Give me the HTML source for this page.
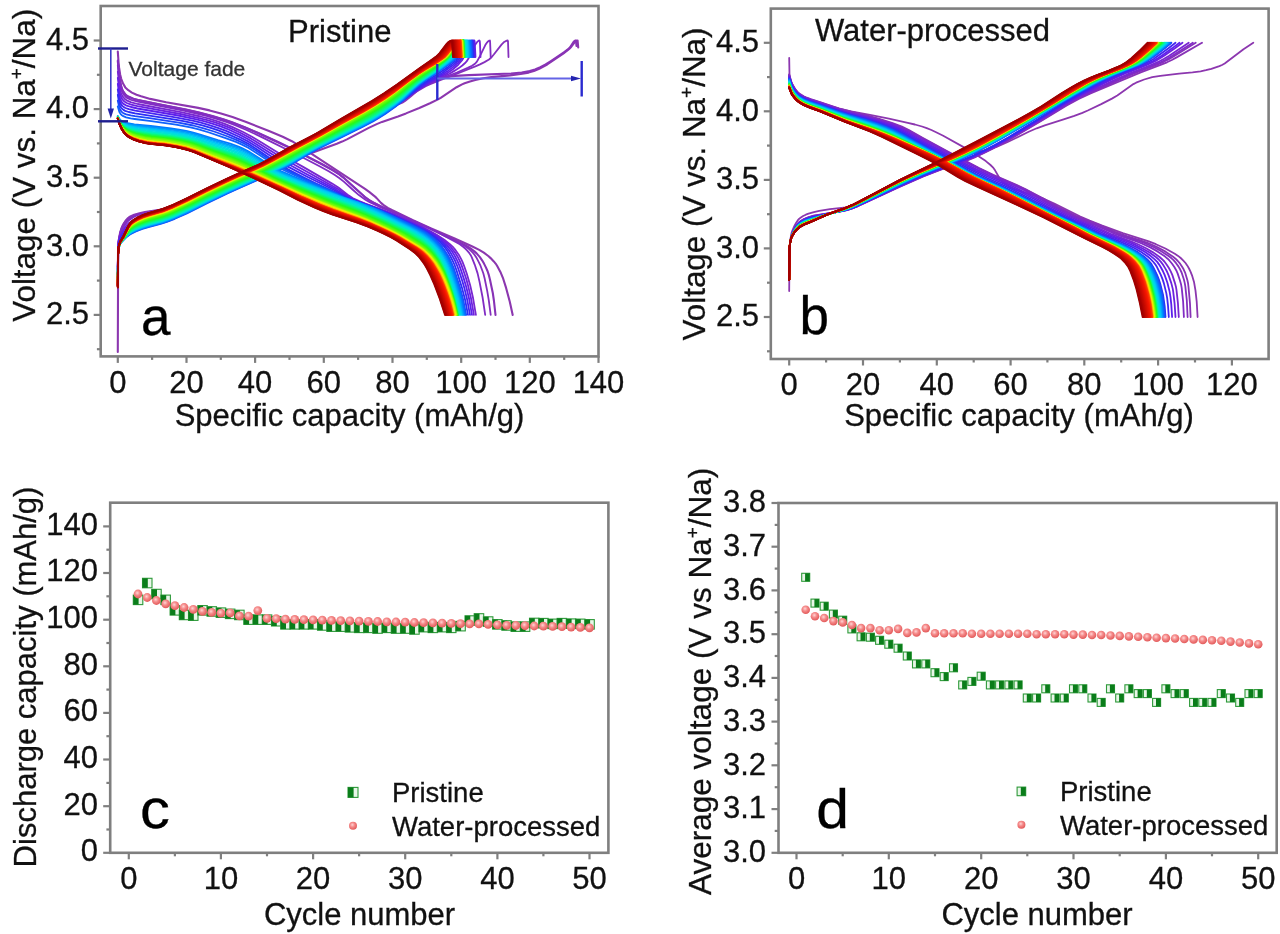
<!DOCTYPE html>
<html><head><meta charset="utf-8"><title>Figure</title><style>html,body{margin:0;padding:0;background:#fff;}svg{display:block;filter:blur(0.6px);}</style></head><body>
<svg width="1280" height="934" viewBox="0 0 1280 934" font-family='"Liberation Sans", sans-serif'>
<rect width="1280" height="934" fill="#ffffff"/>
<g>
<path d="M117.8 51.5L118.6 63.0L119.1 67.7L120.2 74.7L121.3 79.1L123.2 83.8L125.3 87.4L128.3 90.2L131.9 92.6L136.5 94.7L141.1 96.3L150.2 98.9L166.2 102.3L198.2 107.9L209.6 110.4L221.0 113.5L232.5 117.1L246.2 122.1L269.0 131.0L282.7 136.8L291.9 141.2L298.7 145.3L365.0 188.9L369.5 192.2L374.1 195.8L376.4 197.9L381.0 202.9L383.3 204.9L387.8 207.9L392.4 210.3L413.0 220.2L431.2 228.4L454.1 238.3L472.4 246.5L479.2 249.9L483.8 252.7L488.3 256.0L490.6 258.1L493.8 261.4L495.8 263.8L497.2 266.0L500.4 271.9L503.2 278.7L506.1 287.9L509.8 301.8L512.7 314.9" stroke="#8c37af" stroke-width="2.10" fill="none" stroke-linejoin="round" stroke-linecap="round"/>
<path d="M117.8 351.9L118.1 264.9L118.4 252.6L119.1 243.6L120.3 233.4L120.9 230.8L122.2 227.3L123.8 224.0L125.3 221.6L127.2 219.6L129.4 217.9L131.6 216.6L134.3 215.4L136.9 214.6L142.3 213.4L152.9 211.7L158.3 210.4L163.6 208.8L224.9 188.0L238.2 183.1L246.2 179.9L278.1 166.0L291.5 160.5L310.1 153.4L336.8 143.7L342.1 141.6L347.4 139.1L368.7 127.9L376.7 124.1L382.0 121.9L398.0 116.4L406.0 113.4L419.3 108.0L430.0 103.3L438.0 99.4L440.7 97.9L456.6 87.2L462.0 84.4L464.6 83.3L470.0 81.5L475.3 80.0L483.3 78.2L491.3 77.1L509.9 75.4L520.6 74.0L528.6 72.6L533.9 71.1L539.2 68.7L547.2 64.5L563.2 53.6L569.2 48.9L570.6 47.5L574.6 42.3L575.6 41.4L576.6 40.7L577.6 40.5L578.2 47.4" stroke="#8c37af" stroke-width="2.10" fill="none" stroke-linejoin="round" stroke-linecap="round"/>
<path d="M117.8 61.1L119.6 78.7L121.4 87.2L122.4 90.2L124.0 92.9L125.8 95.1L127.8 96.6L133.5 98.9L137.9 100.1L183.8 109.2L199.1 112.8L212.2 116.2L223.1 119.4L231.8 122.4L245.0 127.5L255.9 132.2L275.6 141.2L295.2 150.6L321.4 164.0L332.4 170.0L338.9 174.2L343.3 177.6L354.2 187.6L365.2 197.3L369.5 200.3L373.9 202.8L380.5 206.1L397.9 213.8L430.7 228.9L446.0 236.3L459.1 242.1L465.7 245.4L470.1 248.1L474.4 251.4L476.6 253.4L479.9 257.1L482.1 260.3L484.0 263.6L485.9 267.4L487.6 271.2L488.7 274.6L490.0 279.7L492.8 293.0L493.9 300.5L495.5 314.9" stroke="#8833b6" stroke-width="2.10" fill="none" stroke-linejoin="round" stroke-linecap="round"/>
<path d="M117.8 273.7L118.1 247.1L118.4 242.3L120.0 233.2L121.6 227.9L122.5 225.8L124.1 223.1L125.6 220.8L127.5 218.6L129.1 217.2L130.9 216.1L134.2 214.7L139.5 213.2L144.8 212.1L163.4 209.3L168.7 208.0L174.0 206.4L187.3 201.7L211.2 192.0L237.7 181.9L253.7 176.1L261.6 172.9L269.6 169.0L290.8 157.8L325.3 141.2L338.6 134.5L346.6 130.0L367.8 116.9L375.8 112.6L381.1 110.2L383.7 109.2L397.0 104.9L402.3 102.5L405.0 100.8L410.3 96.7L423.5 85.3L428.8 81.6L431.5 80.2L434.1 79.2L439.5 78.1L447.4 76.8L455.4 75.9L468.7 75.1L511.1 73.5L521.7 72.5L529.7 71.1L535.0 69.5L540.3 67.2L545.6 64.5L550.9 61.1L564.6 51.9L568.2 49.1L569.9 47.5L573.5 42.1L574.5 41.1L575.2 40.6L575.9 40.5L576.5 46.0" stroke="#8833b6" stroke-width="2.10" fill="none" stroke-linejoin="round" stroke-linecap="round"/>
<path d="M117.8 60.4L119.3 76.4L120.1 81.2L121.4 86.7L122.4 89.7L124.0 92.4L125.8 94.6L127.9 96.2L133.5 98.5L137.9 99.8L159.9 104.3L186.2 109.4L199.3 112.5L212.5 115.9L223.4 119.2L232.2 122.2L245.3 127.3L258.5 132.9L278.2 141.9L293.6 149.4L322.1 164.1L333.0 170.3L339.6 174.5L344.0 177.8L365.4 197.3L369.7 200.4L373.9 202.8L382.5 207.1L397.5 213.7L432.0 229.5L457.3 241.7L461.2 243.8L465.2 246.2L469.1 249.1L471.0 250.9L473.0 252.9L474.7 255.0L476.7 258.1L478.4 261.4L480.5 265.7L482.2 270.2L483.3 273.3L484.6 278.3L487.2 290.9L488.8 300.4L490.7 314.9" stroke="#8530bd" stroke-width="1.80" fill="none" stroke-linejoin="round" stroke-linecap="round"/>
<path d="M117.8 266.9L118.1 248.4L118.3 243.5L118.9 239.2L120.2 232.9L121.8 228.4L125.0 223.1L126.6 221.1L128.2 219.5L129.5 218.4L131.8 217.0L136.3 215.0L143.1 213.1L149.9 211.7L161.2 209.8L168.0 208.3L179.3 205.5L188.3 202.9L195.1 200.4L210.9 194.2L238.0 183.2L258.4 175.6L272.0 169.6L324.0 144.6L339.8 136.6L357.9 127.1L369.2 120.8L380.5 114.3L400.8 101.8L416.7 91.5L425.7 86.3L430.2 84.2L437.0 81.3L455.1 74.5L475.4 66.4L480.0 64.4L484.5 62.1L489.0 59.5L491.0 57.8L493.8 54.5L501.5 44.6L503.7 42.3L506.0 40.9L507.7 40.5L508.0 41.4L508.5 57.0" stroke="#8530bd" stroke-width="1.80" fill="none" stroke-linejoin="round" stroke-linecap="round"/>
<path d="M117.8 65.3L119.6 82.1L121.4 89.8L122.4 92.5L123.7 94.6L125.5 96.7L127.5 98.2L131.3 99.8L137.8 101.7L183.5 110.5L196.6 113.5L207.4 116.2L218.3 119.3L227.0 122.2L235.7 125.5L246.5 130.0L261.7 137.1L298.4 155.3L320.0 166.5L328.7 171.3L335.2 175.3L339.5 178.2L343.8 181.6L352.5 189.5L358.9 195.1L365.4 199.8L369.7 202.2L378.3 206.3L397.5 214.1L427.5 227.4L438.3 232.7L454.3 241.2L459.8 244.3L463.4 247.0L465.2 248.5L467.0 250.3L469.2 252.9L470.6 254.9L471.7 257.1L474.8 264.8L477.6 273.4L479.5 281.6L482.6 297.5L485.2 314.9" stroke="#812cc4" stroke-width="1.80" fill="none" stroke-linejoin="round" stroke-linecap="round"/>
<path d="M117.8 266.9L118.1 248.7L118.3 243.8L119.1 238.2L120.6 232.3L121.6 229.9L123.4 226.9L125.2 224.3L127.0 222.2L129.0 220.2L131.1 218.7L135.5 216.1L137.6 215.1L139.8 214.4L141.9 214.1L161.4 213.5L165.7 213.2L170.0 212.3L174.3 211.0L189.4 204.8L204.5 197.0L211.0 193.9L228.2 186.1L256.3 173.9L267.1 168.8L277.9 163.3L293.0 155.2L329.6 134.7L344.7 126.4L372.8 111.8L398.7 98.8L418.1 88.0L426.7 84.2L456.9 72.5L467.7 67.9L472.0 65.7L475.3 63.5L476.9 61.6L479.1 57.8L485.3 45.1L487.2 42.3L488.3 41.2L489.1 40.7L489.9 40.5L490.1 41.8L490.7 57.0" stroke="#812cc4" stroke-width="1.80" fill="none" stroke-linejoin="round" stroke-linecap="round"/>
<path d="M117.8 71.7L119.3 85.5L119.8 88.3L121.1 93.0L122.1 95.5L123.2 97.2L125.2 99.3L127.2 100.7L131.2 102.3L137.7 104.0L180.9 112.1L200.4 116.5L209.0 118.7L217.6 121.3L224.1 123.6L232.6 127.1L243.1 132.0L251.5 136.5L259.9 141.5L280.6 154.3L303.1 166.9L332.1 183.6L338.4 187.5L348.9 195.6L353.0 198.2L359.2 201.1L365.3 203.7L385.6 211.0L393.7 214.1L414.0 222.9L422.2 226.8L430.6 231.2L436.7 234.8L444.3 239.8L449.9 244.1L453.6 247.7L455.4 249.9L459.3 255.6L461.2 259.1L462.6 262.1L464.5 267.0L466.9 274.0L470.1 284.9L473.1 298.3L475.9 314.9" stroke="#7927d1" stroke-width="1.80" fill="none" stroke-linejoin="round" stroke-linecap="round"/>
<path d="M117.8 268.1L118.1 249.8L118.3 245.1L118.8 241.0L120.1 235.8L120.8 233.7L121.8 231.7L125.6 226.3L128.9 223.0L133.1 220.2L137.4 218.0L139.5 217.3L141.7 216.9L145.9 216.4L160.9 215.5L165.1 215.0L169.4 214.1L175.8 211.8L188.6 206.5L205.7 197.8L216.3 192.8L258.9 173.9L271.7 167.8L286.6 160.2L299.3 153.3L322.6 140.1L335.4 133.2L356.6 122.2L390.5 105.1L398.9 100.5L411.7 92.8L418.0 89.3L432.9 81.6L449.5 73.7L455.1 70.4L458.8 68.1L462.3 65.5L464.8 63.3L466.6 61.4L468.9 57.7L473.3 48.2L475.0 45.0L477.0 42.2L478.7 40.7L479.5 40.5L479.8 41.3L480.0 43.9L480.5 57.0" stroke="#7927d1" stroke-width="1.80" fill="none" stroke-linejoin="round" stroke-linecap="round"/>
<path d="M117.8 77.8L119.3 90.4L119.8 93.0L120.6 95.5L121.6 98.0L122.6 99.7L124.4 101.5L126.7 103.0L131.1 104.6L137.5 106.2L180.5 114.0L197.7 117.8L206.3 119.9L214.9 122.4L223.4 125.3L229.8 127.9L240.3 132.8L250.8 138.4L259.1 143.4L275.5 153.8L283.6 158.7L337.1 188.5L347.5 195.8L351.6 198.2L357.7 201.0L363.8 203.4L390.0 213.1L408.0 220.9L418.2 225.5L424.4 228.6L430.6 232.0L438.5 237.0L442.3 239.6L446.1 242.5L449.8 245.9L451.6 248.0L455.3 252.9L457.6 256.7L459.7 260.8L461.6 265.4L463.5 270.7L466.2 278.8L467.9 284.9L471.1 298.8L473.9 314.9" stroke="#6b22df" stroke-width="1.80" fill="none" stroke-linejoin="round" stroke-linecap="round"/>
<path d="M117.8 268.9L118.0 250.4L118.3 245.9L118.8 241.8L120.0 236.9L120.8 234.9L121.8 233.0L125.5 227.9L128.8 224.7L133.0 221.9L137.3 219.8L139.4 219.0L141.5 218.6L147.9 217.8L162.7 216.4L166.9 215.7L171.2 214.4L175.4 212.9L188.1 207.6L205.1 198.9L211.4 195.9L236.8 184.4L257.9 175.2L278.9 165.0L297.8 155.2L320.9 142.1L331.4 136.4L352.3 125.6L387.9 107.8L396.3 103.1L427.7 83.8L434.0 80.2L446.1 73.9L449.7 71.6L453.2 69.0L458.2 64.7L461.9 60.5L463.8 57.2L468.0 48.3L469.8 44.8L471.7 42.2L473.4 40.8L474.4 40.5L474.7 41.7L475.5 57.0" stroke="#6b22df" stroke-width="1.80" fill="none" stroke-linejoin="round" stroke-linecap="round"/>
<path d="M117.8 83.9L119.3 95.3L120.3 99.0L121.3 101.2L122.3 102.7L123.8 104.1L125.9 105.3L131.0 107.0L137.4 108.5L178.0 115.5L195.1 119.1L203.7 121.2L212.2 123.6L220.7 126.3L227.0 128.8L239.5 134.6L247.8 139.0L256.0 143.9L276.4 157.1L284.5 162.0L306.8 174.2L335.7 189.4L348.1 197.2L352.2 199.1L358.2 201.6L386.2 212.0L400.2 218.0L420.4 227.2L428.6 231.6L434.5 235.3L438.4 237.9L442.2 240.8L447.7 246.1L451.5 250.6L453.3 253.4L455.4 257.0L457.5 261.1L459.4 265.6L461.3 271.0L464.2 279.9L466.2 286.7L469.2 299.3L472.0 314.9" stroke="#5c1fec" stroke-width="1.80" fill="none" stroke-linejoin="round" stroke-linecap="round"/>
<path d="M117.8 269.6L118.0 251.0L118.3 246.7L118.8 242.7L120.0 238.1L120.8 236.2L121.8 234.4L125.7 229.2L128.7 226.3L132.9 223.6L137.1 221.5L139.2 220.8L141.3 220.3L147.6 219.3L162.4 217.6L166.6 216.7L170.8 215.5L175.0 213.9L187.6 208.6L210.7 197.0L235.9 185.6L258.9 175.5L281.8 164.5L296.4 157.0L319.2 144.1L329.5 138.5L383.2 111.6L391.5 106.9L397.7 103.1L412.2 93.6L426.8 83.5L430.9 81.0L443.1 74.1L447.0 71.6L452.6 67.4L458.1 62.6L460.6 59.7L462.7 56.4L467.0 48.1L468.9 44.7L470.9 42.1L472.6 40.8L473.6 40.5L473.9 41.8L474.7 57.0" stroke="#5c1fec" stroke-width="1.80" fill="none" stroke-linejoin="round" stroke-linecap="round"/>
<path d="M117.8 89.4L119.0 98.1L120.0 102.0L121.0 104.1L122.3 105.9L123.8 107.1L125.5 108.0L128.8 109.2L135.2 110.7L175.4 117.3L192.4 120.7L200.9 122.7L209.3 125.1L217.8 127.8L226.1 130.9L238.6 136.5L248.9 141.9L257.1 146.9L277.4 160.4L287.4 166.4L307.7 177.0L334.4 190.3L346.7 197.3L352.7 199.8L380.6 210.2L392.4 215.2L416.3 225.9L424.5 230.1L430.5 233.7L434.4 236.3L438.2 239.1L442.0 242.4L445.7 246.2L449.5 251.0L451.3 253.9L455.1 260.8L457.0 265.3L458.9 270.5L462.3 281.0L464.5 288.6L467.2 299.8L470.0 314.9" stroke="#4426f0" stroke-width="1.80" fill="none" stroke-linejoin="round" stroke-linecap="round"/>
<path d="M117.8 270.4L118.0 251.7L118.5 245.1L119.5 240.7L120.3 238.6L121.2 236.5L124.0 232.8L127.2 229.3L130.7 226.6L134.9 224.2L137.0 223.3L141.2 222.0L147.4 220.8L162.1 218.7L168.3 217.2L174.6 214.9L187.1 209.6L203.8 201.2L212.2 197.2L235.1 186.7L259.9 175.9L284.7 164.1L297.0 157.8L317.5 146.0L325.6 141.7L348.1 130.4L370.5 119.6L380.7 114.3L388.9 109.6L399.1 102.9L409.3 95.7L421.6 86.1L425.7 83.1L442.2 73.0L452.3 65.6L457.1 61.5L459.3 59.0L461.6 55.6L468.0 44.6L469.8 42.3L471.6 40.9L472.8 40.5L473.1 41.9L473.9 57.0" stroke="#4426f0" stroke-width="1.80" fill="none" stroke-linejoin="round" stroke-linecap="round"/>
<path d="M117.8 94.9L119.0 102.3L120.0 105.6L121.0 107.5L122.3 109.0L123.5 109.9L125.2 110.9L128.7 112.0L135.0 113.4L175.0 119.6L183.4 121.1L191.8 122.8L202.3 125.4L210.7 127.9L219.0 130.7L227.3 133.9L239.7 139.3L247.9 143.6L256.0 148.7L272.2 159.8L280.3 165.0L290.3 170.6L304.5 177.8L316.6 183.7L333.1 191.3L345.3 197.4L375.0 208.4L384.8 212.4L396.5 217.6L416.4 226.6L422.5 229.7L428.5 233.3L432.4 235.9L436.3 238.9L440.2 242.3L444.0 246.3L447.7 251.5L449.5 254.6L452.5 260.3L454.4 264.5L456.5 270.2L462.2 288.6L465.2 300.3L468.0 314.9" stroke="#2d2df5" stroke-width="1.80" fill="none" stroke-linejoin="round" stroke-linecap="round"/>
<path d="M117.8 271.1L118.0 252.3L118.5 245.9L119.5 241.8L120.2 239.7L121.2 237.8L123.9 234.3L127.1 230.9L130.6 228.3L134.8 226.0L136.9 225.0L141.0 223.7L147.2 222.3L161.7 219.9L168.0 218.3L174.2 216.0L186.6 210.7L205.3 201.3L215.6 196.4L236.3 187.0L260.9 176.2L285.4 164.8L295.5 159.6L313.7 149.1L321.8 144.7L346.0 132.8L366.1 123.2L376.1 118.1L386.2 112.2L398.3 104.0L406.4 97.9L418.6 87.2L422.6 83.9L428.8 79.7L439.3 73.1L448.0 66.9L452.3 63.6L455.9 60.6L458.1 58.2L460.3 55.2L467.1 44.5L468.9 42.3L470.8 40.9L472.1 40.5L472.3 41.9L473.1 57.0" stroke="#2d2df5" stroke-width="1.80" fill="none" stroke-linejoin="round" stroke-linecap="round"/>
<path d="M117.8 100.7L119.3 107.5L119.8 108.9L120.5 110.3L121.5 111.6L122.7 112.7L124.4 113.6L126.2 114.3L130.7 115.4L134.9 116.2L149.5 118.2L178.6 122.6L193.2 125.5L203.7 128.3L214.0 131.5L226.5 136.0L236.8 140.1L242.9 142.9L249.1 146.3L255.2 150.1L271.5 161.1L277.6 165.0L283.7 168.4L293.9 173.6L310.2 181.3L332.8 191.5L344.9 197.4L368.6 206.1L382.2 211.5L411.5 224.6L417.5 227.5L423.6 230.7L427.5 233.2L431.3 236.1L435.1 239.3L438.8 243.0L442.4 247.2L444.2 249.7L447.9 255.5L449.7 259.0L452.0 263.8L453.9 268.5L459.8 286.8L463.2 299.7L466.2 314.9" stroke="#1c4bf9" stroke-width="1.80" fill="none" stroke-linejoin="round" stroke-linecap="round"/>
<path d="M117.8 273.7L118.0 254.6L118.5 248.9L119.0 246.8L120.2 243.9L121.6 241.8L126.1 237.3L130.3 234.3L136.4 231.2L142.4 228.9L148.5 227.1L160.6 224.0L166.7 222.0L174.8 218.8L186.9 213.4L207.2 203.2L227.4 193.5L239.5 188.0L273.9 172.8L286.0 167.1L294.1 162.8L310.3 153.0L318.4 148.6L342.7 136.6L360.9 127.8L373.0 121.4L379.1 117.8L385.1 113.9L395.3 106.7L403.3 100.1L415.5 88.3L421.5 83.2L425.6 80.2L436.4 73.1L443.3 68.3L450.5 63.2L454.3 60.2L456.4 58.2L458.5 55.6L466.5 44.1L468.2 42.2L469.8 41.0L471.4 40.5L471.6 42.0L472.4 57.0" stroke="#1c4bf9" stroke-width="1.80" fill="none" stroke-linejoin="round" stroke-linecap="round"/>
<path d="M117.8 106.4L119.3 111.7L120.5 113.9L121.5 115.0L122.7 115.9L126.1 117.3L130.6 118.4L134.7 119.0L151.2 121.1L176.0 124.6L190.5 127.3L198.8 129.4L209.1 132.5L225.6 138.1L235.9 141.9L242.0 144.6L248.2 147.8L256.4 152.9L274.8 165.1L281.0 168.7L289.2 172.8L305.5 180.2L332.2 191.9L344.3 197.5L368.0 206.0L377.7 209.8L387.4 213.9L397.2 218.3L414.7 227.0L422.7 231.3L426.6 233.8L430.4 236.6L434.2 239.8L437.9 243.5L441.5 247.7L443.3 250.2L445.2 253.0L448.8 259.6L451.1 264.4L452.9 269.1L458.9 287.2L462.3 300.0L465.3 314.9" stroke="#0f63fc" stroke-width="1.80" fill="none" stroke-linejoin="round" stroke-linecap="round"/>
<path d="M117.8 274.2L118.0 254.6L118.5 248.9L119.0 246.8L120.2 243.8L121.6 241.8L126.4 236.9L130.3 233.9L132.3 232.8L136.4 230.8L142.4 228.5L148.5 226.7L162.6 222.9L168.7 220.8L176.7 217.5L188.9 212.0L207.0 202.8L229.3 192.2L277.8 170.6L285.8 166.7L291.9 163.5L310.1 152.7L318.2 148.2L362.6 126.4L372.7 121.0L378.8 117.4L384.8 113.5L394.9 106.3L403.0 99.8L415.1 88.1L421.2 83.0L427.3 78.7L433.6 74.6L438.1 71.6L447.4 64.9L453.3 60.3L455.4 58.3L457.4 55.8L465.7 44.0L467.3 42.2L468.9 41.0L470.5 40.5L470.8 42.1L471.5 57.0" stroke="#0f63fc" stroke-width="1.80" fill="none" stroke-linejoin="round" stroke-linecap="round"/>
<path d="M117.8 116.1L119.5 119.1L120.9 120.5L122.8 121.7L126.2 122.8L134.4 124.3L150.7 126.0L171.0 128.5L179.1 129.7L187.3 131.2L193.3 132.6L199.4 134.3L217.8 140.1L230.2 143.7L238.4 146.6L242.5 148.4L248.7 151.6L255.0 155.4L271.6 166.1L277.8 169.6L282.0 171.7L292.4 176.2L327.6 190.5L343.8 197.5L365.5 205.2L383.0 212.2L411.8 226.5L419.8 230.7L423.8 233.1L427.6 235.7L431.4 238.7L435.1 242.1L440.6 248.3L444.2 253.5L446.1 256.6L448.8 262.0L451.1 267.2L453.4 273.6L457.0 284.5L459.2 291.8L461.1 299.2L464.4 314.9" stroke="#017aff" stroke-width="1.80" fill="none" stroke-linejoin="round" stroke-linecap="round"/>
<path d="M117.8 274.6L118.0 254.7L118.5 248.9L119.0 246.7L120.2 243.8L121.4 242.0L126.4 236.7L130.3 233.6L132.3 232.4L136.3 230.4L142.4 228.1L148.4 226.3L162.6 222.5L168.6 220.4L176.7 217.0L188.8 211.6L206.9 202.4L229.1 191.8L277.6 170.2L291.7 163.1L309.8 152.3L317.9 147.9L362.3 126.0L372.4 120.6L378.5 117.0L384.5 113.1L394.6 105.9L402.7 99.5L414.8 87.9L418.8 84.4L424.9 79.8L435.4 73.0L439.9 69.9L451.4 61.1L453.8 59.0L456.1 56.3L464.8 43.9L466.4 42.1L468.0 41.0L469.6 40.5L470.1 46.0L470.6 57.0" stroke="#017aff" stroke-width="1.80" fill="none" stroke-linejoin="round" stroke-linecap="round"/>
<path d="M117.8 116.2L119.5 119.4L121.1 121.1L123.5 122.6L127.1 123.8L130.3 124.5L136.4 125.5L172.8 129.9L180.9 131.1L189.0 132.7L199.1 135.4L217.4 141.3L233.8 146.3L240.0 148.5L244.2 150.3L250.4 153.6L256.7 157.4L271.2 166.9L277.4 170.4L281.6 172.5L291.9 177.0L341.2 196.8L359.0 202.9L372.7 208.1L410.9 227.0L418.9 231.2L422.9 233.6L426.7 236.3L430.5 239.2L434.2 242.6L439.7 248.8L443.3 254.1L445.2 257.2L447.9 262.5L450.2 267.7L452.5 274.1L456.1 284.9L458.2 292.2L460.2 299.5L463.4 314.9" stroke="#0094fc" stroke-width="1.80" fill="none" stroke-linejoin="round" stroke-linecap="round"/>
<path d="M117.8 275.0L118.0 254.7L118.5 248.9L119.0 246.7L120.2 243.7L121.4 241.9L126.6 236.3L130.3 233.3L132.3 232.0L136.3 230.0L142.3 227.7L148.4 225.8L162.5 222.1L168.5 219.9L176.6 216.6L188.7 211.1L206.8 202.0L229.0 191.4L275.3 170.8L283.4 166.9L291.5 162.7L309.6 152.0L317.7 147.6L362.1 125.6L372.1 120.2L378.2 116.6L384.2 112.7L394.3 105.6L402.4 99.1L414.5 87.7L418.5 84.2L424.6 79.6L439.4 69.8L448.5 62.8L452.2 59.7L453.9 57.9L456.5 54.6L463.4 44.4L465.3 42.3L467.2 40.9L468.7 40.5L469.2 46.2L469.7 57.0" stroke="#0094fc" stroke-width="1.80" fill="none" stroke-linejoin="round" stroke-linecap="round"/>
<path d="M117.8 116.4L119.5 119.7L121.4 121.8L124.0 123.4L127.8 124.8L132.3 125.8L138.3 126.8L174.6 131.3L182.6 132.6L188.7 133.8L198.7 136.5L217.0 142.5L233.3 147.5L239.5 149.7L243.6 151.5L249.9 154.7L256.1 158.4L272.8 168.9L281.1 173.3L295.6 179.4L338.6 196.1L358.5 202.8L368.0 207.0L379.4 212.4L410.1 227.6L418.0 231.8L422.0 234.2L425.8 236.8L429.6 239.8L433.3 243.1L437.0 247.1L438.8 249.3L442.4 254.6L444.2 257.7L447.0 263.1L449.3 268.3L451.6 274.6L454.9 284.6L457.3 292.5L459.3 299.8L462.5 314.9" stroke="#00adf9" stroke-width="1.80" fill="none" stroke-linejoin="round" stroke-linecap="round"/>
<path d="M117.8 275.5L118.0 254.8L118.5 248.8L119.0 246.7L120.2 243.7L121.6 241.5L127.5 235.2L130.2 232.9L132.3 231.7L136.3 229.6L142.3 227.3L148.4 225.4L162.4 221.6L168.5 219.5L174.5 217.0L188.6 210.7L206.7 201.6L228.8 191.0L275.1 170.4L283.2 166.5L291.3 162.3L309.4 151.6L317.4 147.2L361.8 125.2L371.8 119.8L377.9 116.2L383.9 112.3L394.0 105.2L402.1 98.8L414.1 87.5L418.2 84.0L424.2 79.5L439.0 69.5L447.8 62.7L451.5 59.5L453.2 57.7L455.7 54.3L462.3 44.7L464.4 42.3L466.3 40.9L467.8 40.5L468.3 46.4L468.9 57.0" stroke="#00adf9" stroke-width="1.80" fill="none" stroke-linejoin="round" stroke-linecap="round"/>
<path d="M117.8 116.6L119.5 120.0L121.6 122.4L124.4 124.3L128.2 125.8L132.2 126.7L138.2 127.8L172.3 132.0L180.3 133.3L188.4 134.9L198.4 137.6L216.5 143.7L232.8 148.7L239.0 150.9L243.1 152.7L249.3 155.9L255.5 159.5L272.1 169.7L280.5 174.0L288.8 177.7L299.2 181.8L326.0 191.9L351.8 201.3L359.5 204.4L370.9 209.5L382.3 214.9L409.2 228.1L417.1 232.3L421.1 234.7L424.9 237.4L428.7 240.3L432.4 243.6L436.1 247.6L437.9 249.9L441.5 255.1L443.3 258.3L446.1 263.7L448.4 268.8L450.7 275.1L454.0 285.1L456.4 292.9L458.4 300.1L461.6 314.9" stroke="#00c6f6" stroke-width="1.80" fill="none" stroke-linejoin="round" stroke-linecap="round"/>
<path d="M117.8 275.9L118.0 254.8L118.5 248.8L119.0 246.7L120.2 243.6L121.6 241.5L127.7 234.7L130.2 232.6L132.2 231.3L136.3 229.2L142.3 226.9L148.3 225.0L162.4 221.2L168.4 219.1L174.4 216.6L188.5 210.3L206.6 201.1L228.7 190.6L272.9 170.9L283.0 166.1L291.0 161.9L309.2 151.3L317.2 146.9L361.5 124.7L371.6 119.4L377.6 115.8L383.6 111.9L393.7 104.8L401.7 98.5L413.8 87.2L417.8 83.8L423.9 79.3L438.5 69.3L447.3 62.5L450.5 59.6L452.2 57.8L454.4 54.9L461.2 44.9L463.3 42.4L465.1 41.0L466.2 40.6L467.0 40.5L467.2 42.4L468.0 57.0" stroke="#00c6f6" stroke-width="1.80" fill="none" stroke-linejoin="round" stroke-linecap="round"/>
<path d="M117.8 116.7L119.4 120.3L121.6 122.9L122.7 123.9L124.4 124.9L128.2 126.6L132.1 127.7L138.1 128.8L172.1 133.1L180.1 134.4L188.1 136.0L198.0 138.8L216.1 144.9L232.3 150.0L238.5 152.2L242.6 153.9L248.7 157.0L271.5 170.5L279.8 174.7L290.2 179.2L302.6 184.1L339.1 197.9L350.9 202.1L360.5 206.0L371.9 211.0L383.3 216.4L408.3 228.6L416.3 232.9L424.0 237.9L427.8 240.8L431.5 244.2L433.3 246.0L437.0 250.4L440.6 255.7L442.4 258.8L445.2 264.2L447.5 269.4L449.8 275.7L453.1 285.5L455.5 293.3L457.4 300.4L460.6 314.9" stroke="#00d7e9" stroke-width="1.80" fill="none" stroke-linejoin="round" stroke-linecap="round"/>
<path d="M117.8 276.3L118.0 254.8L118.5 248.8L119.0 246.6L120.2 243.5L121.6 241.4L128.0 234.2L130.2 232.3L132.2 230.9L136.2 228.8L142.3 226.4L148.3 224.6L162.3 220.8L168.3 218.6L174.4 216.2L188.4 209.8L206.5 200.7L228.6 190.2L272.7 170.5L282.8 165.7L290.8 161.5L308.9 150.9L315.0 147.6L361.2 124.3L371.3 118.9L383.3 111.5L393.4 104.5L401.4 98.2L413.5 87.0L417.5 83.6L423.5 79.1L436.0 70.7L444.5 64.1L448.9 60.4L451.3 58.0L453.7 54.8L460.4 44.8L462.5 42.4L464.3 41.0L465.3 40.6L466.1 40.5L466.3 42.4L467.1 57.0" stroke="#00d7e9" stroke-width="1.80" fill="none" stroke-linejoin="round" stroke-linecap="round"/>
<path d="M117.8 116.9L119.7 121.0L120.8 122.6L122.3 124.0L125.8 126.4L130.1 128.0L134.1 129.1L140.0 130.2L152.0 131.8L171.8 134.2L179.8 135.5L187.7 137.1L197.7 139.9L215.7 146.1L231.8 151.2L237.9 153.4L242.0 155.1L248.2 158.2L270.8 171.3L275.0 173.5L281.2 176.4L291.5 180.8L308.0 187.3L338.3 198.8L351.9 203.6L363.4 208.3L374.8 213.4L388.2 219.7L407.5 229.2L415.4 233.4L423.1 238.5L426.9 241.4L430.6 244.7L432.4 246.6L436.1 250.9L439.7 256.2L441.5 259.4L444.3 264.8L446.6 269.9L448.9 276.2L452.0 285.2L456.3 299.7L459.7 314.9" stroke="#00e2d3" stroke-width="1.80" fill="none" stroke-linejoin="round" stroke-linecap="round"/>
<path d="M117.8 276.7L118.0 254.9L118.5 248.8L119.0 246.6L120.2 243.5L121.6 241.3L128.0 234.0L130.2 231.9L132.2 230.6L136.2 228.5L142.2 226.0L148.2 224.1L162.3 220.3L168.3 218.2L174.3 215.8L188.3 209.4L206.4 200.3L228.4 189.8L272.6 170.2L288.6 162.2L314.7 147.3L360.9 123.9L371.0 118.5L383.0 111.1L395.1 102.6L401.1 97.8L413.1 86.8L417.2 83.3L423.2 78.9L435.5 70.4L443.9 63.9L448.2 60.2L450.6 57.8L453.0 54.6L459.5 44.7L461.6 42.4L463.4 41.0L464.4 40.6L465.2 40.5L465.4 42.4L466.2 57.0" stroke="#00e2d3" stroke-width="1.80" fill="none" stroke-linejoin="round" stroke-linecap="round"/>
<path d="M117.8 117.1L119.7 121.3L120.8 123.0L122.2 124.6L123.9 125.9L126.0 127.2L130.0 128.9L136.0 130.5L141.9 131.6L151.8 132.9L171.6 135.3L179.5 136.6L187.4 138.2L197.3 141.0L215.2 147.3L229.3 151.8L237.4 154.7L241.5 156.4L247.6 159.3L270.2 172.0L274.3 174.2L280.5 177.1L290.8 181.5L309.3 188.9L337.4 199.6L351.0 204.5L364.4 209.9L375.9 214.9L389.2 221.2L406.6 229.7L414.5 234.0L418.4 236.4L424.1 240.4L429.7 245.2L431.5 247.1L435.2 251.4L438.8 256.8L440.6 259.9L443.4 265.3L445.7 270.5L448.0 276.7L451.0 285.7L455.4 300.0L458.8 314.9" stroke="#00ecbd" stroke-width="1.80" fill="none" stroke-linejoin="round" stroke-linecap="round"/>
<path d="M117.8 277.2L118.0 254.9L118.5 248.7L119.0 246.6L120.2 243.4L121.3 241.5L127.9 233.7L130.2 231.6L132.2 230.2L136.2 228.1L142.2 225.6L148.2 223.7L162.2 219.9L168.2 217.8L174.2 215.3L188.2 209.0L206.2 199.9L228.3 189.4L240.3 183.9L260.3 175.3L272.4 169.8L288.4 161.7L314.5 146.9L360.6 123.5L370.7 118.1L382.7 110.7L394.8 102.3L400.8 97.5L412.8 86.6L416.8 83.1L422.8 78.7L433.0 71.7L443.4 63.7L447.5 60.0L449.9 57.6L452.2 54.4L458.7 44.7L460.7 42.3L462.5 41.0L463.5 40.6L464.3 40.5L464.5 42.5L465.3 57.0" stroke="#00ecbd" stroke-width="1.80" fill="none" stroke-linejoin="round" stroke-linecap="round"/>
<path d="M117.8 117.1L119.7 121.5L120.8 123.2L122.2 124.8L123.8 126.2L125.9 127.6L130.0 129.4L135.9 131.0L141.9 132.1L151.7 133.6L171.5 135.9L181.3 137.6L189.2 139.3L197.1 141.6L215.0 147.9L229.1 152.5L237.1 155.3L241.2 157.0L247.3 160.0L269.8 172.5L273.9 174.6L280.1 177.5L290.4 181.9L308.8 189.3L336.8 200.1L350.4 205.0L365.7 211.2L377.1 216.2L390.5 222.5L405.9 230.1L413.8 234.4L417.7 236.8L423.4 240.8L429.0 245.5L430.9 247.4L434.6 251.8L438.3 257.1L440.1 260.2L442.9 265.6L445.2 270.8L447.6 276.9L450.7 285.9L455.0 300.2L458.4 314.9" stroke="#00f5aa" stroke-width="1.80" fill="none" stroke-linejoin="round" stroke-linecap="round"/>
<path d="M117.8 277.4L118.0 255.0L118.5 248.7L119.0 246.5L120.2 243.4L121.3 241.5L128.2 233.3L130.2 231.4L132.2 230.0L136.2 227.8L142.2 225.4L148.2 223.5L162.2 219.7L168.2 217.5L174.2 215.1L188.2 208.8L206.2 199.7L228.2 189.2L270.3 170.5L280.3 165.7L288.3 161.6L314.4 146.8L360.6 123.4L370.6 118.0L382.6 110.6L394.7 102.2L400.7 97.4L412.7 86.5L416.7 83.1L422.8 78.6L432.9 71.6L443.2 63.6L447.3 59.9L449.6 57.5L451.9 54.4L458.3 44.7L460.4 42.3L462.2 41.0L463.2 40.6L463.9 40.5L464.2 42.5L464.9 57.0" stroke="#00f5aa" stroke-width="1.80" fill="none" stroke-linejoin="round" stroke-linecap="round"/>
<path d="M117.8 117.3L119.7 121.7L121.0 123.8L122.7 125.7L124.8 127.3L126.8 128.6L131.9 130.6L137.8 132.1L143.8 133.2L151.6 134.3L171.3 136.6L181.2 138.3L189.0 140.0L196.9 142.4L214.7 148.7L228.7 153.4L236.8 156.2L240.8 157.9L246.9 160.8L269.3 173.1L279.6 178.1L289.8 182.5L310.2 190.8L336.1 200.8L351.6 206.4L366.8 212.6L378.2 217.7L391.5 224.0L405.0 230.6L412.9 235.0L422.6 241.3L428.3 246.0L430.2 247.8L434.0 252.1L437.8 257.4L439.6 260.5L442.5 265.9L444.9 271.0L447.2 277.1L450.1 285.3L452.5 292.7L454.7 300.2L458.2 314.9" stroke="#09f687" stroke-width="1.80" fill="none" stroke-linejoin="round" stroke-linecap="round"/>
<path d="M117.8 278.1L118.0 255.0L118.5 248.7L119.0 246.5L120.2 243.3L121.3 241.4L128.1 232.8L130.1 230.8L132.1 229.4L136.1 227.2L142.1 224.7L148.1 222.7L162.1 218.9L168.1 216.8L174.0 214.4L188.0 208.0L206.0 199.0L227.9 188.5L269.9 169.9L279.9 165.0L287.9 160.8L313.9 146.2L360.0 122.6L370.0 117.2L382.1 109.9L394.1 101.5L400.1 96.8L416.1 82.7L422.1 78.3L434.3 69.8L442.7 63.4L446.9 59.8L449.2 57.4L451.6 54.3L458.1 44.7L460.1 42.3L461.9 41.0L463.0 40.6L463.7 40.5L464.0 42.5L464.7 57.0" stroke="#09f687" stroke-width="1.80" fill="none" stroke-linejoin="round" stroke-linecap="round"/>
<path d="M117.8 117.4L119.7 121.9L122.2 125.5L123.8 127.1L125.9 128.6L127.7 129.6L129.9 130.6L135.8 132.4L141.7 133.6L151.5 135.1L171.1 137.4L181.0 139.1L188.8 140.8L196.7 143.1L214.4 149.5L234.4 156.4L240.4 158.8L246.5 161.6L268.8 173.7L279.0 178.6L309.5 191.4L335.4 201.5L352.7 207.8L366.0 213.2L375.5 217.4L388.8 223.6L402.2 230.2L410.0 234.4L419.8 240.5L423.7 243.2L427.6 246.4L429.5 248.2L433.4 252.5L437.2 257.7L439.2 260.8L442.1 266.1L444.5 271.2L446.9 277.3L449.8 285.5L452.3 292.8L454.5 300.3L457.9 314.9" stroke="#13f764" stroke-width="1.80" fill="none" stroke-linejoin="round" stroke-linecap="round"/>
<path d="M117.8 278.9L118.0 255.1L118.5 248.7L119.0 246.4L120.1 243.2L121.3 241.3L123.2 239.0L128.1 232.3L130.1 230.3L132.1 228.8L136.1 226.5L142.1 223.9L148.0 222.0L162.0 218.2L167.9 216.1L173.9 213.6L187.9 207.3L207.8 197.3L227.7 187.8L241.7 181.5L259.6 173.7L269.6 169.2L287.5 160.1L311.5 146.6L359.5 121.8L369.5 116.4L381.5 109.1L393.5 100.8L399.4 96.2L415.4 82.3L421.4 77.9L435.8 68.0L444.3 61.5L447.5 58.7L449.1 57.0L451.3 54.2L457.8 44.6L459.9 42.3L461.7 41.0L462.7 40.6L463.5 40.5L463.7 42.5L464.5 57.0" stroke="#13f764" stroke-width="1.80" fill="none" stroke-linejoin="round" stroke-linecap="round"/>
<path d="M117.8 117.5L119.6 122.1L121.0 124.4L122.4 126.2L124.3 127.9L126.1 129.3L129.9 131.2L135.8 133.1L143.6 134.7L151.4 135.8L171.0 138.1L180.8 139.8L188.6 141.5L196.4 143.9L214.1 150.4L234.0 157.3L240.0 159.7L246.1 162.5L268.3 174.3L278.5 179.2L310.9 192.9L334.6 202.2L353.9 209.3L367.1 214.6L378.5 219.7L389.9 225.1L403.3 231.7L409.1 234.9L420.9 242.3L426.9 246.8L428.8 248.6L432.8 252.8L436.7 258.0L438.7 261.1L441.6 266.4L444.1 271.5L446.6 277.5L449.5 285.6L452.0 292.9L454.2 300.4L457.6 314.9" stroke="#1cf941" stroke-width="1.80" fill="none" stroke-linejoin="round" stroke-linecap="round"/>
<path d="M117.8 279.6L118.0 255.2L118.5 248.6L119.0 246.4L119.9 243.6L121.1 241.5L123.2 238.9L128.1 231.9L130.1 229.7L132.1 228.1L136.0 225.8L142.0 223.2L148.0 221.2L161.9 217.4L167.8 215.3L173.8 212.9L187.7 206.5L207.6 196.5L227.5 187.1L239.4 181.7L257.3 174.0L267.2 169.4L283.2 161.4L311.1 145.9L358.9 121.0L368.9 115.6L380.9 108.3L390.8 101.5L398.8 95.5L410.8 85.2L416.7 80.4L422.7 76.1L437.4 66.2L443.9 61.3L447.2 58.6L448.8 56.9L451.2 53.8L457.6 44.6L459.7 42.3L461.5 41.0L462.5 40.6L463.3 40.5L463.5 42.5L464.3 57.0" stroke="#1cf941" stroke-width="1.80" fill="none" stroke-linejoin="round" stroke-linecap="round"/>
<path d="M117.8 117.6L119.6 122.3L121.0 124.7L122.4 126.5L124.2 128.3L126.1 129.8L127.7 130.7L129.9 131.7L135.7 133.7L143.5 135.4L151.3 136.6L170.8 138.9L180.6 140.6L188.4 142.3L192.3 143.4L198.1 145.3L213.8 151.2L233.7 158.1L239.6 160.6L245.7 163.3L269.9 175.9L280.0 180.7L302.2 190.2L314.2 195.1L333.9 202.9L355.0 210.7L368.2 216.0L379.5 221.1L390.9 226.5L402.4 232.2L408.3 235.5L420.1 242.8L426.1 247.2L428.1 249.0L432.1 253.2L436.2 258.3L438.2 261.4L441.2 266.7L443.7 271.7L446.2 277.7L449.2 285.8L451.7 293.1L453.9 300.5L457.4 314.9" stroke="#25fa1d" stroke-width="1.80" fill="none" stroke-linejoin="round" stroke-linecap="round"/>
<path d="M117.8 280.4L118.0 255.2L118.5 248.6L119.2 245.5L119.9 243.5L120.8 241.7L123.2 238.7L128.1 231.4L130.1 229.1L132.0 227.5L134.0 226.2L138.0 224.1L143.9 221.8L147.9 220.5L161.8 216.7L167.7 214.6L173.7 212.1L187.5 205.8L207.4 195.8L227.2 186.4L239.1 181.0L257.0 173.3L266.9 168.8L282.8 160.7L308.7 146.4L358.4 120.2L368.3 114.8L380.3 107.6L390.2 100.8L398.2 94.9L410.1 84.8L416.1 80.0L422.0 75.7L436.9 66.0L443.5 61.2L446.8 58.5L448.4 56.8L450.9 53.7L457.4 44.6L459.5 42.3L461.3 41.0L462.3 40.6L463.1 40.5L463.3 42.5L464.1 57.0" stroke="#25fa1d" stroke-width="1.80" fill="none" stroke-linejoin="round" stroke-linecap="round"/>
<path d="M117.8 117.7L119.6 122.5L121.0 125.0L122.4 126.9L124.2 128.8L126.0 130.3L127.7 131.3L129.8 132.3L135.7 134.4L143.4 136.2L151.2 137.4L170.7 139.6L180.4 141.3L188.2 143.1L192.1 144.1L197.9 146.1L213.5 152.0L231.3 158.3L237.3 160.6L245.2 164.2L273.4 178.5L301.6 190.8L327.3 201.3L356.1 212.1L371.2 218.3L382.5 223.4L393.9 228.9L401.6 232.8L407.4 236.0L419.3 243.3L425.4 247.6L427.4 249.4L431.5 253.5L435.6 258.6L437.7 261.7L440.8 266.9L443.3 271.9L445.9 277.9L448.9 285.9L451.4 293.2L453.7 300.6L457.1 314.9" stroke="#3dfa11" stroke-width="1.80" fill="none" stroke-linejoin="round" stroke-linecap="round"/>
<path d="M117.8 281.1L118.0 255.3L118.5 248.5L119.2 245.5L119.9 243.4L120.8 241.6L123.2 238.5L128.1 230.9L130.0 228.5L132.0 226.9L134.0 225.5L137.9 223.4L143.9 221.0L147.8 219.8L161.7 215.9L167.6 213.8L173.5 211.4L187.4 205.0L207.2 195.1L227.0 185.7L238.8 180.3L256.7 172.6L266.6 168.1L282.4 160.0L308.2 145.7L326.1 136.3L367.8 114.0L379.7 106.8L389.6 100.1L397.6 94.2L411.4 82.7L417.4 78.2L423.4 74.0L436.3 65.7L443.0 61.0L446.7 58.1L448.3 56.4L450.6 53.6L457.1 44.6L459.2 42.3L461.1 41.0L462.1 40.6L462.9 40.5L463.1 42.5L463.9 57.0" stroke="#3dfa11" stroke-width="1.80" fill="none" stroke-linejoin="round" stroke-linecap="round"/>
<path d="M117.8 117.8L119.9 123.2L121.5 126.0L122.8 127.8L124.9 129.8L126.9 131.4L131.7 133.8L137.5 135.6L145.3 137.3L151.1 138.1L164.7 139.5L170.5 140.3L180.2 142.0L187.9 143.8L191.8 144.9L197.6 146.9L213.2 152.8L230.9 159.2L236.9 161.5L242.8 164.1L250.8 167.9L272.9 179.1L300.9 191.5L328.5 202.8L355.3 212.7L366.6 217.2L376.0 221.4L387.3 226.6L398.8 232.3L404.6 235.4L418.5 243.8L424.7 248.1L426.7 249.8L430.9 253.9L435.1 259.0L437.2 262.0L440.3 267.2L442.9 272.2L445.5 278.1L448.6 286.1L451.1 293.3L453.4 300.7L456.9 314.9" stroke="#5bfa0d" stroke-width="1.80" fill="none" stroke-linejoin="round" stroke-linecap="round"/>
<path d="M117.8 281.9L118.0 255.4L118.5 248.5L119.2 245.4L119.9 243.4L120.8 241.5L123.1 238.4L128.0 230.5L130.0 227.9L132.0 226.2L133.9 224.9L137.9 222.7L143.8 220.3L147.8 219.0L161.6 215.2L167.5 213.1L173.4 210.6L187.2 204.3L207.0 194.4L226.7 185.0L240.5 178.7L256.3 172.0L264.3 168.4L280.1 160.3L305.8 146.1L323.6 136.8L365.2 114.3L377.1 107.3L387.0 100.8L396.9 93.6L410.8 82.3L416.7 77.8L422.7 73.6L438.0 64.0L444.9 59.1L447.1 57.2L449.1 55.0L457.4 43.9L459.3 42.1L460.8 41.0L461.9 40.6L462.6 40.5L462.9 42.5L463.6 57.0" stroke="#5bfa0d" stroke-width="1.80" fill="none" stroke-linejoin="round" stroke-linecap="round"/>
<path d="M117.8 117.9L119.8 123.4L121.4 126.3L122.8 128.2L124.9 130.3L126.9 131.9L131.7 134.4L137.5 136.3L145.2 138.0L151.0 138.9L168.4 140.8L180.0 142.8L189.7 145.1L199.3 148.4L212.9 153.7L230.6 160.1L238.5 163.2L248.4 167.7L272.3 179.6L302.3 193.0L329.7 204.2L356.4 214.1L367.7 218.6L386.5 227.2L397.9 232.8L403.7 236.0L419.7 245.6L423.9 248.5L426.0 250.2L430.3 254.2L434.6 259.3L436.7 262.3L439.9 267.5L442.5 272.4L445.2 278.3L448.3 286.2L450.9 293.4L452.9 299.9L454.6 306.4L456.6 314.9" stroke="#78fa09" stroke-width="1.80" fill="none" stroke-linejoin="round" stroke-linecap="round"/>
<path d="M117.8 282.6L118.0 255.5L118.5 248.5L119.0 246.2L119.7 243.9L120.6 241.8L123.1 238.2L128.0 230.0L130.0 227.4L131.9 225.6L133.9 224.2L137.8 222.0L143.8 219.6L149.7 217.7L161.5 214.5L167.4 212.3L173.3 209.9L187.1 203.6L206.8 193.7L226.5 184.3L240.3 178.0L256.0 171.3L263.9 167.7L277.7 160.6L301.4 147.6L323.2 136.1L364.7 113.5L376.5 106.5L386.4 100.1L396.3 93.0L410.1 81.9L418.0 76.0L424.2 71.9L437.5 63.8L444.4 59.0L446.8 57.1L448.8 54.9L457.2 43.9L459.0 42.0L460.6 41.0L461.7 40.6L462.4 40.5L462.7 42.5L463.4 57.0" stroke="#78fa09" stroke-width="1.80" fill="none" stroke-linejoin="round" stroke-linecap="round"/>
<path d="M117.8 118.1L119.8 123.6L121.4 126.6L122.8 128.6L124.8 130.8L126.9 132.5L131.6 135.0L137.4 137.0L145.1 138.8L150.9 139.6L168.3 141.5L179.8 143.5L189.4 145.8L197.2 148.4L212.6 154.5L232.2 161.7L240.1 164.9L250.0 169.5L271.8 180.2L301.6 193.6L311.5 197.8L330.9 205.7L355.6 214.7L366.9 219.2L385.7 227.7L395.1 232.4L402.8 236.5L418.9 246.0L423.2 248.9L425.3 250.6L429.7 254.6L431.9 257.0L436.2 262.6L439.5 267.7L442.2 272.6L444.8 278.5L447.7 285.7L450.3 292.8L452.6 300.0L454.4 306.5L456.3 314.9" stroke="#95fa04" stroke-width="1.80" fill="none" stroke-linejoin="round" stroke-linecap="round"/>
<path d="M117.8 283.3L118.0 255.5L118.5 248.4L119.0 246.1L119.7 243.8L120.6 241.7L123.1 238.1L128.0 229.5L129.9 226.8L131.9 225.0L133.9 223.6L137.8 221.3L143.7 218.8L149.6 217.0L161.4 213.7L167.3 211.6L173.2 209.1L186.9 202.8L206.5 193.0L226.2 183.6L240.0 177.3L255.7 170.6L263.6 167.0L273.4 162.0L301.0 146.9L320.7 136.5L342.4 124.5L364.1 112.7L377.9 104.5L389.8 96.6L397.6 90.8L411.4 79.9L419.3 74.2L425.7 70.2L437.0 63.6L444.0 58.9L446.4 57.0L448.4 54.8L457.2 43.6L458.8 42.0L460.4 41.0L461.4 40.6L462.2 40.5L462.5 42.5L463.2 57.0" stroke="#95fa04" stroke-width="1.80" fill="none" stroke-linejoin="round" stroke-linecap="round"/>
<path d="M117.8 118.2L119.2 122.4L120.3 125.0L121.9 127.9L123.4 130.0L125.5 132.2L127.5 133.8L129.7 135.1L133.5 136.8L139.2 138.7L146.9 140.3L152.7 141.1L166.1 142.4L177.6 144.3L189.1 147.0L196.8 149.6L212.2 155.7L231.7 162.8L241.6 166.8L251.5 171.2L271.5 180.6L303.4 194.7L319.1 201.3L332.6 206.7L355.3 215.0L366.6 219.4L385.3 227.9L394.8 232.6L402.4 236.7L418.6 246.2L422.8 249.1L425.0 250.8L429.3 254.8L431.5 257.2L435.9 262.8L439.1 267.9L441.8 272.8L444.5 278.7L447.4 285.9L450.0 292.9L452.3 300.1L454.0 306.5L456.0 314.9" stroke="#c9f600" stroke-width="1.80" fill="none" stroke-linejoin="round" stroke-linecap="round"/>
<path d="M117.8 283.6L118.0 255.6L118.5 248.4L119.0 246.1L119.7 243.8L120.6 241.6L123.1 238.0L128.0 229.4L129.9 226.6L131.9 224.8L133.9 223.4L137.8 221.1L143.7 218.6L149.6 216.7L161.3 213.5L167.2 211.4L173.1 208.9L186.9 202.6L206.5 192.7L226.1 183.4L239.9 177.1L255.6 170.4L263.5 166.8L273.3 161.8L298.9 147.8L320.6 136.3L342.3 124.3L363.9 112.5L377.7 104.3L389.6 96.4L397.4 90.6L411.2 79.8L419.1 74.1L425.4 70.1L436.8 63.5L443.8 58.8L446.1 56.9L448.1 54.8L456.9 43.6L458.5 42.0L460.1 41.0L461.1 40.6L461.9 40.5L462.1 42.5L462.9 57.0" stroke="#c9f600" stroke-width="1.80" fill="none" stroke-linejoin="round" stroke-linecap="round"/>
<path d="M117.8 118.3L119.2 122.5L120.3 125.1L121.9 128.1L123.4 130.3L125.5 132.5L127.5 134.2L129.6 135.5L133.5 137.3L139.2 139.1L146.9 140.8L152.6 141.6L166.0 142.9L177.5 144.8L188.9 147.5L196.6 150.1L212.0 156.3L231.5 163.5L241.3 167.4L251.2 171.8L271.0 181.1L300.8 194.4L318.4 201.9L331.9 207.3L356.5 216.2L367.8 220.7L377.2 224.8L386.6 229.2L396.1 233.9L401.9 237.1L417.9 246.6L422.2 249.5L424.3 251.2L428.6 255.2L430.8 257.6L435.1 263.3L438.4 268.4L441.0 273.3L443.7 279.1L446.6 286.3L449.2 293.3L451.4 300.4L453.2 306.7L455.1 314.9" stroke="#fbec00" stroke-width="1.80" fill="none" stroke-linejoin="round" stroke-linecap="round"/>
<path d="M117.8 284.0L118.0 255.6L118.5 248.4L119.0 246.1L119.6 243.7L120.6 241.6L123.1 237.9L128.0 229.1L129.9 226.2L131.9 224.4L133.8 222.9L137.8 220.7L143.6 218.2L147.6 216.9L163.2 212.4L173.0 208.5L186.8 202.1L206.4 192.3L226.0 183.0L239.7 176.7L255.4 170.0L263.3 166.5L273.1 161.4L296.8 148.5L320.4 136.1L342.1 124.0L363.8 112.2L375.6 105.3L385.5 98.9L395.3 92.0L411.0 79.7L418.9 74.0L425.2 70.0L436.5 63.4L443.5 58.7L445.8 56.8L447.8 54.7L456.5 43.6L458.1 42.0L459.7 41.0L460.8 40.6L461.5 40.5L461.8 42.6L462.5 57.0" stroke="#fbec00" stroke-width="1.80" fill="none" stroke-linejoin="round" stroke-linecap="round"/>
<path d="M117.8 118.4L119.1 122.7L120.3 125.3L121.8 128.3L123.4 130.5L125.4 132.8L127.5 134.6L129.6 135.9L133.4 137.7L139.2 139.6L146.8 141.3L152.5 142.1L165.9 143.4L177.3 145.3L186.9 147.5L194.5 149.9L211.8 156.9L231.2 164.1L241.0 168.1L250.8 172.4L302.2 195.9L319.7 203.3L333.1 208.7L357.8 217.4L369.1 221.9L386.0 229.5L395.5 234.3L401.3 237.4L417.3 247.0L421.5 249.8L423.6 251.5L427.9 255.6L430.1 258.0L434.4 263.7L437.6 268.9L440.3 273.8L442.9 279.6L445.8 286.7L448.4 293.7L450.6 300.7L452.4 306.9L454.3 314.9" stroke="#ffb800" stroke-width="1.80" fill="none" stroke-linejoin="round" stroke-linecap="round"/>
<path d="M117.8 284.5L118.0 255.7L118.5 248.4L119.0 246.0L119.6 243.7L120.6 241.5L123.1 237.8L127.9 228.8L129.9 225.9L131.9 224.0L133.8 222.5L137.7 220.3L143.6 217.7L147.5 216.4L163.2 211.9L173.0 208.0L186.7 201.7L206.2 191.9L225.8 182.6L239.6 176.3L255.3 169.7L263.1 166.1L271.0 162.1L296.6 148.2L320.2 135.8L341.9 123.7L363.6 112.0L375.4 105.0L385.3 98.7L395.1 91.8L410.9 79.6L418.7 73.9L425.0 69.9L436.3 63.3L443.2 58.6L445.5 56.7L447.5 54.6L455.9 43.9L457.8 42.0L459.4 41.0L460.4 40.6L461.2 40.5L461.4 42.6L462.2 57.0" stroke="#ffb800" stroke-width="1.80" fill="none" stroke-linejoin="round" stroke-linecap="round"/>
<path d="M117.8 118.5L119.1 122.8L120.3 125.5L121.8 128.5L123.4 130.8L125.4 133.1L127.5 134.9L129.6 136.3L133.4 138.1L139.1 140.1L146.7 141.8L152.4 142.6L165.8 143.9L177.2 145.8L186.7 148.0L194.4 150.4L213.5 158.2L232.9 165.5L242.6 169.6L283.9 188.2L301.6 196.5L319.0 204.0L332.4 209.3L359.0 218.6L370.3 223.1L387.3 230.8L395.0 234.6L400.7 237.8L416.6 247.4L420.8 250.2L423.0 251.9L427.2 256.0L431.5 261.1L433.7 264.1L436.6 268.9L439.2 273.7L441.9 279.4L444.7 286.4L447.3 293.3L449.6 300.1L451.3 306.1L453.5 314.9" stroke="#fe7e00" stroke-width="1.80" fill="none" stroke-linejoin="round" stroke-linecap="round"/>
<path d="M117.8 284.9L118.0 255.7L118.5 248.4L119.0 246.0L119.6 243.6L120.6 241.4L123.1 237.7L127.9 228.5L129.9 225.5L131.8 223.6L133.8 222.1L137.7 219.8L143.6 217.3L149.4 215.4L163.1 211.5L172.9 207.5L186.6 201.2L206.1 191.4L225.7 182.1L239.4 175.9L255.1 169.3L263.0 165.8L272.8 160.7L296.4 147.9L320.0 135.6L341.7 123.5L363.4 111.7L375.2 104.8L385.1 98.5L394.9 91.6L410.7 79.5L418.6 73.8L424.8 69.8L436.0 63.2L442.9 58.5L445.2 56.7L447.2 54.5L455.6 43.8L457.5 42.0L459.0 41.0L460.1 40.6L460.8 40.5L461.1 42.6L461.8 57.0" stroke="#fe7e00" stroke-width="1.80" fill="none" stroke-linejoin="round" stroke-linecap="round"/>
<path d="M117.8 118.6L119.1 122.9L120.3 125.7L121.8 128.8L123.6 131.4L125.6 133.8L127.7 135.5L129.6 136.7L133.4 138.7L139.1 140.7L146.7 142.4L152.4 143.2L165.7 144.5L177.1 146.4L186.6 148.6L194.2 151.1L211.4 158.0L232.6 166.1L244.3 170.9L283.7 188.5L301.3 196.7L320.7 205.0L334.1 210.2L358.7 218.8L370.0 223.3L387.0 231.0L394.6 234.8L400.3 238.0L416.3 247.6L420.5 250.4L422.6 252.1L424.7 254.1L429.0 258.6L433.3 264.4L436.2 269.1L438.9 273.9L441.5 279.6L444.4 286.6L446.9 293.4L449.2 300.3L451.2 307.1L453.1 314.9" stroke="#fc4400" stroke-width="1.80" fill="none" stroke-linejoin="round" stroke-linecap="round"/>
<path d="M117.8 285.2L118.0 255.7L118.5 248.3L119.0 246.0L119.6 243.6L120.6 241.4L123.1 237.7L127.9 228.3L129.9 225.3L131.8 223.4L133.8 221.9L137.7 219.6L143.5 217.0L149.4 215.1L163.1 211.2L172.8 207.3L188.5 200.0L206.1 191.2L225.6 181.9L239.3 175.7L255.0 169.1L262.9 165.6L272.7 160.5L296.3 147.7L319.9 135.4L341.6 123.3L363.3 111.5L375.1 104.6L384.9 98.3L394.8 91.4L410.5 79.4L418.4 73.7L424.6 69.7L435.8 63.1L442.6 58.4L444.9 56.6L446.9 54.5L455.3 43.8L457.1 42.0L458.7 41.0L459.7 40.6L460.5 40.5L460.7 42.6L461.5 57.0" stroke="#fc4400" stroke-width="1.80" fill="none" stroke-linejoin="round" stroke-linecap="round"/>
<path d="M117.8 118.6L119.1 122.9L120.3 125.7L121.8 128.8L123.6 131.5L125.6 133.8L127.7 135.6L129.6 136.8L133.4 138.7L139.1 140.7L146.7 142.5L152.4 143.3L165.7 144.6L177.1 146.5L186.6 148.7L194.2 151.1L211.3 158.1L232.6 166.3L244.3 171.0L283.5 188.6L301.2 196.9L320.5 205.2L333.9 210.4L358.5 219.0L369.8 223.5L379.2 227.6L386.8 231.2L394.4 235.0L400.1 238.1L416.0 247.7L420.2 250.6L422.3 252.3L426.6 256.4L430.8 261.5L432.9 264.6L435.9 269.3L438.5 274.2L441.1 279.9L444.0 286.8L446.5 293.6L448.8 300.4L450.7 307.2L452.7 314.9" stroke="#fb3700" stroke-width="1.80" fill="none" stroke-linejoin="round" stroke-linecap="round"/>
<path d="M117.8 285.3L118.0 255.7L118.5 248.3L119.0 246.0L119.6 243.6L120.6 241.4L123.1 237.6L127.9 228.3L129.9 225.2L131.8 223.3L133.8 221.8L137.7 219.5L143.5 216.9L149.4 215.0L163.1 211.1L172.8 207.2L188.4 199.9L206.0 191.1L225.6 181.8L239.3 175.6L254.9 169.0L262.8 165.4L272.6 160.4L294.2 148.6L319.8 135.2L341.5 123.1L363.1 111.3L374.9 104.4L384.8 98.1L394.6 91.3L410.3 79.3L418.2 73.6L424.4 69.5L435.5 63.0L442.3 58.3L444.6 56.5L446.5 54.4L454.8 43.8L456.7 42.0L458.2 40.9L459.3 40.6L460.0 40.5L460.3 42.6L461.0 57.0" stroke="#fb3700" stroke-width="1.80" fill="none" stroke-linejoin="round" stroke-linecap="round"/>
<path d="M117.8 118.6L119.1 123.0L120.3 125.7L121.8 128.8L123.6 131.5L125.6 133.8L127.6 135.6L129.5 136.8L133.3 138.7L139.0 140.8L146.6 142.5L152.3 143.3L165.6 144.6L177.0 146.5L186.5 148.7L194.1 151.2L213.2 158.9L234.5 167.1L246.1 172.0L283.4 188.8L301.0 197.1L320.3 205.4L333.6 210.6L360.2 219.9L371.5 224.4L386.6 231.3L394.2 235.1L399.9 238.3L415.8 247.9L419.9 250.7L422.0 252.5L426.2 256.6L430.5 261.7L432.6 264.8L435.5 269.6L438.1 274.4L440.4 279.5L443.3 286.4L446.1 293.8L448.3 300.6L450.3 307.3L452.2 314.9" stroke="#fb2b00" stroke-width="1.80" fill="none" stroke-linejoin="round" stroke-linecap="round"/>
<path d="M117.8 285.4L118.0 255.7L118.5 248.3L118.9 246.0L119.6 243.5L120.6 241.3L123.1 237.6L127.9 228.2L129.9 225.1L131.8 223.2L133.8 221.7L137.7 219.4L143.5 216.8L149.4 214.9L163.0 211.0L172.8 207.1L188.4 199.8L206.0 191.0L225.5 181.7L239.2 175.5L254.9 168.9L262.7 165.3L272.5 160.2L294.1 148.4L319.7 135.1L341.3 122.9L363.0 111.1L374.8 104.2L384.6 97.9L394.4 91.1L410.1 79.2L418.0 73.4L424.2 69.4L435.2 62.8L441.9 58.2L444.2 56.4L446.1 54.3L454.4 43.8L456.2 42.0L457.8 40.9L458.8 40.6L459.5 40.6L459.8 42.6L460.5 57.0" stroke="#fb2b00" stroke-width="1.80" fill="none" stroke-linejoin="round" stroke-linecap="round"/>
<path d="M117.8 118.6L119.1 123.0L120.3 125.7L121.8 128.9L123.6 131.5L125.6 133.9L127.6 135.6L129.5 136.9L133.3 138.8L139.0 140.8L146.6 142.6L152.3 143.4L165.6 144.7L177.0 146.6L186.5 148.8L194.1 151.2L213.2 159.0L234.4 167.3L246.1 172.1L283.2 188.9L300.8 197.3L320.1 205.6L335.3 211.5L359.9 220.0L371.3 224.6L386.4 231.4L394.0 235.2L399.7 238.4L415.5 248.0L419.6 250.9L421.7 252.6L425.9 256.8L430.1 261.9L434.3 268.4L436.7 272.6L439.0 277.4L441.6 283.4L444.9 291.9L447.4 299.2L449.6 306.5L451.8 314.9" stroke="#fa1e00" stroke-width="1.80" fill="none" stroke-linejoin="round" stroke-linecap="round"/>
<path d="M117.8 285.6L118.0 255.8L118.5 248.3L118.9 245.9L119.6 243.5L120.6 241.3L123.1 237.6L127.9 228.1L129.9 225.0L131.8 223.1L133.8 221.6L137.7 219.2L143.5 216.7L149.4 214.7L163.0 210.9L172.8 206.9L188.4 199.7L205.9 190.8L225.5 181.6L239.2 175.3L254.8 168.7L262.7 165.2L272.5 160.1L294.0 148.2L319.6 134.9L341.2 122.7L362.8 110.9L374.6 104.0L384.4 97.7L394.3 90.9L417.8 73.3L424.0 69.3L434.9 62.7L441.6 58.1L443.8 56.3L445.7 54.2L453.9 43.7L455.7 42.0L457.3 40.9L458.3 40.6L459.1 40.6L459.3 42.6L460.1 57.0" stroke="#fa1e00" stroke-width="1.80" fill="none" stroke-linejoin="round" stroke-linecap="round"/>
<path d="M117.8 118.6L119.1 123.0L120.3 125.7L121.8 128.9L123.6 131.6L125.6 133.9L127.6 135.7L129.5 136.9L133.3 138.8L139.0 140.8L146.6 142.6L152.3 143.4L165.6 144.7L177.0 146.6L186.5 148.8L194.1 151.3L213.2 159.1L234.4 167.4L246.0 172.3L283.1 189.1L300.6 197.5L319.9 205.8L335.1 211.7L359.7 220.2L371.0 224.7L386.2 231.6L393.8 235.4L399.5 238.5L415.2 248.2L419.4 251.1L421.4 252.8L425.6 257.0L429.8 262.1L431.9 265.2L436.0 272.4L438.3 277.1L440.9 283.0L444.2 291.4L446.7 298.6L448.9 305.8L451.3 314.9" stroke="#f61800" stroke-width="1.80" fill="none" stroke-linejoin="round" stroke-linecap="round"/>
<path d="M117.8 285.7L118.0 255.8L118.5 248.3L118.9 245.9L119.6 243.5L120.6 241.3L123.1 237.5L127.9 228.0L129.9 224.9L131.8 223.0L133.8 221.5L137.7 219.1L143.5 216.5L149.4 214.6L163.0 210.7L172.8 206.8L188.4 199.5L205.9 190.7L225.4 181.4L239.1 175.2L254.8 168.6L262.6 165.0L272.4 159.9L293.9 148.1L317.5 135.8L341.1 122.5L362.7 110.6L374.4 103.8L386.2 96.2L394.1 90.7L417.6 73.2L423.8 69.2L434.6 62.6L441.2 58.0L443.4 56.2L445.3 54.1L453.4 43.7L455.3 42.0L456.8 40.9L457.8 40.6L458.6 40.6L458.8 42.6L459.6 57.0" stroke="#f61800" stroke-width="1.80" fill="none" stroke-linejoin="round" stroke-linecap="round"/>
<path d="M117.8 118.6L119.1 123.0L120.3 125.8L121.8 128.9L123.6 131.6L125.6 133.9L127.6 135.7L129.5 136.9L133.3 138.9L139.0 140.9L146.6 142.7L152.3 143.5L165.6 144.8L177.0 146.7L186.5 148.9L194.1 151.3L213.2 159.2L234.3 167.5L245.9 172.4L282.9 189.2L300.4 197.6L319.7 206.0L334.9 211.9L359.5 220.3L372.7 225.7L387.9 232.6L395.5 236.5L399.3 238.7L415.0 248.3L419.1 251.2L421.1 253.0L425.3 257.2L429.4 262.3L431.5 265.5L435.6 272.6L437.9 277.3L440.5 283.2L443.8 291.7L446.3 298.8L448.5 305.9L450.9 314.9" stroke="#f01600" stroke-width="1.80" fill="none" stroke-linejoin="round" stroke-linecap="round"/>
<path d="M117.8 285.8L118.0 255.8L118.5 248.3L118.9 245.9L119.6 243.5L120.6 241.3L123.1 237.5L127.9 227.9L129.9 224.8L131.8 222.9L133.8 221.4L137.7 219.0L143.5 216.4L149.3 214.5L163.0 210.6L172.7 206.7L188.3 199.4L205.9 190.6L225.4 181.3L239.1 175.1L260.6 165.8L268.4 161.9L291.9 149.0L321.3 133.5L340.9 122.3L368.4 107.1L378.2 101.1L388.0 94.6L395.9 89.1L417.4 73.1L423.5 69.0L436.5 61.0L441.7 57.2L443.3 55.8L445.2 53.7L452.7 44.0L454.6 42.2L456.4 40.9L457.4 40.6L458.1 40.6L458.4 42.7L459.1 57.0" stroke="#f01600" stroke-width="1.80" fill="none" stroke-linejoin="round" stroke-linecap="round"/>
<path d="M117.8 118.6L119.1 123.0L120.3 125.8L121.8 128.9L123.6 131.6L125.6 134.0L127.6 135.7L129.5 137.0L133.3 138.9L139.0 140.9L146.6 142.7L152.3 143.5L165.6 144.8L177.0 146.7L186.5 148.9L194.1 151.4L213.1 159.2L234.3 167.6L245.9 172.5L282.8 189.4L300.2 197.8L319.4 206.2L334.7 212.1L359.3 220.5L372.5 225.8L387.6 232.7L395.2 236.6L399.0 238.8L414.7 248.5L418.8 251.4L420.8 253.1L425.0 257.4L429.1 262.5L431.1 265.7L435.2 272.9L437.5 277.6L440.1 283.5L443.3 291.9L445.8 298.9L448.0 306.0L450.4 314.9" stroke="#ea1500" stroke-width="1.80" fill="none" stroke-linejoin="round" stroke-linecap="round"/>
<path d="M117.8 285.9L118.0 255.8L118.5 248.3L118.9 245.9L119.6 243.5L120.6 241.3L123.3 237.1L127.9 227.9L129.8 224.7L131.8 222.8L133.7 221.2L137.6 218.9L143.5 216.3L149.3 214.4L163.0 210.5L172.7 206.6L188.3 199.3L205.8 190.5L225.3 181.2L239.0 174.9L260.5 165.7L268.3 161.8L291.8 148.8L321.2 133.4L340.8 122.1L368.2 106.8L378.0 100.9L389.8 93.1L417.2 73.0L423.3 68.9L436.1 60.9L441.3 57.1L442.9 55.7L444.8 53.6L452.3 44.0L454.1 42.1L455.9 40.9L456.9 40.6L457.6 40.6L457.9 42.7L458.6 57.0" stroke="#ea1500" stroke-width="1.80" fill="none" stroke-linejoin="round" stroke-linecap="round"/>
<path d="M117.8 118.6L119.1 123.0L120.3 125.8L121.8 129.0L123.6 131.6L125.6 134.0L127.6 135.8L129.5 137.0L133.3 139.0L139.0 141.0L146.6 142.8L152.3 143.6L165.6 144.9L177.0 146.8L186.5 149.0L194.1 151.4L213.1 159.3L232.3 166.9L245.8 172.7L282.6 189.5L300.0 198.0L319.2 206.4L334.5 212.3L359.1 220.7L372.3 226.0L387.4 232.9L395.0 236.7L398.8 238.9L414.5 248.6L418.5 251.6L420.5 253.3L424.6 257.5L428.7 262.8L430.8 265.9L434.8 273.1L437.1 277.8L439.7 283.7L442.9 292.1L445.4 299.1L447.6 306.1L450.0 314.9" stroke="#e41300" stroke-width="1.80" fill="none" stroke-linejoin="round" stroke-linecap="round"/>
<path d="M117.8 286.1L118.0 255.8L118.5 248.3L118.9 245.9L119.6 243.5L120.6 241.3L123.3 237.0L127.9 227.8L129.8 224.6L131.8 222.7L133.7 221.1L137.6 218.8L143.5 216.2L149.3 214.2L163.0 210.3L172.7 206.4L188.3 199.2L205.8 190.3L225.3 181.1L239.0 174.8L260.4 165.6L270.2 160.6L291.7 148.6L313.2 137.5L321.1 133.2L340.7 121.9L368.1 106.6L377.9 100.7L389.6 92.9L417.0 72.9L423.1 68.8L433.7 62.2L440.7 57.2L442.3 55.8L444.2 53.8L451.8 43.9L453.6 42.1L455.4 40.9L456.4 40.6L457.2 40.6L457.4 42.7L458.2 57.0" stroke="#e41300" stroke-width="1.80" fill="none" stroke-linejoin="round" stroke-linecap="round"/>
<path d="M117.8 118.6L119.1 123.0L120.3 125.8L121.8 129.0L123.6 131.7L125.6 134.0L127.6 135.8L129.5 137.1L133.3 139.0L139.0 141.0L146.6 142.8L152.3 143.6L165.6 144.9L177.0 146.8L186.5 149.0L194.0 151.5L213.1 159.4L232.2 167.1L245.7 172.8L282.5 189.6L299.9 198.2L315.2 205.0L332.4 211.9L357.0 220.2L368.3 224.5L377.8 228.6L385.3 232.1L392.9 235.9L398.6 239.1L414.2 248.8L418.2 251.7L422.3 255.5L426.3 260.2L428.4 263.0L430.4 266.1L434.5 273.3L436.7 278.0L439.2 283.9L442.2 291.6L444.9 299.3L447.1 306.2L449.5 314.9" stroke="#de1100" stroke-width="1.80" fill="none" stroke-linejoin="round" stroke-linecap="round"/>
<path d="M117.8 286.2L118.0 255.8L118.5 248.3L118.9 245.9L119.6 243.5L120.6 241.2L123.3 237.0L127.9 227.7L129.8 224.5L131.8 222.5L133.7 221.0L137.6 218.6L143.5 216.0L149.3 214.1L162.9 210.2L172.7 206.3L188.2 199.0L205.8 190.2L225.3 180.9L238.9 174.7L260.4 165.4L270.1 160.4L291.6 148.5L313.1 137.3L321.0 133.0L340.5 121.7L369.9 105.2L379.7 99.2L389.4 92.7L416.8 72.8L422.9 68.7L433.4 62.1L440.3 57.1L441.9 55.7L443.8 53.7L451.4 43.9L453.2 42.1L454.7 41.0L455.9 40.6L456.7 40.6L457.7 57.0" stroke="#de1100" stroke-width="1.80" fill="none" stroke-linejoin="round" stroke-linecap="round"/>
<path d="M117.8 118.6L119.1 123.1L120.3 125.8L121.8 129.0L123.6 131.7L125.6 134.1L127.6 135.9L129.5 137.1L133.3 139.0L139.0 141.1L146.6 142.9L152.3 143.7L165.6 145.0L177.0 146.9L186.4 149.1L194.0 151.5L232.2 167.2L247.6 173.8L282.3 189.8L299.7 198.4L315.0 205.2L332.1 212.1L356.8 220.3L368.1 224.7L377.5 228.7L385.1 232.2L392.7 236.0L398.4 239.2L414.0 249.0L417.9 251.9L422.0 255.6L426.0 260.4L428.0 263.2L430.0 266.3L434.1 273.6L438.6 283.6L441.8 291.8L444.5 299.4L446.7 306.4L449.1 314.9" stroke="#d70f00" stroke-width="1.80" fill="none" stroke-linejoin="round" stroke-linecap="round"/>
<path d="M117.8 286.3L118.0 255.8L118.5 248.3L118.9 245.9L119.6 243.4L120.6 241.2L123.3 237.0L127.9 227.6L129.8 224.4L131.8 222.4L133.7 220.9L137.6 218.5L143.5 215.9L149.3 214.0L162.9 210.1L172.6 206.2L188.2 198.9L205.7 190.1L225.2 180.8L238.8 174.6L260.3 165.3L270.1 160.3L291.5 148.3L313.0 137.2L320.8 132.9L340.4 121.5L369.7 105.0L379.5 99.0L389.3 92.5L416.6 72.7L422.6 68.6L433.1 61.9L439.9 57.0L441.5 55.6L443.4 53.6L450.9 43.9L452.7 42.1L454.2 41.0L455.5 40.6L456.2 40.6L457.2 57.0" stroke="#d70f00" stroke-width="1.80" fill="none" stroke-linejoin="round" stroke-linecap="round"/>
<path d="M117.8 118.6L119.1 123.1L120.3 125.8L121.8 129.0L123.6 131.7L125.6 134.1L127.6 135.9L129.5 137.1L133.3 139.1L139.0 141.1L146.6 142.9L152.3 143.7L165.6 145.0L176.9 146.9L186.4 149.1L194.0 151.6L232.1 167.3L247.5 173.9L280.2 189.0L299.5 198.5L314.8 205.4L331.9 212.3L356.5 220.5L367.9 224.8L377.3 228.8L384.9 232.3L392.5 236.1L398.2 239.3L413.7 249.1L417.7 252.0L421.7 255.8L425.7 260.6L427.7 263.4L429.7 266.6L433.7 273.8L438.2 283.8L441.4 292.0L443.8 298.9L446.2 306.5L448.6 314.9" stroke="#d10e00" stroke-width="1.80" fill="none" stroke-linejoin="round" stroke-linecap="round"/>
<path d="M117.8 286.4L118.0 255.8L118.5 248.3L118.9 245.9L120.3 241.7L123.3 237.0L127.9 227.5L129.8 224.3L131.8 222.3L133.7 220.8L137.6 218.4L143.4 215.8L149.3 213.9L162.9 210.0L172.6 206.0L188.2 198.8L205.7 190.0L225.2 180.7L238.8 174.4L260.2 165.2L270.0 160.1L291.4 148.1L318.8 133.8L340.3 121.4L369.6 104.8L379.3 98.8L391.0 91.0L416.4 72.6L422.4 68.4L432.8 61.8L439.6 56.9L441.1 55.5L443.0 53.5L450.5 43.8L452.2 42.1L453.8 41.0L455.0 40.6L455.7 40.6L456.7 57.0" stroke="#d10e00" stroke-width="1.80" fill="none" stroke-linejoin="round" stroke-linecap="round"/>
<path d="M117.8 118.7L119.1 123.1L120.3 125.9L121.8 129.1L123.6 131.8L125.6 134.1L127.6 135.9L129.5 137.2L133.3 139.1L139.0 141.2L144.7 142.6L150.4 143.5L165.6 145.1L173.1 146.2L178.8 147.4L186.4 149.2L194.0 151.6L232.1 167.4L247.4 174.1L280.1 189.2L299.3 198.7L314.6 205.6L331.7 212.5L356.3 220.6L367.7 225.0L377.1 229.0L384.7 232.5L392.3 236.3L398.0 239.4L413.4 249.3L417.4 252.2L421.4 256.0L425.3 260.8L427.3 263.6L429.3 266.8L433.3 274.1L437.7 284.0L443.4 299.1L445.8 306.6L448.2 314.9" stroke="#cb0c00" stroke-width="1.80" fill="none" stroke-linejoin="round" stroke-linecap="round"/>
<path d="M117.8 286.6L118.0 255.9L118.5 248.3L118.9 245.9L120.3 241.6L123.3 236.9L127.9 227.5L129.8 224.2L131.8 222.2L133.7 220.7L137.6 218.3L143.4 215.7L149.3 213.7L162.9 209.8L172.6 205.9L188.2 198.6L205.7 189.8L225.1 180.5L238.7 174.3L260.2 165.0L269.9 160.0L291.4 148.0L318.7 133.7L340.1 121.2L369.4 104.6L379.2 98.6L390.9 90.8L418.2 71.0L432.5 61.7L438.9 57.0L440.8 55.4L442.6 53.4L450.0 43.8L451.8 42.1L453.3 41.0L454.5 40.6L455.3 40.6L456.3 57.0" stroke="#cb0c00" stroke-width="1.80" fill="none" stroke-linejoin="round" stroke-linecap="round"/>
<path d="M117.8 118.7L119.1 123.1L120.3 125.9L121.8 129.1L123.6 131.8L125.6 134.2L127.6 136.0L129.5 137.2L133.3 139.2L139.0 141.2L144.7 142.7L150.4 143.6L165.5 145.1L173.1 146.3L178.8 147.4L186.4 149.2L194.0 151.7L232.0 167.5L249.3 175.1L280.0 189.3L299.1 198.9L314.4 205.8L331.5 212.7L356.1 220.8L367.5 225.1L376.9 229.1L384.5 232.6L392.1 236.4L397.8 239.6L413.2 249.4L417.1 252.4L421.0 256.2L425.0 261.0L427.0 263.8L428.9 267.0L432.9 274.3L437.3 284.2L442.9 299.3L447.7 314.9" stroke="#c50a00" stroke-width="1.80" fill="none" stroke-linejoin="round" stroke-linecap="round"/>
<path d="M117.8 286.7L118.0 255.9L118.5 248.3L118.9 245.9L120.3 241.6L123.3 236.9L127.9 227.4L129.8 224.2L131.8 222.1L133.7 220.6L137.6 218.2L143.4 215.5L149.3 213.6L162.9 209.7L172.6 205.8L188.1 198.5L205.6 189.7L225.1 180.4L238.7 174.2L260.1 164.9L269.8 159.8L291.3 147.8L318.6 133.5L340.0 121.0L369.2 104.4L379.0 98.4L390.7 90.6L418.0 70.9L432.2 61.5L438.6 56.9L440.4 55.3L441.9 53.6L449.6 43.8L451.3 42.1L452.8 41.0L454.1 40.6L454.8 40.6L455.8 57.0" stroke="#c50a00" stroke-width="1.80" fill="none" stroke-linejoin="round" stroke-linecap="round"/>
<path d="M117.8 118.7L119.1 123.1L120.3 125.9L121.8 129.1L123.6 131.8L125.6 134.2L127.6 136.0L129.5 137.2L133.3 139.2L139.0 141.3L144.7 142.7L150.4 143.6L165.5 145.2L173.1 146.3L178.8 147.5L186.4 149.3L194.0 151.7L230.1 166.8L249.2 175.2L279.8 189.5L298.9 199.1L314.2 206.0L323.7 209.9L331.3 212.9L355.9 221.0L367.2 225.3L376.7 229.2L384.3 232.7L391.9 236.5L397.5 239.7L412.9 249.6L416.8 252.5L420.7 256.4L424.7 261.2L426.6 264.0L428.6 267.2L432.3 274.0L436.7 283.9L442.5 299.4L447.3 314.9" stroke="#bf0900" stroke-width="1.80" fill="none" stroke-linejoin="round" stroke-linecap="round"/>
<path d="M117.8 286.8L118.0 255.9L118.5 248.3L118.9 245.9L120.3 241.6L123.3 236.9L127.9 227.3L129.8 224.1L131.8 222.0L133.7 220.4L137.6 218.0L143.4 215.4L149.2 213.5L162.8 209.6L172.6 205.7L188.1 198.4L205.6 189.6L225.0 180.3L238.6 174.0L260.0 164.8L269.8 159.7L291.2 147.7L310.7 137.6L318.4 133.4L339.9 120.8L369.1 104.2L378.8 98.2L390.5 90.4L417.8 70.8L431.9 61.4L438.0 57.0L439.7 55.5L441.5 53.5L449.1 43.8L450.9 42.0L452.3 41.0L453.6 40.6L454.3 40.6L455.3 57.0" stroke="#bf0900" stroke-width="1.80" fill="none" stroke-linejoin="round" stroke-linecap="round"/>
<path d="M117.8 118.7L119.1 123.1L120.3 125.9L121.8 129.1L123.6 131.8L125.6 134.2L127.6 136.0L129.5 137.3L133.3 139.3L139.0 141.3L144.7 142.8L150.4 143.7L165.5 145.2L173.1 146.4L178.8 147.5L186.4 149.3L193.9 151.8L230.0 166.9L249.1 175.3L279.7 189.6L298.8 199.3L314.0 206.2L323.5 210.1L331.1 213.1L338.6 215.7L355.7 221.1L367.0 225.4L376.5 229.4L384.1 232.9L391.6 236.7L397.3 239.8L412.7 249.7L416.5 252.7L420.4 256.5L424.3 261.4L426.3 264.2L428.2 267.4L431.9 274.3L436.2 284.1L441.8 298.9L446.8 314.9" stroke="#b90700" stroke-width="1.80" fill="none" stroke-linejoin="round" stroke-linecap="round"/>
<path d="M117.8 287.0L118.0 255.9L118.5 248.3L118.9 245.8L120.3 241.6L123.3 236.8L127.9 227.2L129.8 224.0L131.8 221.9L133.7 220.3L137.6 217.9L143.4 215.3L149.2 213.3L162.8 209.5L172.5 205.5L188.1 198.3L205.6 189.5L225.0 180.2L238.6 173.9L260.0 164.6L269.7 159.6L289.1 148.5L310.5 137.4L318.3 133.2L339.7 120.6L370.9 102.8L380.6 96.7L392.3 88.9L417.6 70.7L431.6 61.3L437.6 56.9L439.4 55.3L441.1 53.4L448.7 43.7L450.4 42.0L451.9 41.0L453.1 40.6L453.8 40.6L454.8 57.0" stroke="#b90700" stroke-width="1.80" fill="none" stroke-linejoin="round" stroke-linecap="round"/>
<path d="M117.8 118.7L119.1 123.1L120.3 125.9L121.8 129.1L123.6 131.9L125.6 134.3L127.6 136.1L129.5 137.3L133.3 139.3L139.0 141.4L144.7 142.8L150.4 143.7L165.5 145.3L173.1 146.4L178.8 147.6L186.4 149.4L193.9 151.8L230.0 167.0L250.9 176.3L279.5 189.7L298.6 199.5L313.8 206.4L323.3 210.3L332.7 213.9L355.5 221.3L366.8 225.5L376.3 229.5L383.9 233.0L391.4 236.8L397.1 240.0L410.5 248.6L416.3 252.8L420.1 256.7L424.0 261.6L425.9 264.4L427.9 267.7L431.5 274.5L435.8 284.3L441.4 299.1L446.4 314.9" stroke="#b20500" stroke-width="1.80" fill="none" stroke-linejoin="round" stroke-linecap="round"/>
<path d="M117.8 287.1L118.0 255.9L118.5 248.2L118.9 245.8L120.3 241.6L123.3 236.8L127.9 227.1L129.8 223.9L131.7 221.8L133.7 220.2L137.6 217.8L143.4 215.2L149.2 213.2L162.8 209.3L172.5 205.4L188.0 198.1L205.5 189.3L224.9 180.0L238.5 173.8L258.0 165.4L267.7 160.5L291.0 147.3L310.4 137.3L318.2 133.0L341.5 119.3L370.7 102.6L380.4 96.5L392.1 88.7L419.3 69.2L431.2 61.2L437.2 56.7L439.0 55.2L440.7 53.3L448.2 43.7L449.9 42.0L451.4 41.0L452.6 40.6L453.4 40.6L454.3 57.0" stroke="#b20500" stroke-width="1.80" fill="none" stroke-linejoin="round" stroke-linecap="round"/>
<path d="M117.8 118.7L119.1 123.1L120.3 125.9L121.8 129.2L123.6 131.9L125.6 134.3L127.6 136.1L129.5 137.4L133.3 139.4L139.0 141.4L144.7 142.9L150.4 143.8L165.5 145.3L173.1 146.5L178.8 147.6L186.3 149.4L193.9 151.9L229.9 167.2L250.8 176.5L279.4 189.9L298.4 199.6L313.6 206.6L323.1 210.5L332.5 214.1L355.2 221.5L366.6 225.7L376.1 229.7L383.6 233.1L391.2 236.9L396.9 240.1L410.2 248.7L416.0 253.0L419.8 256.9L423.7 261.8L425.6 264.6L427.5 267.9L431.1 274.8L435.4 284.6L440.9 299.3L445.9 314.9" stroke="#ac0300" stroke-width="1.80" fill="none" stroke-linejoin="round" stroke-linecap="round"/>
<path d="M117.8 287.2L118.0 255.9L118.5 248.2L118.9 245.8L120.3 241.6L123.3 236.8L127.9 227.1L129.8 223.8L131.7 221.7L133.7 220.1L137.6 217.7L143.4 215.0L149.2 213.1L162.8 209.2L172.5 205.3L188.0 198.0L205.5 189.2L224.9 179.9L238.5 173.7L257.9 165.3L267.6 160.3L289.0 148.2L310.3 137.1L318.1 132.9L341.4 119.1L370.6 102.4L382.2 95.0L393.9 87.2L421.1 67.7L432.9 59.6L436.9 56.6L438.6 55.1L440.3 53.2L447.8 43.7L449.5 42.0L450.9 41.0L452.2 40.6L452.9 40.6L453.9 57.0" stroke="#ac0300" stroke-width="1.80" fill="none" stroke-linejoin="round" stroke-linecap="round"/>
<path d="M117.8 118.7L119.1 123.2L120.3 126.0L121.8 129.2L123.6 131.9L125.6 134.3L127.6 136.2L129.5 137.4L133.3 139.4L139.0 141.5L144.7 142.9L150.3 143.8L165.5 145.4L173.1 146.5L178.7 147.7L186.3 149.5L193.9 151.9L199.6 154.2L228.0 166.4L252.7 177.5L279.2 190.0L298.2 199.8L313.4 206.8L322.8 210.7L332.3 214.3L356.9 222.3L368.3 226.6L375.9 229.8L383.4 233.3L391.0 237.0L396.7 240.2L410.0 248.9L415.7 253.2L419.5 257.1L423.3 262.0L425.2 264.8L427.1 268.1L430.5 274.5L434.8 284.2L440.2 298.8L445.5 314.9" stroke="#a60200" stroke-width="1.80" fill="none" stroke-linejoin="round" stroke-linecap="round"/>
<path d="M117.8 287.3L118.0 255.9L118.5 248.2L118.9 245.8L120.3 241.5L123.3 236.7L127.9 227.0L129.8 223.7L131.7 221.6L133.7 220.0L137.6 217.6L143.4 214.9L149.2 213.0L162.8 209.1L172.5 205.2L188.0 197.9L205.5 189.1L224.9 179.8L238.4 173.5L257.8 165.2L267.5 160.2L288.9 148.0L310.2 137.0L318.0 132.7L341.3 118.9L372.3 101.0L384.0 93.6L395.6 85.7L420.9 67.6L432.6 59.5L436.5 56.5L438.2 55.0L440.0 53.1L447.3 43.6L449.0 42.0L450.5 41.0L451.7 40.6L452.4 40.6L453.4 57.0" stroke="#a60200" stroke-width="1.80" fill="none" stroke-linejoin="round" stroke-linecap="round"/>
<path d="M117.8 118.7L119.1 123.2L120.3 126.0L121.8 129.2L123.6 131.9L125.6 134.4L127.6 136.2L129.5 137.4L133.3 139.4L139.0 141.5L144.7 143.0L150.3 143.9L165.5 145.4L173.1 146.6L178.7 147.7L186.3 149.5L193.9 152.0L199.6 154.3L228.0 166.5L254.5 178.5L279.1 190.2L298.0 200.0L313.2 207.0L322.6 210.9L332.1 214.5L356.7 222.4L368.1 226.7L375.6 229.9L383.2 233.4L390.8 237.2L396.5 240.4L409.7 249.0L415.4 253.3L419.2 257.2L423.0 262.2L424.9 265.0L426.8 268.3L430.1 274.8L434.3 284.5L439.8 298.9L445.0 314.9" stroke="#a00000" stroke-width="1.80" fill="none" stroke-linejoin="round" stroke-linecap="round"/>
<path d="M117.8 287.5L118.0 255.9L118.5 248.2L118.9 245.8L120.3 241.5L123.3 236.7L127.9 226.9L129.8 223.6L131.7 221.5L133.7 219.9L137.5 217.4L143.4 214.8L149.2 212.8L162.8 208.9L172.5 205.0L188.0 197.8L207.4 188.0L226.7 178.8L240.3 172.5L257.8 165.0L267.5 160.1L288.8 147.9L315.9 133.7L341.1 118.7L372.2 100.7L383.8 93.4L397.4 84.2L420.6 67.4L430.3 60.8L436.2 56.4L437.9 54.9L439.6 53.1L446.8 43.6L448.5 42.0L450.0 41.0L451.2 40.6L451.9 40.6L452.9 57.0" stroke="#a00000" stroke-width="1.80" fill="none" stroke-linejoin="round" stroke-linecap="round"/>
</g>
<g>
<path d="M789.2 57.9L789.5 75.8L790.0 79.4L790.6 81.4L794.5 88.3L797.0 91.8L799.8 94.6L803.8 97.0L808.5 99.2L813.3 100.9L829.8 106.1L839.3 108.7L851.1 111.4L870.0 114.8L888.9 118.6L907.8 122.8L914.9 124.5L922.0 126.5L926.7 128.1L931.4 130.0L936.1 132.2L943.2 135.8L964.5 147.6L974.0 153.3L985.8 161.1L990.5 165.0L992.9 167.3L995.2 170.6L999.9 178.7L1002.3 181.8L1004.7 183.7L1009.4 186.6L1014.1 188.8L1018.8 190.6L1037.8 196.5L1044.8 199.2L1054.3 203.5L1080.3 216.5L1089.7 220.6L1101.6 225.4L1122.8 233.2L1144.1 239.8L1148.8 241.4L1155.9 244.2L1165.4 248.5L1174.8 253.7L1178.1 255.9L1180.7 258.0L1183.1 260.3L1185.5 263.0L1187.2 265.4L1189.0 268.5L1190.5 271.6L1192.0 275.3L1194.0 281.9L1195.5 290.7L1196.7 301.7L1197.6 317.0" stroke="#8c37af" stroke-width="1.80" fill="none" stroke-linejoin="round" stroke-linecap="round"/>
<path d="M789.2 291.0L789.5 253.2L790.1 241.5L791.1 235.2L791.7 232.5L792.7 229.8L794.3 226.2L796.2 222.7L797.7 220.4L799.3 218.7L800.9 217.4L803.1 216.0L805.8 214.7L808.5 213.7L813.9 212.1L819.2 210.9L830.0 209.1L846.1 207.5L848.8 207.0L854.1 205.3L859.5 202.9L867.6 199.0L899.8 184.0L937.4 168.0L961.6 157.4L969.6 154.3L975.0 152.6L988.4 149.3L996.5 146.8L1007.2 142.2L1028.7 131.8L1036.7 128.3L1044.8 125.3L1063.6 119.4L1074.3 115.8L1082.4 112.8L1087.8 110.5L1101.2 104.1L1111.9 98.6L1117.3 95.5L1133.4 84.1L1136.1 82.7L1144.2 79.5L1152.2 77.2L1160.3 75.8L1179.1 73.6L1192.5 72.4L1200.6 71.3L1205.9 70.2L1211.3 68.8L1219.4 66.1L1222.0 65.0L1224.7 63.5L1243.5 49.2L1253.3 42.8" stroke="#8c37af" stroke-width="1.80" fill="none" stroke-linejoin="round" stroke-linecap="round"/>
<path d="M789.2 74.3L791.7 82.9L793.3 86.1L795.5 89.5L797.5 91.8L799.7 93.8L803.7 96.2L806.0 97.3L810.7 99.1L820.0 102.0L838.8 108.3L848.1 110.9L866.8 115.3L878.5 118.5L892.6 123.0L901.9 126.6L908.9 130.1L923.0 138.1L951.1 153.3L979.1 168.1L993.2 174.9L1016.4 184.9L1025.7 189.3L1041.9 197.7L1058.0 206.7L1076.4 216.0L1085.5 219.9L1099.3 224.9L1115.3 231.9L1119.9 233.7L1126.8 236.1L1140.5 240.3L1147.4 242.8L1156.6 246.9L1161.3 249.2L1165.9 251.9L1173.1 256.8L1175.5 258.7L1177.8 261.0L1180.1 263.7L1182.1 266.7L1183.6 269.3L1185.1 272.6L1187.4 280.3L1188.0 282.9L1188.5 287.0L1190.0 303.7L1190.6 317.0" stroke="#8833b6" stroke-width="1.80" fill="none" stroke-linejoin="round" stroke-linecap="round"/>
<path d="M789.2 280.0L789.5 250.4L790.0 243.1L791.2 237.1L792.0 234.1L793.1 231.4L794.8 228.1L796.8 225.0L798.2 223.2L799.9 221.6L804.0 219.0L808.8 217.0L813.5 215.7L842.2 211.1L847.0 210.1L851.7 208.7L858.9 205.7L899.5 186.9L923.4 176.5L940.1 169.9L964.0 161.6L976.0 156.8L983.1 153.5L992.7 148.8L1007.0 141.0L1042.8 120.0L1066.7 105.5L1078.7 98.9L1090.6 93.4L1128.8 77.3L1140.8 72.4L1159.9 65.2L1167.0 62.3L1171.8 60.0L1176.6 57.4L1202.0 42.8" stroke="#8833b6" stroke-width="1.80" fill="none" stroke-linejoin="round" stroke-linecap="round"/>
<path d="M789.2 74.9L790.8 80.9L791.9 84.0L793.6 87.0L795.5 89.9L797.4 92.2L799.6 94.2L803.6 96.5L805.9 97.6L810.6 99.4L819.9 102.4L838.5 108.7L847.8 111.3L866.4 115.8L878.1 119.0L892.1 123.5L901.4 127.1L908.5 130.5L922.5 138.4L946.0 151.0L978.7 168.2L992.7 175.0L1015.8 185.0L1025.0 189.4L1041.0 197.8L1056.9 206.7L1075.0 216.0L1084.0 219.9L1097.5 225.0L1113.3 232.0L1117.8 233.8L1124.5 236.2L1138.1 240.6L1144.9 243.1L1154.0 247.2L1160.8 250.9L1168.9 256.2L1171.5 258.3L1173.5 260.2L1176.1 263.2L1178.4 266.4L1180.1 269.3L1181.6 272.5L1183.9 279.5L1184.7 282.9L1185.3 286.1L1186.8 300.3L1187.6 317.0" stroke="#8530bd" stroke-width="1.80" fill="none" stroke-linejoin="round" stroke-linecap="round"/>
<path d="M789.2 280.0L789.5 250.5L790.0 243.2L791.2 237.2L792.0 234.3L793.1 231.6L794.8 228.3L796.8 225.2L798.2 223.5L799.8 221.9L803.9 219.3L808.6 217.3L813.4 216.0L841.9 211.2L846.6 210.1L851.4 208.7L858.5 205.8L896.5 188.0L922.7 176.5L939.5 169.9L965.8 160.7L977.7 155.7L992.0 148.7L1006.3 141.0L1041.5 120.2L1064.7 106.0L1076.1 99.5L1089.9 92.9L1124.1 77.6L1138.0 71.9L1156.6 64.8L1163.7 61.8L1168.4 59.4L1173.1 56.7L1195.7 42.8" stroke="#8530bd" stroke-width="1.80" fill="none" stroke-linejoin="round" stroke-linecap="round"/>
<path d="M789.2 75.6L791.7 83.8L793.0 86.5L794.7 89.2L796.6 91.7L798.5 93.6L800.4 95.1L803.5 96.9L805.8 98.0L810.4 99.8L819.7 102.7L838.2 109.0L847.5 111.7L868.3 116.9L879.9 120.2L891.6 123.9L900.9 127.5L908.0 131.0L922.0 138.7L947.9 152.4L983.0 170.7L994.6 176.2L1015.2 185.2L1026.5 190.7L1040.1 197.9L1055.7 206.8L1073.4 216.0L1082.2 219.9L1095.4 225.1L1115.2 234.0L1121.8 236.4L1135.1 240.9L1141.7 243.5L1150.7 247.6L1157.4 251.4L1165.1 256.6L1167.6 258.7L1169.6 260.7L1171.9 263.5L1174.5 267.2L1176.2 270.2L1177.6 273.4L1179.9 280.2L1181.1 284.6L1181.7 287.8L1183.1 301.3L1183.9 317.0" stroke="#812cc4" stroke-width="1.80" fill="none" stroke-linejoin="round" stroke-linecap="round"/>
<path d="M789.2 280.0L789.5 250.5L790.0 243.2L791.1 237.3L792.0 234.4L792.8 232.4L794.5 229.0L796.4 225.9L797.8 224.1L799.5 222.4L801.4 221.0L803.8 219.6L808.5 217.6L813.2 216.3L841.6 211.2L846.3 210.1L851.0 208.7L858.1 205.8L895.9 188.1L922.1 176.5L938.8 169.9L965.1 160.6L977.1 155.6L993.8 147.5L1008.0 139.7L1040.6 120.3L1063.4 106.2L1074.7 99.8L1088.2 93.1L1119.6 78.8L1133.2 73.0L1151.6 66.0L1160.9 62.0L1165.6 59.7L1170.3 57.0L1192.8 42.8" stroke="#812cc4" stroke-width="1.80" fill="none" stroke-linejoin="round" stroke-linecap="round"/>
<path d="M789.2 75.9L791.6 84.0L793.0 86.7L794.6 89.4L796.5 91.9L798.4 93.8L800.3 95.2L803.5 97.1L805.8 98.2L810.4 99.9L819.6 102.9L838.1 109.2L847.3 112.0L868.1 117.1L879.7 120.5L891.3 124.2L900.6 127.8L907.6 131.2L921.7 138.9L982.4 170.8L994.0 176.4L1014.4 185.4L1023.3 189.8L1038.7 198.1L1054.0 206.9L1071.2 216.0L1079.7 220.0L1092.5 225.2L1111.6 234.2L1118.0 236.7L1130.8 241.4L1137.3 244.0L1146.0 248.3L1152.6 252.1L1159.6 257.0L1162.1 259.2L1164.4 261.5L1166.6 264.5L1168.9 268.0L1170.6 271.1L1172.3 274.9L1174.8 282.6L1176.0 287.1L1176.5 290.1L1177.9 302.8L1178.8 317.0" stroke="#7927d1" stroke-width="1.80" fill="none" stroke-linejoin="round" stroke-linecap="round"/>
<path d="M789.2 280.0L789.5 250.5L790.0 243.2L790.9 238.5L792.3 233.7L793.6 230.7L795.3 227.7L796.7 225.6L798.4 223.6L799.7 222.3L801.4 221.1L806.1 218.6L810.8 217.0L815.5 215.9L843.8 210.7L848.5 209.5L853.2 207.8L857.9 205.8L874.4 198.2L898.0 187.0L921.7 176.5L935.9 170.8L964.6 160.6L976.5 155.6L993.1 147.4L1007.3 139.6L1039.5 120.4L1064.1 105.2L1075.1 99.0L1088.2 92.4L1116.6 79.0L1129.9 73.3L1150.3 65.4L1159.5 61.3L1164.1 58.8L1168.8 55.9L1188.7 42.8" stroke="#7927d1" stroke-width="1.80" fill="none" stroke-linejoin="round" stroke-linecap="round"/>
<path d="M789.2 76.5L791.6 84.6L792.7 86.7L794.6 89.8L796.5 92.3L798.4 94.2L800.3 95.6L803.4 97.4L805.7 98.6L810.3 100.3L819.4 103.3L837.8 109.6L846.9 112.4L867.6 117.7L879.0 121.1L890.5 124.9L899.7 128.6L906.7 132.0L920.5 139.7L975.8 169.1L989.5 175.9L1009.8 184.9L1018.7 189.2L1036.2 198.5L1051.4 207.0L1068.5 216.0L1077.0 220.0L1089.7 225.3L1108.7 234.3L1115.1 236.9L1127.9 241.7L1134.3 244.4L1143.0 248.7L1149.5 252.5L1156.2 257.3L1158.7 259.5L1160.9 261.9L1162.9 264.5L1165.1 268.1L1167.1 271.8L1168.7 275.6L1171.3 283.1L1172.7 288.6L1173.2 291.6L1174.6 303.7L1175.5 317.0" stroke="#6b22df" stroke-width="1.80" fill="none" stroke-linejoin="round" stroke-linecap="round"/>
<path d="M789.2 280.0L789.5 250.6L790.0 243.2L790.9 238.6L792.2 233.9L793.6 230.9L795.3 228.0L796.6 225.9L798.3 223.9L799.7 222.6L801.3 221.5L806.0 219.0L810.7 217.4L817.7 215.8L843.4 210.7L848.1 209.5L852.8 207.8L857.4 205.8L873.8 198.2L897.3 187.1L920.9 176.6L935.2 170.8L963.9 160.5L971.0 157.6L978.2 154.4L992.5 147.4L1006.6 139.6L1038.2 120.6L1064.0 104.4L1070.4 100.7L1078.7 96.2L1103.6 83.4L1114.1 78.4L1126.9 72.8L1146.9 65.0L1151.4 63.0L1156.0 60.7L1164.5 55.4L1175.3 48.0L1182.5 42.8" stroke="#6b22df" stroke-width="1.80" fill="none" stroke-linejoin="round" stroke-linecap="round"/>
<path d="M789.2 77.2L791.6 85.1L792.7 87.2L794.6 90.3L796.4 92.7L798.3 94.6L800.2 96.0L803.3 97.8L805.6 98.9L810.1 100.7L819.2 103.7L837.4 110.0L846.6 112.9L867.0 118.3L876.1 121.0L887.5 124.8L898.9 129.4L905.7 132.8L919.3 140.4L976.1 170.9L987.4 176.5L1007.5 185.5L1016.3 189.7L1033.7 198.8L1048.8 207.2L1065.8 216.0L1074.2 220.0L1086.9 225.4L1105.8 234.5L1124.9 242.0L1131.3 244.8L1137.8 247.9L1144.3 251.5L1150.8 256.1L1154.4 259.1L1157.2 261.9L1158.8 264.1L1160.8 267.2L1163.0 271.3L1164.6 274.9L1167.4 282.8L1169.6 291.6L1170.5 297.1L1171.3 304.6L1172.1 317.0" stroke="#5c1fec" stroke-width="1.80" fill="none" stroke-linejoin="round" stroke-linecap="round"/>
<path d="M789.2 280.0L789.5 250.6L790.0 243.2L790.8 238.7L792.2 234.0L795.2 228.2L796.6 226.2L798.2 224.2L799.6 223.0L801.2 221.8L805.9 219.3L810.5 217.7L817.5 216.0L843.0 210.7L847.7 209.5L852.3 207.8L857.0 205.8L870.9 199.4L896.6 187.1L917.8 177.6L934.5 170.8L963.2 160.5L970.4 157.6L979.9 153.2L994.2 146.1L1008.2 138.3L1037.3 120.7L1062.7 104.7L1071.0 99.9L1081.2 94.3L1101.6 83.6L1111.9 78.5L1124.5 73.0L1144.2 65.3L1148.7 63.3L1153.2 61.0L1157.7 58.3L1162.0 55.4L1172.4 48.1L1179.5 42.8" stroke="#5c1fec" stroke-width="1.80" fill="none" stroke-linejoin="round" stroke-linecap="round"/>
<path d="M789.2 77.9L791.6 85.6L792.7 87.8L794.5 90.7L796.4 93.1L798.3 95.0L800.1 96.4L803.2 98.2L805.5 99.3L810.0 101.1L819.0 104.1L839.4 111.2L848.4 114.0L866.5 118.9L880.0 123.1L889.0 126.4L898.0 130.2L904.7 133.6L918.1 141.1L951.7 159.2L969.6 169.1L978.6 173.8L987.5 178.2L1005.1 186.0L1013.9 190.2L1031.2 199.2L1046.2 207.3L1065.2 217.1L1084.1 225.5L1103.0 234.7L1121.9 242.4L1128.3 245.1L1134.7 248.3L1141.2 252.0L1147.7 256.5L1150.7 259.1L1153.4 262.0L1155.1 264.1L1157.0 267.1L1160.8 274.9L1162.5 279.1L1163.9 283.4L1166.3 293.1L1167.2 298.4L1168.0 305.6L1168.8 317.0" stroke="#4426f0" stroke-width="1.80" fill="none" stroke-linejoin="round" stroke-linecap="round"/>
<path d="M789.2 280.0L789.5 250.6L790.0 243.3L790.8 238.8L792.2 234.2L795.2 228.5L796.5 226.5L798.2 224.6L799.5 223.3L801.2 222.1L805.8 219.6L810.4 218.0L817.3 216.3L842.7 210.7L847.3 209.5L851.9 207.8L856.5 205.9L870.3 199.4L895.9 187.1L917.1 177.6L933.8 170.8L957.7 162.2L964.9 159.5L972.1 156.5L981.7 152.0L993.5 146.1L1007.5 138.3L1036.2 120.8L1063.1 103.8L1077.0 95.7L1096.8 84.9L1104.8 80.7L1114.9 76.0L1121.1 73.3L1140.5 65.6L1145.0 63.6L1149.4 61.4L1153.9 58.7L1158.4 55.6L1168.5 48.3L1175.5 42.8" stroke="#4426f0" stroke-width="1.80" fill="none" stroke-linejoin="round" stroke-linecap="round"/>
<path d="M789.2 78.6L791.6 86.2L792.6 88.3L794.5 91.2L796.4 93.6L798.2 95.4L800.1 96.8L803.1 98.6L805.4 99.7L809.8 101.5L818.8 104.5L839.1 111.6L848.1 114.4L866.0 119.5L877.2 123.0L886.1 126.3L894.9 130.0L903.8 134.4L917.0 141.9L949.9 159.8L967.6 169.8L976.5 174.5L985.3 178.8L1002.8 186.6L1011.5 190.7L1028.7 199.5L1043.5 207.5L1062.5 217.1L1081.3 225.6L1100.1 234.8L1125.3 245.5L1131.7 248.7L1138.1 252.4L1144.5 257.0L1147.5 259.7L1150.0 262.3L1151.6 264.4L1153.2 267.1L1157.0 274.8L1158.7 279.0L1160.3 284.0L1163.0 294.7L1164.7 306.5L1165.5 317.0" stroke="#2d2df5" stroke-width="1.80" fill="none" stroke-linejoin="round" stroke-linecap="round"/>
<path d="M789.2 280.0L789.5 250.7L790.0 243.3L790.8 238.9L792.2 234.4L795.1 228.7L796.5 226.8L798.1 224.9L801.1 222.4L805.7 220.0L810.2 218.4L817.1 216.6L842.3 210.7L846.9 209.5L851.5 207.8L856.0 205.9L869.8 199.4L895.2 187.2L916.4 177.6L933.0 170.8L957.0 162.2L964.3 159.4L973.9 155.3L983.4 150.8L995.2 144.8L1009.0 137.0L1035.1 121.0L1063.3 102.9L1080.7 92.8L1097.9 83.0L1105.7 79.0L1113.6 75.3L1136.8 66.0L1141.2 64.0L1145.7 61.7L1150.1 59.1L1154.8 55.8L1164.5 48.4L1171.4 42.8" stroke="#2d2df5" stroke-width="1.80" fill="none" stroke-linejoin="round" stroke-linecap="round"/>
<path d="M789.2 78.9L791.6 86.4L792.6 88.5L794.5 91.4L796.3 93.7L798.2 95.6L800.0 97.0L803.1 98.8L805.3 99.9L809.8 101.7L818.8 104.7L838.9 111.8L847.9 114.7L865.8 119.7L876.9 123.3L885.7 126.6L894.5 130.4L903.2 134.9L916.3 142.3L948.8 160.2L966.3 170.2L977.3 176.0L983.9 179.1L1001.4 187.0L1010.0 191.1L1027.2 199.7L1042.1 207.6L1061.2 217.1L1080.2 225.7L1099.1 234.9L1124.5 245.6L1130.9 248.8L1137.4 252.5L1143.8 257.1L1146.8 259.8L1149.2 262.4L1150.9 264.6L1152.5 267.2L1156.3 275.1L1158.0 279.3L1159.6 284.3L1162.3 295.0L1163.9 306.7L1164.8 317.0" stroke="#1c4bf9" stroke-width="1.80" fill="none" stroke-linejoin="round" stroke-linecap="round"/>
<path d="M789.2 280.0L789.5 250.7L790.0 243.3L790.8 238.9L792.2 234.4L795.1 228.8L798.1 225.0L801.0 222.6L805.6 220.1L810.2 218.5L828.4 213.9L842.1 210.7L846.7 209.5L851.3 207.8L860.4 203.8L894.7 187.2L915.2 177.7L931.2 170.8L958.6 160.1L972.3 153.9L988.3 145.8L1001.9 138.3L1030.4 121.6L1059.7 103.7L1078.1 93.2L1094.3 84.2L1102.5 80.1L1110.8 76.3L1117.1 73.6L1136.5 66.0L1140.9 64.0L1145.3 61.8L1149.7 59.1L1154.4 55.8L1164.1 48.5L1171.0 42.8" stroke="#1c4bf9" stroke-width="1.80" fill="none" stroke-linejoin="round" stroke-linecap="round"/>
<path d="M789.2 79.4L791.6 86.8L792.6 88.9L794.5 91.7L796.3 94.1L798.1 95.9L800.2 97.5L803.0 99.1L805.2 100.2L809.7 102.0L818.6 105.0L838.7 112.2L847.6 115.0L865.4 120.2L876.4 123.8L885.3 127.1L894.0 130.8L902.8 135.3L915.8 142.6L948.4 160.3L965.9 170.3L976.9 176.1L983.5 179.3L1000.9 187.1L1009.5 191.2L1026.7 199.8L1041.6 207.6L1060.6 217.1L1079.5 225.7L1098.5 234.9L1123.8 245.7L1130.2 248.9L1136.6 252.6L1140.9 255.5L1143.0 257.2L1146.0 259.9L1148.4 262.6L1150.1 264.8L1151.7 267.5L1155.5 275.4L1157.1 279.6L1158.8 284.7L1161.5 295.4L1163.1 307.0L1163.9 317.0" stroke="#0f63fc" stroke-width="1.80" fill="none" stroke-linejoin="round" stroke-linecap="round"/>
<path d="M789.2 280.0L789.5 250.7L790.0 243.3L790.8 239.0L792.1 234.5L794.8 229.5L797.8 225.5L799.4 224.0L801.0 222.8L805.5 220.4L810.1 218.8L828.2 214.0L844.1 210.1L850.9 207.8L860.0 203.8L894.1 187.3L914.6 177.7L930.6 170.9L958.0 160.1L964.8 157.1L974.0 152.8L987.7 145.8L1001.2 138.3L1029.7 121.7L1059.0 103.9L1077.3 93.3L1093.6 84.3L1101.8 80.1L1110.1 76.3L1116.3 73.7L1135.7 66.1L1140.1 64.1L1144.5 61.9L1148.9 59.2L1153.6 55.9L1163.3 48.5L1170.2 42.8" stroke="#0f63fc" stroke-width="1.80" fill="none" stroke-linejoin="round" stroke-linecap="round"/>
<path d="M789.2 80.0L791.6 87.2L792.6 89.3L794.4 92.1L796.3 94.4L798.1 96.2L800.2 97.8L802.9 99.4L805.1 100.5L809.6 102.3L818.4 105.3L840.6 113.2L849.5 116.1L865.0 120.6L876.0 124.2L884.8 127.5L893.6 131.2L902.3 135.6L948.0 160.5L967.7 171.6L976.5 176.2L985.2 180.4L1000.4 187.2L1009.0 191.3L1060.0 217.1L1078.9 225.7L1097.8 234.9L1123.1 245.8L1129.4 249.0L1135.8 252.7L1140.1 255.6L1142.3 257.4L1144.9 259.8L1147.4 262.4L1149.0 264.5L1150.6 267.2L1154.4 275.0L1156.1 279.2L1157.7 284.1L1159.3 290.0L1160.7 295.8L1162.3 307.2L1163.1 317.0" stroke="#017aff" stroke-width="1.80" fill="none" stroke-linejoin="round" stroke-linecap="round"/>
<path d="M789.2 280.0L789.5 250.8L790.0 243.4L790.8 239.0L792.1 234.7L794.8 229.7L797.7 225.8L799.3 224.3L800.9 223.1L805.4 220.7L809.9 219.0L828.0 214.1L843.8 210.1L850.6 207.8L859.6 203.8L895.8 186.2L914.0 177.7L930.0 170.9L957.4 160.0L964.3 157.0L973.4 152.7L989.3 144.6L1002.8 137.1L1031.1 120.5L1058.2 104.0L1076.6 93.4L1092.9 84.3L1101.1 80.2L1109.3 76.4L1115.6 73.7L1135.0 66.2L1139.4 64.2L1143.8 61.9L1148.2 59.3L1152.8 55.9L1162.5 48.5L1169.4 42.8" stroke="#017aff" stroke-width="1.80" fill="none" stroke-linejoin="round" stroke-linecap="round"/>
<path d="M789.2 80.5L790.8 85.5L791.8 88.2L793.4 90.9L795.2 93.5L797.0 95.6L799.1 97.4L802.8 99.7L805.1 100.8L809.5 102.6L820.5 106.4L840.4 113.6L849.2 116.4L864.6 121.0L875.6 124.6L884.4 127.9L893.1 131.6L901.9 136.0L938.9 155.9L949.8 161.8L967.3 171.8L976.1 176.3L984.8 180.5L999.9 187.3L1008.5 191.4L1025.6 199.9L1040.5 207.7L1061.5 218.1L1078.3 225.8L1097.1 235.0L1122.3 245.9L1128.7 249.1L1135.1 252.8L1139.3 255.8L1141.5 257.5L1144.2 259.9L1146.6 262.6L1148.2 264.7L1149.8 267.4L1153.6 275.3L1155.2 279.5L1156.9 284.5L1158.5 290.4L1159.8 296.2L1161.5 307.4L1162.3 317.0" stroke="#0094fc" stroke-width="1.80" fill="none" stroke-linejoin="round" stroke-linecap="round"/>
<path d="M789.2 280.0L789.5 250.8L789.7 245.9L790.5 240.4L791.8 235.4L794.5 230.3L797.4 226.3L799.0 224.7L800.8 223.4L805.3 220.9L809.8 219.3L827.8 214.2L843.5 210.1L848.0 208.7L852.5 206.9L868.2 199.6L899.8 184.1L913.4 177.7L929.4 170.9L956.8 160.0L972.8 152.7L988.7 144.6L1002.2 137.1L1028.3 121.8L1053.4 106.6L1071.8 95.8L1094.2 83.3L1100.3 80.2L1108.6 76.4L1114.9 73.8L1134.2 66.2L1138.6 64.3L1143.0 62.0L1147.4 59.4L1152.0 56.0L1161.7 48.6L1168.5 42.8" stroke="#0094fc" stroke-width="1.80" fill="none" stroke-linejoin="round" stroke-linecap="round"/>
<path d="M789.2 81.0L790.8 86.0L791.8 88.6L793.3 91.3L795.2 93.8L797.0 95.9L799.0 97.7L802.8 100.0L805.0 101.1L809.4 102.9L820.3 106.7L842.3 114.7L864.2 121.4L875.2 125.1L884.0 128.3L892.7 132.0L901.4 136.4L938.5 156.0L949.4 161.9L966.9 171.9L975.6 176.5L984.3 180.6L1008.1 191.5L1025.1 200.0L1039.9 207.7L1060.9 218.1L1077.6 225.8L1096.4 235.0L1121.6 246.0L1127.9 249.2L1134.3 252.9L1138.6 255.9L1140.7 257.6L1143.4 260.1L1145.8 262.7L1147.4 264.9L1149.0 267.6L1152.8 275.6L1155.8 284.0L1158.7 295.3L1160.4 305.4L1161.4 317.0" stroke="#00adf9" stroke-width="1.80" fill="none" stroke-linejoin="round" stroke-linecap="round"/>
<path d="M789.2 280.0L789.5 250.9L789.7 246.0L790.5 240.4L791.8 235.5L794.5 230.5L797.4 226.5L798.9 225.0L800.8 223.6L805.3 221.2L809.7 219.6L827.6 214.3L843.2 210.1L847.7 208.7L852.2 206.9L867.8 199.6L892.5 187.4L910.6 178.8L928.8 170.9L956.2 159.9L965.4 155.9L974.5 151.5L988.1 144.5L1001.5 137.1L1029.7 120.7L1052.7 106.8L1073.1 94.7L1093.5 83.4L1099.6 80.3L1107.9 76.5L1114.2 73.9L1133.5 66.3L1137.8 64.4L1142.2 62.1L1146.6 59.4L1151.5 55.9L1160.9 48.6L1167.7 42.8" stroke="#00adf9" stroke-width="1.80" fill="none" stroke-linejoin="round" stroke-linecap="round"/>
<path d="M789.2 81.6L790.7 86.4L791.8 89.0L793.3 91.7L795.1 94.2L796.9 96.2L799.0 98.0L802.7 100.3L804.9 101.4L809.3 103.3L820.2 107.0L842.0 115.0L866.0 122.5L877.0 126.3L885.7 129.6L894.4 133.5L901.0 136.7L940.3 157.3L949.0 162.1L966.5 172.0L975.2 176.6L983.9 180.7L1005.4 190.6L1022.5 199.0L1054.0 215.1L1062.4 219.1L1077.0 225.8L1093.6 234.1L1102.0 237.9L1114.5 243.2L1120.8 246.1L1127.2 249.3L1133.5 253.0L1137.8 256.0L1139.9 257.7L1142.6 260.2L1145.0 262.9L1146.6 265.1L1148.2 267.8L1151.7 275.3L1153.3 279.4L1155.0 284.4L1157.9 295.7L1159.5 305.7L1160.6 317.0" stroke="#00c6f6" stroke-width="1.80" fill="none" stroke-linejoin="round" stroke-linecap="round"/>
<path d="M789.2 280.0L789.5 250.9L789.7 246.0L790.5 240.5L791.8 235.7L794.4 230.7L797.3 226.8L798.9 225.2L800.7 223.9L805.2 221.4L809.6 219.8L827.4 214.4L842.9 210.1L847.4 208.7L851.8 207.0L865.2 200.7L894.2 186.3L910.0 178.8L928.2 170.9L955.6 159.9L964.8 155.8L973.9 151.4L987.5 144.5L1003.1 135.8L1029.0 120.8L1072.4 94.9L1092.8 83.4L1098.9 80.3L1107.2 76.6L1113.4 73.9L1132.7 66.4L1137.1 64.4L1141.4 62.2L1145.8 59.5L1150.7 56.0L1160.0 48.6L1166.9 42.8" stroke="#00c6f6" stroke-width="1.80" fill="none" stroke-linejoin="round" stroke-linecap="round"/>
<path d="M789.2 82.1L790.7 86.9L791.8 89.4L793.3 92.0L795.1 94.5L796.9 96.5L798.9 98.3L802.6 100.6L804.8 101.7L809.2 103.6L820.0 107.3L841.7 115.4L865.7 123.0L876.5 126.7L885.3 130.1L894.0 133.9L939.9 157.5L948.7 162.2L966.1 172.1L974.8 176.7L983.5 180.9L1007.1 191.7L1053.4 215.1L1076.3 225.8L1092.9 234.1L1101.3 237.9L1113.8 243.3L1120.1 246.1L1126.4 249.4L1132.7 253.1L1137.0 256.1L1139.1 257.8L1141.8 260.3L1144.2 263.1L1145.8 265.2L1147.4 268.0L1150.9 275.5L1152.5 279.7L1154.1 284.7L1157.1 296.1L1158.7 306.0L1159.8 317.0" stroke="#00d7e9" stroke-width="1.80" fill="none" stroke-linejoin="round" stroke-linecap="round"/>
<path d="M789.2 280.0L789.5 250.9L789.7 246.0L790.5 240.5L791.8 235.8L794.4 230.8L797.3 227.0L798.8 225.5L800.7 224.1L805.1 221.7L809.5 220.1L829.4 213.8L844.8 209.5L851.5 207.0L864.7 200.7L893.6 186.3L909.4 178.8L925.3 171.8L955.0 159.8L964.2 155.8L975.5 150.3L989.1 143.3L1002.4 135.9L1028.3 120.9L1073.7 93.8L1092.0 83.5L1098.2 80.4L1106.4 76.6L1112.7 74.0L1131.9 66.4L1136.3 64.5L1140.7 62.3L1145.0 59.6L1149.9 56.0L1159.2 48.7L1166.0 42.8" stroke="#00d7e9" stroke-width="1.80" fill="none" stroke-linejoin="round" stroke-linecap="round"/>
<path d="M789.2 82.6L790.7 87.3L791.7 89.8L793.3 92.4L795.1 94.9L796.8 96.9L798.9 98.6L802.6 101.0L804.7 102.1L809.0 103.9L819.9 107.6L841.5 115.7L850.1 118.6L865.3 123.4L876.1 127.1L884.8 130.5L893.5 134.3L939.5 157.6L948.3 162.3L965.7 172.3L974.4 176.8L983.0 181.0L1006.6 191.8L1052.8 215.1L1075.7 225.9L1092.3 234.1L1119.3 246.2L1125.6 249.5L1132.0 253.2L1136.2 256.2L1138.3 258.0L1141.0 260.5L1143.1 262.9L1144.7 265.0L1146.4 267.7L1149.8 275.2L1151.4 279.3L1153.1 284.2L1156.3 296.5L1157.9 306.3L1158.9 317.0" stroke="#00e2d3" stroke-width="1.80" fill="none" stroke-linejoin="round" stroke-linecap="round"/>
<path d="M789.2 280.0L789.5 251.0L789.7 246.1L790.5 240.6L791.8 235.9L794.4 231.0L797.2 227.3L798.8 225.7L800.6 224.4L805.0 222.0L809.4 220.3L829.2 213.9L844.5 209.5L851.1 207.0L864.3 200.8L893.1 186.4L908.8 178.8L924.7 171.9L956.7 158.8L965.9 154.7L974.9 150.2L988.5 143.3L1003.9 134.6L1029.7 119.7L1073.0 93.9L1091.3 83.5L1097.5 80.4L1105.7 76.7L1112.0 74.0L1131.2 66.5L1135.5 64.6L1139.9 62.4L1144.2 59.7L1149.1 56.1L1158.4 48.7L1165.2 42.8" stroke="#00e2d3" stroke-width="1.80" fill="none" stroke-linejoin="round" stroke-linecap="round"/>
<path d="M789.2 83.2L791.7 90.3L793.3 92.8L795.0 95.2L797.1 97.4L799.1 99.1L802.5 101.3L804.6 102.4L808.9 104.2L819.7 107.9L843.3 116.8L864.9 123.8L875.7 127.6L884.4 130.9L893.1 134.7L939.1 157.8L947.9 162.5L965.3 172.4L974.0 176.9L982.6 181.1L1006.1 191.9L1052.2 215.1L1075.0 225.9L1091.6 234.2L1118.6 246.3L1124.9 249.6L1131.2 253.3L1135.4 256.3L1137.6 258.1L1139.9 260.3L1142.1 262.7L1143.9 265.2L1145.3 267.4L1148.8 274.8L1150.6 279.6L1152.2 284.6L1155.4 296.8L1157.0 306.5L1158.1 317.0" stroke="#00ecbd" stroke-width="1.80" fill="none" stroke-linejoin="round" stroke-linecap="round"/>
<path d="M789.2 280.0L789.5 251.0L789.7 246.1L790.5 240.6L791.8 236.0L794.1 231.6L795.6 229.3L797.2 227.5L798.7 226.0L800.5 224.6L802.7 223.3L807.1 221.4L828.9 213.9L844.2 209.5L850.8 207.0L859.5 202.9L894.8 185.3L908.2 178.9L924.1 171.9L956.1 158.8L965.3 154.6L974.4 150.2L987.8 143.2L1003.2 134.6L1029.0 119.8L1074.3 92.8L1090.6 83.6L1096.8 80.5L1105.0 76.7L1111.3 74.1L1130.4 66.6L1134.8 64.7L1139.1 62.4L1143.5 59.8L1148.3 56.2L1157.6 48.7L1164.4 42.8" stroke="#00ecbd" stroke-width="1.80" fill="none" stroke-linejoin="round" stroke-linecap="round"/>
<path d="M789.2 83.5L791.7 90.5L793.2 93.0L795.0 95.4L797.0 97.6L799.0 99.3L802.5 101.4L804.6 102.5L808.9 104.4L819.6 108.1L843.2 117.0L875.5 127.8L884.2 131.2L892.9 134.9L925.8 151.1L939.0 157.9L947.7 162.5L967.4 173.6L976.0 178.1L1005.9 192.0L1052.1 215.1L1074.9 225.9L1093.5 235.2L1118.4 246.3L1124.7 249.6L1131.0 253.3L1135.3 256.3L1137.4 258.1L1139.8 260.4L1141.9 262.7L1143.5 264.8L1144.8 267.0L1148.3 274.3L1150.2 279.0L1151.8 283.8L1153.7 290.3L1155.3 296.9L1156.9 306.6L1157.9 317.0" stroke="#00f5aa" stroke-width="1.80" fill="none" stroke-linejoin="round" stroke-linecap="round"/>
<path d="M789.2 280.0L789.5 251.0L790.0 243.5L790.5 240.6L791.8 236.0L794.1 231.7L795.6 229.5L797.2 227.6L798.7 226.1L800.5 224.8L802.7 223.5L807.0 221.5L826.6 214.7L844.1 209.5L850.6 207.0L859.3 203.0L894.5 185.3L907.9 178.9L923.8 171.9L955.8 158.7L965.0 154.6L976.3 149.0L989.7 142.0L1005.1 133.4L1028.6 119.9L1074.0 92.8L1090.3 83.6L1096.4 80.5L1104.7 76.8L1110.9 74.1L1130.1 66.6L1134.4 64.7L1138.8 62.5L1143.1 59.8L1148.0 56.2L1157.2 48.8L1164.0 42.8" stroke="#00f5aa" stroke-width="1.80" fill="none" stroke-linejoin="round" stroke-linecap="round"/>
<path d="M789.2 83.7L791.7 90.7L793.2 93.2L795.0 95.6L797.0 97.8L799.0 99.5L802.4 101.6L804.6 102.7L808.8 104.5L819.5 108.2L843.0 117.2L868.8 125.7L877.4 128.8L886.1 132.2L894.9 136.1L938.9 157.9L947.7 162.5L967.3 173.6L976.0 178.1L1005.9 192.0L1051.9 215.1L1074.7 225.9L1093.2 235.2L1118.1 246.4L1124.4 249.7L1130.7 253.4L1134.9 256.4L1137.0 258.2L1139.4 260.4L1141.5 262.8L1143.1 264.9L1144.5 267.1L1147.9 274.4L1149.8 279.1L1151.4 283.9L1153.3 290.5L1154.9 297.1L1156.5 306.7L1157.5 317.0" stroke="#09f687" stroke-width="1.80" fill="none" stroke-linejoin="round" stroke-linecap="round"/>
<path d="M789.2 280.0L789.5 251.0L790.0 243.5L790.5 240.7L791.8 236.1L794.1 231.8L795.6 229.6L797.1 227.7L798.7 226.3L800.5 224.9L802.6 223.6L807.0 221.6L826.5 214.7L843.9 209.5L850.4 207.0L859.1 203.0L894.2 185.3L907.6 178.9L923.5 171.9L955.5 158.7L964.7 154.6L976.0 149.0L993.8 139.6L1024.0 122.4L1073.4 92.9L1089.7 83.7L1095.8 80.6L1104.1 76.8L1110.3 74.2L1129.4 66.7L1133.8 64.8L1138.1 62.5L1142.4 59.9L1147.3 56.3L1156.5 48.8L1163.3 42.8" stroke="#09f687" stroke-width="1.80" fill="none" stroke-linejoin="round" stroke-linecap="round"/>
<path d="M789.2 84.0L791.7 90.9L793.2 93.4L795.0 95.7L797.0 97.9L799.0 99.6L802.4 101.7L804.5 102.8L808.8 104.7L821.6 109.2L842.9 117.4L868.6 125.9L877.2 129.0L885.9 132.4L894.7 136.2L925.6 151.2L938.8 157.9L947.7 162.5L967.3 173.6L976.0 178.1L1005.8 192.0L1051.8 215.1L1074.4 225.9L1093.0 235.2L1117.8 246.4L1124.0 249.7L1130.3 253.4L1134.5 256.4L1136.6 258.2L1140.9 262.6L1142.8 265.0L1144.1 267.2L1147.3 273.9L1149.1 278.5L1150.7 283.2L1152.6 289.7L1154.2 296.1L1155.8 305.0L1157.1 317.0" stroke="#13f764" stroke-width="1.80" fill="none" stroke-linejoin="round" stroke-linecap="round"/>
<path d="M789.2 280.0L789.5 251.0L790.0 243.5L790.5 240.7L791.8 236.2L794.0 231.9L797.1 227.9L798.6 226.4L800.4 225.0L802.6 223.7L806.9 221.8L826.4 214.8L843.7 209.5L850.2 207.0L858.9 203.0L893.9 185.3L907.3 178.9L923.2 171.9L955.2 158.7L964.4 154.5L975.7 149.0L993.5 139.6L1023.6 122.4L1056.7 102.8L1072.9 93.0L1089.1 83.7L1095.2 80.6L1103.5 76.8L1109.7 74.2L1128.8 66.7L1133.1 64.8L1137.4 62.6L1141.7 59.9L1146.6 56.3L1155.8 48.8L1162.5 42.8" stroke="#13f764" stroke-width="1.80" fill="none" stroke-linejoin="round" stroke-linecap="round"/>
<path d="M789.2 84.3L791.7 91.1L793.2 93.6L795.0 95.9L797.0 98.1L799.0 99.8L802.3 101.9L804.5 103.0L808.7 104.8L821.5 109.3L844.9 118.3L868.4 126.1L877.0 129.2L885.7 132.6L894.5 136.4L925.5 151.3L938.8 157.9L949.8 163.8L967.3 173.6L975.9 178.1L1005.8 192.0L1051.6 215.1L1074.2 225.9L1092.7 235.2L1117.4 246.5L1123.7 249.8L1130.0 253.5L1134.2 256.5L1136.3 258.3L1140.5 262.6L1142.4 265.1L1143.7 267.2L1146.9 274.0L1148.8 278.7L1150.4 283.4L1152.2 289.9L1153.8 296.3L1155.4 305.1L1156.8 317.0" stroke="#1cf941" stroke-width="1.80" fill="none" stroke-linejoin="round" stroke-linecap="round"/>
<path d="M789.2 280.0L789.5 251.1L790.0 243.5L790.5 240.7L791.7 236.2L794.0 232.0L797.1 228.0L798.6 226.5L800.4 225.2L802.6 223.8L806.9 221.9L828.5 214.1L845.7 208.7L852.2 206.1L863.0 200.9L895.8 184.3L907.0 178.9L922.9 171.9L954.9 158.7L966.3 153.4L977.7 147.9L995.4 138.4L1023.2 122.5L1056.2 102.9L1072.4 93.0L1088.6 83.8L1094.7 80.6L1102.8 76.9L1109.0 74.3L1128.1 66.8L1132.4 64.9L1136.7 62.7L1141.0 60.0L1145.9 56.4L1155.1 48.9L1161.8 42.8" stroke="#1cf941" stroke-width="1.80" fill="none" stroke-linejoin="round" stroke-linecap="round"/>
<path d="M789.2 84.5L791.7 91.3L793.2 93.7L794.9 96.1L796.9 98.2L798.9 99.9L802.3 102.1L804.4 103.1L808.7 105.0L821.4 109.5L844.7 118.5L876.8 129.4L887.7 133.7L896.5 137.6L925.4 151.3L940.9 159.1L949.8 163.8L967.3 173.6L975.9 178.1L1005.7 192.0L1051.5 215.1L1074.0 225.9L1092.4 235.2L1117.1 246.5L1123.3 249.8L1129.6 253.5L1133.8 256.6L1135.9 258.3L1140.1 262.7L1142.0 265.2L1143.3 267.3L1146.5 274.1L1148.4 278.8L1150.0 283.6L1151.8 290.1L1153.4 296.5L1155.0 305.3L1156.4 317.0" stroke="#25fa1d" stroke-width="1.80" fill="none" stroke-linejoin="round" stroke-linecap="round"/>
<path d="M789.2 280.0L789.5 251.1L790.0 243.5L790.5 240.7L791.7 236.3L794.0 232.1L797.1 228.1L798.6 226.6L800.4 225.3L802.5 224.0L806.8 222.0L828.4 214.1L845.6 208.7L852.0 206.1L862.8 200.9L895.6 184.3L906.7 178.9L922.6 171.9L954.6 158.6L966.0 153.4L977.4 147.8L995.0 138.4L1024.9 121.3L1055.7 103.0L1071.9 93.1L1088.0 83.8L1094.1 80.7L1102.2 76.9L1108.4 74.3L1127.4 66.9L1131.7 65.0L1136.0 62.8L1140.3 60.1L1145.2 56.5L1154.3 48.9L1161.1 42.8" stroke="#25fa1d" stroke-width="1.80" fill="none" stroke-linejoin="round" stroke-linecap="round"/>
<path d="M789.2 84.8L791.7 91.5L793.2 93.9L794.9 96.2L796.9 98.4L798.9 100.1L802.3 102.2L804.4 103.3L808.6 105.1L821.3 109.6L844.6 118.7L876.6 129.6L887.5 133.9L896.3 137.7L925.2 151.4L940.9 159.1L949.8 163.8L967.3 173.6L975.9 178.1L1005.7 192.0L1051.4 215.1L1073.8 226.0L1092.2 235.3L1116.8 246.5L1123.0 249.9L1129.2 253.6L1133.4 256.6L1135.5 258.4L1139.5 262.5L1141.4 264.9L1142.7 266.9L1145.9 273.6L1147.7 278.2L1149.3 282.9L1152.8 295.5L1153.8 300.5L1154.6 305.4L1156.0 317.0" stroke="#3dfa11" stroke-width="1.80" fill="none" stroke-linejoin="round" stroke-linecap="round"/>
<path d="M789.2 280.0L789.5 251.1L790.0 243.6L790.5 240.8L791.7 236.3L794.0 232.2L797.0 228.2L798.6 226.8L800.3 225.4L804.6 223.1L824.0 215.7L830.4 213.4L843.3 209.5L851.9 206.1L862.6 200.9L895.3 184.3L906.4 178.9L922.3 171.9L954.3 158.6L965.8 153.4L977.1 147.8L994.7 138.4L1024.5 121.4L1055.3 103.1L1073.4 92.0L1087.4 83.9L1093.5 80.7L1101.6 77.0L1107.8 74.4L1126.7 66.9L1131.0 65.0L1135.3 62.8L1139.6 60.2L1144.5 56.5L1153.6 48.9L1160.3 42.8" stroke="#3dfa11" stroke-width="1.80" fill="none" stroke-linejoin="round" stroke-linecap="round"/>
<path d="M789.2 85.1L791.7 91.7L793.2 94.1L794.9 96.4L796.9 98.6L798.9 100.2L802.2 102.4L804.4 103.5L808.6 105.3L821.2 109.8L844.4 118.9L870.0 127.5L878.6 130.6L889.6 135.0L898.4 138.9L922.9 150.4L936.3 156.9L947.5 162.6L965.1 172.5L973.7 177.0L1005.6 192.0L1051.2 215.1L1073.6 226.0L1091.9 235.3L1116.4 246.6L1122.6 249.9L1128.9 253.6L1133.1 256.7L1135.2 258.4L1139.1 262.5L1141.0 264.9L1142.3 267.0L1145.5 273.7L1147.4 278.4L1148.9 283.0L1152.4 295.7L1154.3 305.5L1155.6 317.0" stroke="#5bfa0d" stroke-width="1.80" fill="none" stroke-linejoin="round" stroke-linecap="round"/>
<path d="M789.2 280.0L789.5 251.1L790.0 243.6L790.5 240.8L791.7 236.4L794.0 232.3L797.0 228.3L798.5 226.9L800.3 225.5L804.6 223.2L823.9 215.8L830.3 213.5L843.1 209.5L851.7 206.1L862.4 200.9L895.0 184.3L906.1 178.9L922.0 171.9L954.0 158.6L965.5 153.3L976.8 147.8L994.4 138.4L1024.1 121.4L1054.8 103.2L1072.8 92.1L1088.9 82.8L1094.9 79.8L1101.0 77.0L1107.2 74.4L1126.1 67.0L1130.4 65.1L1134.6 62.9L1138.9 60.2L1143.8 56.6L1152.9 49.0L1159.6 42.8" stroke="#5bfa0d" stroke-width="1.80" fill="none" stroke-linejoin="round" stroke-linecap="round"/>
<path d="M789.2 85.3L791.7 91.9L793.2 94.3L794.9 96.6L796.9 98.7L798.9 100.4L802.2 102.5L804.3 103.6L808.5 105.4L821.1 109.9L846.4 119.8L871.9 128.4L882.8 132.5L893.8 137.0L920.5 149.4L934.0 155.8L945.2 161.4L967.2 173.7L973.7 177.0L1005.6 192.0L1051.1 215.1L1073.4 226.0L1091.6 235.3L1116.1 246.6L1122.3 250.0L1128.5 253.7L1132.7 256.7L1134.8 258.5L1138.7 262.6L1140.6 265.0L1141.9 267.1L1145.1 273.9L1147.0 278.5L1148.6 283.2L1152.0 295.9L1153.9 305.7L1155.2 317.0" stroke="#78fa09" stroke-width="1.80" fill="none" stroke-linejoin="round" stroke-linecap="round"/>
<path d="M789.2 280.0L789.5 251.1L790.0 243.6L790.5 240.8L791.7 236.4L794.0 232.4L797.0 228.5L800.3 225.7L804.5 223.3L825.9 215.0L832.3 212.8L843.0 209.5L851.5 206.1L862.2 200.9L894.7 184.3L905.9 178.9L921.7 171.9L953.7 158.6L965.2 153.3L978.7 146.6L996.2 137.2L1025.8 120.3L1054.3 103.3L1072.3 92.1L1088.3 82.9L1094.3 79.9L1100.4 77.1L1106.5 74.5L1125.4 67.1L1129.7 65.2L1134.0 63.0L1138.2 60.3L1143.1 56.7L1152.2 49.0L1158.9 42.8" stroke="#78fa09" stroke-width="1.80" fill="none" stroke-linejoin="round" stroke-linecap="round"/>
<path d="M789.2 85.6L791.7 92.1L793.2 94.5L794.9 96.8L796.9 98.9L798.8 100.6L802.2 102.7L804.3 103.8L808.5 105.6L821.0 110.1L846.2 120.0L871.7 128.6L882.6 132.7L895.8 138.2L922.7 150.5L934.0 155.8L945.2 161.4L967.2 173.7L973.7 177.0L1005.6 192.0L1050.9 215.1L1073.2 226.0L1091.4 235.3L1115.8 246.7L1126.1 252.4L1132.3 256.8L1137.1 261.2L1140.8 265.9L1143.7 271.5L1146.1 277.3L1147.6 281.7L1151.1 293.9L1152.4 299.7L1153.2 304.1L1154.3 311.6L1154.8 317.0" stroke="#95fa04" stroke-width="1.80" fill="none" stroke-linejoin="round" stroke-linecap="round"/>
<path d="M789.2 280.0L789.5 251.2L790.0 243.6L790.5 240.8L791.7 236.5L794.0 232.4L797.0 228.6L800.2 225.8L804.5 223.4L825.8 215.1L832.2 212.8L842.8 209.5L851.3 206.1L862.0 201.0L894.4 184.3L905.6 178.9L921.4 171.9L953.4 158.5L964.9 153.3L978.4 146.6L995.9 137.2L1025.4 120.3L1053.8 103.4L1071.8 92.2L1087.7 82.9L1093.7 79.9L1099.8 77.1L1105.9 74.5L1124.7 67.1L1129.0 65.2L1133.3 63.0L1137.5 60.4L1142.3 56.7L1151.4 49.0L1158.1 42.8" stroke="#95fa04" stroke-width="1.80" fill="none" stroke-linejoin="round" stroke-linecap="round"/>
<path d="M789.2 85.8L791.7 92.2L793.1 94.6L794.9 96.9L796.8 99.0L798.8 100.6L802.2 102.8L804.2 103.9L808.4 105.7L821.0 110.2L846.1 120.1L871.6 128.8L882.5 132.8L895.7 138.3L922.6 150.5L933.9 155.9L945.1 161.5L967.2 173.7L973.6 177.0L1007.6 193.1L1050.8 215.1L1073.0 226.0L1091.1 235.3L1115.5 246.7L1125.8 252.5L1132.0 256.8L1136.7 261.2L1140.4 266.0L1143.3 271.6L1145.7 277.4L1147.3 281.9L1150.7 294.1L1152.0 299.9L1152.8 304.3L1153.9 311.7L1154.4 317.0" stroke="#c9f600" stroke-width="1.80" fill="none" stroke-linejoin="round" stroke-linecap="round"/>
<path d="M789.2 280.0L789.5 251.2L790.0 243.6L790.5 240.8L791.7 236.5L794.0 232.5L797.0 228.6L800.2 225.9L804.5 223.5L825.7 215.1L832.1 212.8L844.9 208.7L851.2 206.1L861.9 201.0L894.3 184.3L905.4 178.9L921.2 171.9L953.2 158.5L964.6 153.3L978.1 146.6L995.6 137.2L1025.1 120.4L1053.5 103.5L1071.4 92.2L1087.4 82.9L1093.4 79.9L1099.5 77.2L1105.6 74.6L1124.4 67.2L1128.7 65.3L1132.9 63.1L1137.2 60.4L1142.0 56.7L1151.1 49.0L1157.7 42.8" stroke="#c9f600" stroke-width="1.80" fill="none" stroke-linejoin="round" stroke-linecap="round"/>
<path d="M789.2 86.0L791.7 92.4L793.1 94.8L794.9 97.0L796.8 99.1L798.8 100.8L802.1 102.9L804.2 104.0L808.4 105.8L820.9 110.3L846.0 120.3L871.4 129.0L884.5 133.8L895.5 138.4L924.7 151.6L945.1 161.5L967.1 173.7L973.6 177.1L1007.5 193.1L1052.5 216.1L1072.6 226.0L1090.7 235.3L1114.9 246.8L1125.2 252.5L1131.4 256.9L1136.1 261.3L1139.8 266.1L1142.7 271.8L1145.1 277.6L1146.7 282.1L1150.1 294.3L1152.2 304.5L1153.3 311.8L1153.8 317.0" stroke="#fbec00" stroke-width="1.80" fill="none" stroke-linejoin="round" stroke-linecap="round"/>
<path d="M789.2 280.0L789.4 251.2L789.9 243.6L790.4 240.9L791.7 236.6L793.9 232.6L796.9 228.8L800.2 226.0L804.4 223.6L825.6 215.1L832.0 212.8L844.7 208.7L851.1 206.1L861.7 201.0L894.0 184.3L905.1 179.0L920.9 171.9L952.9 158.5L964.3 153.3L977.8 146.6L995.2 137.2L1026.8 119.2L1053.2 103.5L1071.2 92.3L1087.1 83.0L1093.2 79.9L1099.2 77.2L1105.4 74.6L1124.2 67.2L1128.4 65.3L1132.7 63.1L1137.0 60.4L1141.8 56.8L1150.8 49.0L1157.5 42.8" stroke="#fbec00" stroke-width="1.80" fill="none" stroke-linejoin="round" stroke-linecap="round"/>
<path d="M789.2 86.3L791.7 92.6L793.1 95.0L794.8 97.2L796.8 99.3L798.8 100.9L802.1 103.0L804.2 104.1L808.3 106.0L820.8 110.5L845.8 120.5L873.4 129.9L884.3 134.0L895.3 138.6L926.9 152.7L945.0 161.5L967.1 173.7L973.5 177.1L1007.3 193.1L1052.3 216.1L1072.3 226.0L1090.2 235.4L1114.4 246.8L1124.6 252.6L1130.8 257.0L1135.3 261.1L1139.0 265.8L1140.3 268.1L1141.9 271.3L1145.8 281.5L1147.7 287.6L1149.5 294.6L1151.6 304.8L1152.7 312.0L1153.2 317.0" stroke="#ffb800" stroke-width="1.80" fill="none" stroke-linejoin="round" stroke-linecap="round"/>
<path d="M789.2 280.0L789.4 251.2L789.9 243.6L790.4 240.9L791.7 236.6L793.9 232.7L796.9 228.9L800.2 226.1L804.4 223.8L810.7 221.3L825.5 215.2L831.9 212.9L844.5 208.7L850.9 206.1L859.3 202.1L893.7 184.4L904.8 179.0L920.6 171.9L952.6 158.5L964.0 153.2L977.5 146.6L994.9 137.2L1026.5 119.3L1052.9 103.6L1070.9 92.3L1086.9 83.0L1092.9 80.0L1099.0 77.2L1105.1 74.6L1123.9 67.2L1128.2 65.3L1132.5 63.1L1136.7 60.5L1141.5 56.8L1150.6 49.1L1157.3 42.8" stroke="#ffb800" stroke-width="1.80" fill="none" stroke-linejoin="round" stroke-linecap="round"/>
<path d="M789.2 86.5L791.6 92.8L793.1 95.1L794.8 97.3L796.8 99.4L798.7 101.1L802.1 103.2L804.1 104.3L808.3 106.1L820.7 110.6L845.7 120.7L873.2 130.1L884.1 134.2L897.4 139.7L929.0 153.8L947.2 162.7L967.0 173.7L973.5 177.1L1007.2 193.2L1052.0 216.1L1071.9 226.0L1089.8 235.4L1113.9 246.9L1124.1 252.7L1128.2 255.4L1130.3 257.1L1134.7 261.2L1138.4 265.9L1139.7 268.2L1141.3 271.5L1145.2 281.8L1148.6 293.9L1149.9 299.5L1151.0 305.0L1152.6 317.0" stroke="#fe7e00" stroke-width="1.80" fill="none" stroke-linejoin="round" stroke-linecap="round"/>
<path d="M789.2 280.0L789.4 251.2L789.9 243.6L790.4 240.9L791.7 236.7L793.9 232.8L796.9 229.0L800.1 226.2L804.3 223.9L810.7 221.4L825.4 215.2L831.7 212.9L844.4 208.7L850.7 206.2L859.1 202.1L891.3 185.5L902.3 180.0L918.0 172.9L954.6 157.4L966.0 152.1L977.2 146.6L994.6 137.2L1026.1 119.3L1052.6 103.7L1070.6 92.3L1086.6 83.0L1092.7 80.0L1098.8 77.2L1104.9 74.6L1123.7 67.2L1128.0 65.3L1132.2 63.2L1136.5 60.5L1141.3 56.8L1150.3 49.1L1157.0 42.8" stroke="#fe7e00" stroke-width="1.80" fill="none" stroke-linejoin="round" stroke-linecap="round"/>
<path d="M789.2 86.7L791.6 92.9L793.1 95.2L794.8 97.4L796.8 99.5L798.7 101.2L802.0 103.3L804.1 104.4L808.3 106.2L820.7 110.7L845.6 120.8L873.1 130.2L886.2 135.2L897.3 139.8L929.0 153.9L947.1 162.7L966.9 173.7L973.4 177.1L981.9 181.3L998.8 189.1L1009.2 194.2L1051.8 216.1L1071.7 226.0L1089.6 235.4L1113.6 246.9L1123.7 252.7L1127.9 255.5L1129.9 257.1L1134.3 261.3L1138.0 266.0L1139.3 268.3L1140.9 271.6L1144.8 281.9L1148.3 294.0L1149.6 299.6L1150.6 305.2L1152.2 317.0" stroke="#fc4400" stroke-width="1.80" fill="none" stroke-linejoin="round" stroke-linecap="round"/>
<path d="M789.2 280.0L789.4 251.2L789.9 243.6L790.4 240.9L791.7 236.7L793.9 232.8L796.9 229.0L800.1 226.3L804.3 224.0L810.6 221.5L825.4 215.2L831.7 212.9L844.3 208.7L850.6 206.2L859.0 202.1L891.1 185.5L902.1 180.0L917.8 172.9L952.0 158.4L963.4 153.2L976.9 146.5L994.3 137.2L1027.9 118.2L1052.2 103.7L1070.3 92.4L1086.3 83.0L1092.4 80.0L1098.4 77.2L1104.6 74.6L1114.9 70.7L1123.4 67.3L1127.6 65.4L1131.9 63.2L1136.1 60.5L1140.9 56.8L1150.0 49.1L1156.6 42.8" stroke="#fc4400" stroke-width="1.80" fill="none" stroke-linejoin="round" stroke-linecap="round"/>
<path d="M789.2 86.7L791.6 93.0L793.1 95.3L794.8 97.5L796.8 99.6L798.7 101.2L802.0 103.3L804.1 104.4L808.2 106.3L820.7 110.7L847.6 121.6L873.0 130.3L883.8 134.4L897.1 140.0L928.6 154.0L946.6 162.9L966.4 173.9L972.8 177.3L981.4 181.4L998.2 189.2L1008.6 194.3L1051.2 216.1L1071.1 226.1L1089.0 235.4L1111.0 246.0L1117.1 249.2L1123.2 252.8L1127.4 255.6L1129.4 257.2L1133.6 261.1L1135.7 263.6L1137.5 266.1L1140.1 271.2L1144.1 281.3L1147.5 293.2L1149.8 303.9L1150.9 310.4L1151.7 317.0" stroke="#fb3700" stroke-width="1.80" fill="none" stroke-linejoin="round" stroke-linecap="round"/>
<path d="M789.2 280.0L789.4 251.2L789.9 243.6L790.4 240.9L791.7 236.7L793.9 232.8L796.9 229.1L800.1 226.4L804.3 224.0L810.6 221.6L825.3 215.3L831.6 212.9L844.3 208.7L850.6 206.2L859.0 202.1L891.0 185.5L902.0 180.0L917.6 172.9L942.5 162.4L953.9 157.4L965.2 152.1L978.6 145.4L995.8 136.0L1029.3 117.1L1051.7 103.9L1069.8 92.4L1085.8 83.1L1091.9 80.0L1098.0 77.3L1104.1 74.7L1114.5 70.7L1122.9 67.3L1127.2 65.4L1131.4 63.2L1135.7 60.6L1140.4 56.9L1149.5 49.1L1156.1 42.8" stroke="#fb3700" stroke-width="1.80" fill="none" stroke-linejoin="round" stroke-linecap="round"/>
<path d="M789.2 86.8L791.6 93.0L793.1 95.3L794.8 97.5L796.8 99.6L798.7 101.3L802.0 103.4L804.1 104.5L808.2 106.3L820.6 110.8L845.5 120.9L872.9 130.4L883.7 134.6L894.7 139.2L928.2 154.2L946.2 163.0L965.9 174.1L972.3 177.4L980.8 181.6L997.6 189.4L1010.1 195.5L1052.6 217.2L1068.6 225.1L1090.5 236.5L1110.5 246.0L1116.6 249.3L1122.7 252.9L1126.9 255.6L1128.9 257.3L1133.1 261.2L1135.2 263.6L1137.0 266.2L1139.6 271.3L1143.5 281.5L1147.0 293.5L1149.3 304.1L1150.4 310.6L1151.1 317.0" stroke="#fb2b00" stroke-width="1.80" fill="none" stroke-linejoin="round" stroke-linecap="round"/>
<path d="M789.2 280.0L789.4 251.2L789.7 246.3L790.2 242.2L791.4 237.4L793.4 233.6L794.9 231.5L796.6 229.4L798.4 227.7L800.1 226.4L804.3 224.1L810.6 221.6L825.3 215.3L831.6 212.9L844.2 208.7L850.5 206.2L858.9 202.1L890.9 185.5L901.8 180.0L917.4 172.9L942.2 162.4L953.5 157.3L964.8 152.0L978.1 145.4L995.3 136.0L1030.8 116.0L1051.1 104.0L1069.3 92.5L1085.4 83.1L1091.4 80.1L1097.5 77.3L1103.7 74.7L1114.0 70.8L1122.5 67.3L1126.7 65.5L1130.9 63.3L1135.2 60.6L1140.2 56.7L1149.2 48.9L1155.6 42.8" stroke="#fb2b00" stroke-width="1.80" fill="none" stroke-linejoin="round" stroke-linecap="round"/>
<path d="M789.2 86.9L791.6 93.1L793.1 95.4L794.8 97.6L796.8 99.7L798.7 101.3L802.0 103.4L804.1 104.5L808.2 106.3L820.6 110.8L845.5 120.9L870.7 129.7L881.4 133.8L894.5 139.3L925.7 153.3L943.5 162.0L965.3 174.2L971.7 177.6L980.2 181.7L999.1 190.5L1013.6 197.7L1068.0 225.1L1090.0 236.5L1110.0 246.1L1116.1 249.3L1122.2 252.9L1126.3 255.7L1128.4 257.3L1132.6 261.3L1134.6 263.7L1136.5 266.3L1139.1 271.4L1143.0 281.7L1146.4 293.7L1148.8 304.4L1149.8 310.7L1150.6 317.0" stroke="#fa1e00" stroke-width="1.80" fill="none" stroke-linejoin="round" stroke-linecap="round"/>
<path d="M789.2 280.0L789.4 251.2L789.7 246.3L790.2 242.2L791.4 237.4L793.4 233.6L794.9 231.5L796.6 229.4L798.4 227.8L800.1 226.4L804.3 224.1L810.6 221.6L825.3 215.3L831.6 212.9L844.2 208.7L850.5 206.2L858.9 202.1L890.8 185.5L901.7 180.0L917.2 172.9L950.9 158.3L964.3 152.0L977.5 145.3L994.7 136.1L1030.3 116.1L1050.6 104.1L1068.7 92.6L1078.8 86.5L1084.9 83.1L1091.0 80.1L1097.1 77.3L1103.2 74.8L1113.6 70.8L1122.0 67.4L1126.2 65.5L1130.5 63.3L1134.7 60.7L1139.7 56.8L1148.7 48.9L1155.1 42.8" stroke="#fa1e00" stroke-width="1.80" fill="none" stroke-linejoin="round" stroke-linecap="round"/>
<path d="M789.2 87.0L791.6 93.2L793.1 95.5L794.8 97.6L796.8 99.7L798.7 101.3L802.0 103.5L804.1 104.6L808.2 106.4L820.6 110.9L845.4 121.0L870.6 129.8L881.3 133.9L894.3 139.5L925.3 153.5L943.1 162.2L964.8 174.4L971.2 177.8L979.6 181.9L998.5 190.6L1019.1 200.8L1067.5 225.1L1089.4 236.5L1109.5 246.1L1115.6 249.4L1121.7 253.0L1125.8 255.8L1127.9 257.4L1132.0 261.3L1134.1 263.8L1136.0 266.4L1138.3 271.0L1142.2 281.1L1145.6 293.0L1148.3 304.6L1150.1 317.0" stroke="#f61800" stroke-width="1.80" fill="none" stroke-linejoin="round" stroke-linecap="round"/>
<path d="M789.2 280.0L789.4 251.2L789.7 246.3L790.2 242.2L791.4 237.4L793.4 233.7L794.9 231.5L796.6 229.4L798.3 227.8L800.1 226.5L804.3 224.1L810.6 221.7L825.2 215.3L831.5 212.9L844.1 208.7L852.5 205.2L901.5 180.1L916.9 172.9L950.5 158.3L963.9 151.9L977.0 145.3L994.2 136.1L1031.7 115.0L1050.1 104.2L1068.2 92.6L1078.3 86.6L1084.4 83.2L1090.5 80.1L1096.6 77.4L1102.8 74.8L1113.1 70.9L1121.5 67.4L1125.8 65.6L1130.0 63.4L1134.2 60.7L1139.2 56.8L1148.2 48.9L1154.6 42.8" stroke="#f61800" stroke-width="1.80" fill="none" stroke-linejoin="round" stroke-linecap="round"/>
<path d="M789.2 87.1L791.6 93.2L793.1 95.5L794.8 97.7L796.7 99.7L798.7 101.4L802.0 103.5L804.0 104.6L808.2 106.4L820.6 110.9L845.4 121.0L870.5 129.9L881.2 134.0L894.1 139.6L925.0 153.6L942.6 162.3L964.3 174.6L970.6 177.9L979.1 182.1L997.9 190.8L1018.5 200.9L1066.9 225.1L1088.9 236.6L1109.0 246.2L1115.1 249.4L1121.2 253.1L1125.3 255.8L1127.4 257.5L1131.5 261.4L1133.6 263.9L1135.4 266.5L1137.8 271.1L1141.7 281.3L1144.8 292.2L1147.5 303.4L1148.8 311.0L1149.5 317.0" stroke="#f01600" stroke-width="1.80" fill="none" stroke-linejoin="round" stroke-linecap="round"/>
<path d="M789.2 280.0L789.4 251.2L789.7 246.3L790.2 242.2L791.4 237.4L793.4 233.7L794.9 231.5L796.6 229.5L798.3 227.8L800.1 226.5L804.3 224.2L810.5 221.7L825.2 215.3L831.5 212.9L844.1 208.7L852.5 205.2L860.8 201.0L890.5 185.5L901.4 180.1L914.5 173.9L950.1 158.3L963.4 151.9L976.5 145.3L995.8 134.9L1033.2 113.9L1049.5 104.3L1067.7 92.7L1077.8 86.6L1083.9 83.2L1090.0 80.2L1096.1 77.4L1102.3 74.8L1112.7 70.9L1121.1 67.5L1125.3 65.6L1129.5 63.4L1133.7 60.8L1138.7 56.8L1147.5 49.2L1154.1 42.8" stroke="#f01600" stroke-width="1.80" fill="none" stroke-linejoin="round" stroke-linecap="round"/>
<path d="M789.2 87.1L791.6 93.3L793.1 95.6L794.8 97.7L796.7 99.8L798.7 101.4L802.0 103.5L804.0 104.6L808.2 106.5L820.6 111.0L845.3 121.1L870.4 130.0L878.9 133.3L891.8 138.8L924.6 153.8L942.2 162.5L963.7 174.7L970.1 178.1L978.5 182.2L999.3 191.9L1040.2 212.1L1066.3 225.2L1088.4 236.6L1108.5 246.3L1114.6 249.5L1120.7 253.1L1124.8 255.9L1126.9 257.5L1131.0 261.5L1133.1 264.0L1134.9 266.7L1137.3 271.3L1141.2 281.5L1144.3 292.4L1146.9 303.7L1148.2 311.2L1149.0 317.0" stroke="#ea1500" stroke-width="1.80" fill="none" stroke-linejoin="round" stroke-linecap="round"/>
<path d="M789.2 280.0L789.4 251.3L789.7 246.3L790.2 242.2L791.4 237.4L793.4 233.7L794.9 231.6L796.6 229.5L798.3 227.9L800.1 226.5L804.2 224.2L810.5 221.7L825.2 215.3L831.5 212.9L844.0 208.7L852.4 205.2L860.8 201.0L901.2 180.1L914.3 173.9L949.7 158.2L962.9 151.9L976.0 145.3L995.2 134.9L1032.7 114.1L1049.0 104.4L1067.2 92.8L1077.3 86.7L1083.4 83.3L1089.5 80.2L1095.7 77.5L1101.8 74.9L1112.2 71.0L1120.6 67.5L1124.8 65.7L1129.0 63.5L1133.2 60.8L1138.3 56.9L1147.0 49.2L1153.6 42.8" stroke="#ea1500" stroke-width="1.80" fill="none" stroke-linejoin="round" stroke-linecap="round"/>
<path d="M789.2 87.2L791.6 93.3L793.1 95.6L794.8 97.8L796.7 99.8L798.7 101.5L802.0 103.6L804.0 104.7L810.2 107.3L820.5 111.0L845.3 121.1L870.3 130.1L878.8 133.4L891.6 138.9L922.1 152.9L933.0 158.2L941.7 162.6L961.1 173.7L969.5 178.2L977.9 182.4L998.7 192.1L1043.6 214.1L1065.8 225.2L1089.8 237.6L1108.0 246.3L1114.1 249.6L1120.2 253.2L1124.3 256.0L1126.4 257.6L1130.5 261.6L1134.2 266.4L1136.5 270.8L1140.4 280.9L1143.5 291.7L1146.4 303.9L1147.7 311.3L1148.5 317.0" stroke="#e41300" stroke-width="1.80" fill="none" stroke-linejoin="round" stroke-linecap="round"/>
<path d="M789.2 280.0L789.4 251.3L789.7 246.3L790.2 242.2L791.4 237.4L793.4 233.7L794.9 231.6L796.6 229.5L798.3 227.9L800.0 226.6L804.2 224.2L810.5 221.8L825.2 215.3L831.4 212.9L844.0 208.7L852.3 205.2L860.7 201.1L901.1 180.1L914.1 173.9L949.3 158.2L962.5 151.8L975.5 145.2L988.3 138.4L1015.6 123.4L1034.1 113.0L1048.4 104.5L1066.7 92.8L1076.9 86.7L1083.0 83.3L1089.1 80.2L1095.2 77.5L1101.4 74.9L1111.7 71.0L1120.1 67.6L1124.3 65.7L1128.5 63.5L1132.8 60.9L1137.8 56.9L1146.5 49.2L1153.1 42.8" stroke="#e41300" stroke-width="1.80" fill="none" stroke-linejoin="round" stroke-linecap="round"/>
<path d="M789.2 87.3L791.6 93.4L793.1 95.7L794.8 97.8L796.7 99.9L798.7 101.5L801.9 103.6L804.0 104.7L810.2 107.3L820.5 111.0L845.2 121.2L868.1 129.4L878.7 133.5L891.5 139.1L921.7 153.1L932.6 158.3L941.3 162.8L960.5 173.9L969.0 178.4L977.3 182.5L998.1 192.2L1045.0 215.2L1065.2 225.2L1089.3 237.7L1107.5 246.4L1113.6 249.6L1119.7 253.3L1123.8 256.1L1125.9 257.7L1130.0 261.7L1133.7 266.5L1136.0 270.9L1139.9 281.1L1143.0 291.9L1145.9 304.2L1148.0 317.0" stroke="#de1100" stroke-width="1.80" fill="none" stroke-linejoin="round" stroke-linecap="round"/>
<path d="M789.2 280.0L789.4 251.3L789.7 246.3L790.2 242.2L791.4 237.4L793.4 233.8L794.9 231.6L796.6 229.6L798.3 227.9L800.0 226.6L804.2 224.3L810.5 221.8L825.1 215.4L831.4 212.9L843.9 208.7L852.3 205.2L860.7 201.1L900.9 180.1L913.9 174.0L948.9 158.2L962.0 151.8L975.0 145.2L987.8 138.4L1015.0 123.5L1033.6 113.1L1047.9 104.6L1066.2 92.9L1076.4 86.8L1082.5 83.3L1088.6 80.3L1094.7 77.5L1119.7 67.6L1123.9 65.7L1128.1 63.6L1132.3 60.9L1137.3 57.0L1146.0 49.3L1152.5 42.8" stroke="#de1100" stroke-width="1.80" fill="none" stroke-linejoin="round" stroke-linecap="round"/>
<path d="M789.2 87.4L791.6 93.4L793.1 95.7L794.8 97.9L796.7 99.9L798.7 101.6L801.9 103.7L804.0 104.8L810.2 107.4L820.5 111.1L845.2 121.3L868.0 129.5L876.4 132.8L889.2 138.3L921.4 153.2L932.2 158.5L940.8 162.9L960.0 174.1L968.4 178.6L976.8 182.7L997.5 192.3L1046.5 216.2L1064.6 225.2L1088.8 237.7L1107.0 246.4L1113.1 249.7L1119.2 253.3L1123.3 256.1L1125.4 257.8L1129.5 261.8L1133.1 266.6L1135.5 271.1L1139.4 281.3L1142.2 291.1L1145.3 304.4L1147.4 317.0" stroke="#d70f00" stroke-width="1.80" fill="none" stroke-linejoin="round" stroke-linecap="round"/>
<path d="M789.2 280.0L789.4 251.3L789.7 246.3L790.2 242.2L791.4 237.5L793.4 233.8L794.9 231.7L796.6 229.6L798.3 228.0L800.0 226.6L804.2 224.3L810.5 221.8L827.2 214.5L843.9 208.7L852.2 205.2L860.6 201.1L900.8 180.1L913.7 174.0L948.5 158.1L961.6 151.8L976.6 144.1L1016.5 122.5L1035.1 112.0L1047.3 104.8L1065.7 92.9L1075.9 86.8L1082.0 83.4L1088.1 80.3L1094.3 77.6L1119.2 67.7L1123.4 65.8L1127.6 63.6L1131.8 61.0L1136.8 57.0L1145.5 49.3L1152.0 42.8" stroke="#d70f00" stroke-width="1.80" fill="none" stroke-linejoin="round" stroke-linecap="round"/>
<path d="M789.2 87.4L791.6 93.5L793.1 95.8L794.8 97.9L796.7 100.0L798.7 101.6L801.9 103.7L804.0 104.8L810.2 107.4L820.5 111.1L845.1 121.3L868.0 129.6L876.3 132.9L889.0 138.4L918.9 152.4L929.7 157.6L940.4 163.1L959.5 174.2L967.8 178.7L976.2 182.8L996.9 192.5L1045.9 216.2L1064.1 225.2L1088.3 237.7L1106.5 246.5L1112.6 249.8L1118.7 253.4L1122.8 256.2L1124.9 257.8L1129.0 261.8L1132.6 266.7L1135.0 271.2L1138.9 281.5L1141.7 291.4L1144.8 304.7L1146.9 317.0" stroke="#d10e00" stroke-width="1.80" fill="none" stroke-linejoin="round" stroke-linecap="round"/>
<path d="M789.2 280.0L789.4 251.3L789.7 246.3L790.2 242.2L791.4 237.5L793.4 233.8L794.9 231.7L796.6 229.6L798.3 228.0L800.0 226.7L804.2 224.4L810.5 221.9L827.1 214.5L843.8 208.7L852.2 205.2L860.5 201.1L900.6 180.1L911.4 175.0L935.1 164.2L948.1 158.1L961.1 151.7L976.1 144.1L1015.9 122.5L1034.5 112.1L1046.8 104.9L1065.2 93.0L1075.4 86.8L1081.5 83.4L1087.7 80.4L1093.8 77.6L1118.7 67.7L1122.9 65.8L1127.1 63.7L1131.3 61.0L1136.3 57.1L1145.0 49.3L1151.5 42.8" stroke="#d10e00" stroke-width="1.80" fill="none" stroke-linejoin="round" stroke-linecap="round"/>
<path d="M789.2 87.5L791.6 93.6L792.8 95.5L794.8 98.0L796.7 100.0L798.7 101.7L801.9 103.8L804.0 104.9L810.1 107.5L820.4 111.2L845.1 121.4L867.9 129.7L876.2 133.0L888.8 138.6L918.6 152.5L929.3 157.7L939.9 163.2L961.0 175.6L969.4 180.0L996.3 192.6L1045.3 216.2L1063.5 225.3L1087.7 237.8L1106.0 246.6L1112.1 249.8L1118.2 253.5L1122.3 256.3L1124.4 257.9L1128.5 261.9L1131.9 266.4L1134.2 270.7L1138.1 280.9L1140.9 290.6L1144.0 303.6L1146.4 317.0" stroke="#cb0c00" stroke-width="1.80" fill="none" stroke-linejoin="round" stroke-linecap="round"/>
<path d="M789.2 280.0L789.4 251.3L789.7 246.4L790.2 242.2L791.4 237.5L793.4 233.8L794.9 231.7L796.6 229.7L798.3 228.0L800.0 226.7L804.2 224.4L810.4 221.9L827.1 214.5L843.8 208.7L852.1 205.2L860.5 201.1L900.5 180.1L911.2 175.0L945.6 159.1L960.7 151.7L975.6 144.0L1015.4 122.6L1033.9 112.3L1046.3 105.0L1064.7 93.1L1074.9 86.9L1081.0 83.4L1087.2 80.4L1093.4 77.6L1118.3 67.7L1122.4 65.9L1126.6 63.7L1130.8 61.1L1135.8 57.1L1144.5 49.3L1151.0 42.8" stroke="#cb0c00" stroke-width="1.80" fill="none" stroke-linejoin="round" stroke-linecap="round"/>
<path d="M789.2 87.6L791.6 93.6L792.8 95.5L794.8 98.0L796.7 100.1L798.6 101.7L801.9 103.8L804.0 104.9L810.1 107.5L820.4 111.2L845.1 121.4L867.8 129.8L876.1 133.1L888.7 138.7L916.2 151.7L928.9 157.9L939.5 163.4L958.4 174.6L968.8 180.1L1016.2 202.5L1044.7 216.2L1062.9 225.3L1087.2 237.8L1105.5 246.6L1111.6 249.9L1117.7 253.5L1121.8 256.3L1123.9 258.0L1128.0 262.0L1131.3 266.5L1133.7 270.9L1137.6 281.1L1140.4 290.9L1143.5 303.9L1145.8 317.0" stroke="#c50a00" stroke-width="1.80" fill="none" stroke-linejoin="round" stroke-linecap="round"/>
<path d="M789.2 280.0L789.4 251.3L789.7 246.4L790.2 242.2L791.4 237.5L793.4 233.9L794.8 231.7L796.6 229.7L798.3 228.1L800.0 226.8L804.2 224.4L810.4 221.9L827.1 214.5L843.7 208.7L852.1 205.2L860.4 201.1L900.3 180.1L911.0 175.0L945.2 159.1L960.2 151.7L977.2 142.9L1016.9 121.6L1035.4 111.2L1045.7 105.1L1064.2 93.1L1074.4 86.9L1080.6 83.5L1086.7 80.4L1092.9 77.7L1117.8 67.8L1122.0 65.9L1126.2 63.8L1130.3 61.1L1135.3 57.2L1143.9 49.4L1150.5 42.8" stroke="#c50a00" stroke-width="1.80" fill="none" stroke-linejoin="round" stroke-linecap="round"/>
<path d="M789.2 87.7L791.6 93.7L792.8 95.6L794.8 98.1L796.7 100.1L798.6 101.7L801.9 103.9L804.0 104.9L810.1 107.6L820.4 111.3L845.0 121.5L871.9 131.5L880.2 135.0L890.6 139.8L920.1 153.9L932.7 160.2L941.1 164.7L960.0 175.9L968.3 180.3L1029.9 209.3L1046.1 217.2L1062.4 225.3L1086.7 237.8L1105.0 246.7L1111.1 250.0L1117.2 253.6L1121.3 256.4L1123.4 258.1L1127.5 262.1L1130.8 266.6L1133.2 271.0L1137.0 281.3L1139.6 290.1L1143.0 304.1L1145.3 317.0" stroke="#bf0900" stroke-width="1.80" fill="none" stroke-linejoin="round" stroke-linecap="round"/>
<path d="M789.2 280.0L789.4 251.3L789.7 246.4L790.2 242.2L791.4 237.5L793.4 233.9L794.8 231.8L796.6 229.7L800.0 226.8L804.2 224.5L810.4 222.0L827.1 214.5L831.2 213.0L843.7 208.7L852.0 205.2L860.4 201.1L900.2 180.1L910.8 175.0L944.8 159.0L959.8 151.6L976.7 142.9L1016.3 121.6L1034.9 111.3L1045.2 105.2L1063.7 93.2L1073.9 87.0L1080.1 83.5L1086.3 80.5L1092.4 77.7L1117.3 67.8L1121.5 66.0L1125.7 63.8L1129.9 61.2L1134.8 57.2L1143.4 49.4L1150.0 42.8" stroke="#bf0900" stroke-width="1.80" fill="none" stroke-linejoin="round" stroke-linecap="round"/>
<path d="M789.2 87.7L791.6 93.7L792.8 95.6L794.8 98.1L796.7 100.2L798.6 101.8L801.9 103.9L803.9 105.0L810.1 107.6L820.4 111.3L845.0 121.5L871.8 131.6L880.1 135.1L888.4 139.0L919.7 154.0L932.3 160.3L940.7 164.9L959.4 176.1L967.7 180.4L1029.2 209.3L1045.5 217.2L1059.8 224.3L1086.2 237.9L1104.5 246.7L1110.6 250.0L1116.7 253.7L1120.8 256.5L1122.9 258.1L1127.0 262.2L1130.3 266.7L1132.6 271.1L1136.5 281.5L1139.1 290.3L1142.4 304.4L1144.8 317.0" stroke="#b90700" stroke-width="1.80" fill="none" stroke-linejoin="round" stroke-linecap="round"/>
<path d="M789.2 280.0L789.4 251.3L789.7 246.4L790.2 242.2L791.4 237.5L793.4 233.9L794.8 231.8L796.6 229.8L800.0 226.8L804.1 224.5L810.4 222.0L827.0 214.6L831.2 213.0L843.7 208.7L852.0 205.2L860.3 201.1L900.0 180.1L944.5 159.0L959.3 151.6L978.2 141.8L1017.8 120.6L1034.3 111.4L1044.6 105.3L1063.1 93.3L1073.4 87.0L1079.6 83.6L1085.8 80.5L1092.0 77.7L1116.9 67.9L1121.0 66.0L1125.2 63.9L1129.4 61.2L1134.3 57.2L1142.9 49.4L1149.5 42.8" stroke="#b90700" stroke-width="1.80" fill="none" stroke-linejoin="round" stroke-linecap="round"/>
<path d="M789.2 87.8L791.6 93.8L792.8 95.7L794.8 98.2L796.7 100.2L798.6 101.8L801.9 103.9L803.9 105.0L810.1 107.7L820.3 111.3L844.9 121.6L869.6 130.8L877.9 134.3L886.1 138.1L919.4 154.2L931.9 160.5L940.2 165.0L958.9 176.2L967.1 180.6L977.4 185.5L1030.7 210.3L1044.9 217.2L1085.6 237.9L1104.0 246.8L1110.1 250.1L1116.2 253.7L1120.3 256.5L1122.4 258.2L1126.5 262.3L1129.8 266.8L1131.9 270.7L1133.7 275.1L1135.7 280.9L1138.3 289.6L1141.6 303.4L1144.2 317.0" stroke="#b20500" stroke-width="1.80" fill="none" stroke-linejoin="round" stroke-linecap="round"/>
<path d="M789.2 280.0L789.4 251.3L789.7 246.4L790.2 242.2L791.4 237.5L793.4 233.9L794.8 231.8L796.5 229.8L800.0 226.9L804.1 224.5L810.4 222.1L827.0 214.6L845.7 208.0L854.0 204.3L899.9 180.1L942.0 160.0L958.8 151.5L979.8 140.7L1017.2 120.7L1033.8 111.5L1044.1 105.4L1062.6 93.3L1072.9 87.1L1079.1 83.6L1089.4 78.7L1097.7 75.2L1108.1 71.3L1116.4 67.9L1120.6 66.1L1124.7 63.9L1128.9 61.3L1133.8 57.3L1142.4 49.4L1149.0 42.8" stroke="#b20500" stroke-width="1.80" fill="none" stroke-linejoin="round" stroke-linecap="round"/>
<path d="M789.2 87.9L791.6 93.8L792.8 95.8L794.8 98.2L796.7 100.2L798.6 101.9L801.9 104.0L803.9 105.1L810.1 107.7L820.3 111.4L844.9 121.6L869.5 130.9L875.7 133.5L883.9 137.3L919.1 154.4L931.5 160.7L939.8 165.2L958.3 176.4L966.6 180.8L976.8 185.7L1028.0 209.4L1044.3 217.2L1085.1 238.0L1103.5 246.9L1109.6 250.2L1115.7 253.8L1119.8 256.6L1121.9 258.3L1126.0 262.4L1129.3 266.9L1131.4 270.8L1133.2 275.3L1135.2 281.1L1137.8 289.8L1141.1 303.7L1143.7 317.0" stroke="#ac0300" stroke-width="1.80" fill="none" stroke-linejoin="round" stroke-linecap="round"/>
<path d="M789.2 280.0L789.4 251.3L789.7 246.4L790.2 242.2L791.4 237.6L793.4 234.0L794.8 231.9L796.5 229.8L800.0 226.9L804.1 224.6L810.3 222.1L827.0 214.6L845.6 208.0L853.9 204.3L874.7 193.5L899.7 180.1L941.6 160.0L958.4 151.5L981.3 139.6L1018.7 119.7L1035.3 110.5L1045.6 104.2L1062.1 93.4L1072.5 87.1L1078.6 83.6L1089.0 78.7L1097.3 75.2L1107.6 71.4L1115.9 68.0L1120.1 66.1L1124.2 64.0L1128.4 61.3L1133.3 57.3L1141.9 49.4L1148.4 42.8" stroke="#ac0300" stroke-width="1.80" fill="none" stroke-linejoin="round" stroke-linecap="round"/>
<path d="M789.2 88.0L791.6 93.9L792.8 95.8L794.7 98.3L796.7 100.3L798.6 101.9L801.9 104.0L803.9 105.1L810.0 107.7L820.3 111.4L844.8 121.7L869.4 131.0L875.6 133.6L883.8 137.4L918.7 154.5L931.1 160.8L939.3 165.3L957.8 176.6L966.0 180.9L976.3 185.9L1029.4 210.4L1043.7 217.2L1084.6 238.0L1103.0 246.9L1109.1 250.2L1115.2 253.9L1119.3 256.7L1121.4 258.3L1125.5 262.4L1128.8 267.0L1130.8 270.9L1134.4 280.5L1137.0 289.1L1140.3 302.8L1143.2 317.0" stroke="#a60200" stroke-width="1.80" fill="none" stroke-linejoin="round" stroke-linecap="round"/>
<path d="M789.2 280.0L789.4 251.3L789.7 246.4L790.2 242.2L791.4 237.6L793.4 234.0L794.8 231.9L796.5 229.9L800.0 226.9L804.1 224.6L810.3 222.1L826.9 214.6L845.6 208.0L849.7 206.2L856.0 203.2L899.6 180.1L935.0 163.1L955.8 152.6L980.8 139.6L1020.2 118.6L1030.6 112.9L1040.9 106.9L1061.6 93.5L1072.0 87.2L1078.2 83.7L1084.4 80.6L1090.6 77.9L1096.8 75.3L1109.2 70.6L1117.5 67.1L1121.7 65.2L1125.8 62.8L1131.6 58.5L1141.2 49.7L1147.9 42.8" stroke="#a60200" stroke-width="1.80" fill="none" stroke-linejoin="round" stroke-linecap="round"/>
<path d="M789.2 88.0L791.6 94.0L792.8 95.9L794.7 98.3L796.7 100.3L798.8 102.1L803.9 105.2L810.0 107.8L820.3 111.5L844.8 121.7L869.3 131.1L881.6 136.6L918.4 154.7L930.7 161.0L938.9 165.5L957.3 176.7L965.4 181.1L977.7 187.0L1028.8 210.4L1043.2 217.2L1084.1 238.0L1102.5 247.0L1108.6 250.3L1114.7 253.9L1118.8 256.8L1120.9 258.4L1125.0 262.5L1128.3 267.1L1130.3 271.1L1133.9 280.7L1136.5 289.3L1139.8 303.0L1142.6 317.0" stroke="#a00000" stroke-width="1.80" fill="none" stroke-linejoin="round" stroke-linecap="round"/>
<path d="M789.2 280.0L789.4 251.3L789.7 246.4L790.2 242.2L791.4 237.6L793.4 234.0L794.8 231.9L796.5 229.9L799.9 227.0L804.1 224.7L810.3 222.2L826.9 214.6L831.0 213.0L845.5 208.0L849.7 206.2L855.9 203.2L874.6 193.5L897.4 181.2L907.7 176.0L932.6 164.1L945.0 157.8L978.2 140.6L1019.7 118.7L1030.0 113.1L1040.4 107.0L1061.1 93.5L1071.5 87.2L1077.7 83.7L1083.9 80.6L1090.1 77.9L1096.3 75.3L1108.8 70.6L1117.1 67.2L1121.2 65.2L1125.4 62.9L1131.1 58.5L1140.7 49.7L1147.4 42.8" stroke="#a00000" stroke-width="1.80" fill="none" stroke-linejoin="round" stroke-linecap="round"/>
</g>
<rect x="100.7" y="6.0" width="497.8" height="350.4" fill="none" stroke="#7f7f7f" stroke-width="2.6"/>
<rect x="770.8" y="8.6" width="497.8" height="350.4" fill="none" stroke="#7f7f7f" stroke-width="2.6"/>
<rect x="110.2" y="502.7" width="498.2" height="350.1" fill="none" stroke="#7f7f7f" stroke-width="2.6"/>
<rect x="778.5" y="503.0" width="498.2" height="349.8" fill="none" stroke="#7f7f7f" stroke-width="2.6"/>
<line x1="117.8" y1="356.4" x2="117.8" y2="362.9" stroke="#7f7f7f" stroke-width="2.2"/>
<line x1="186.5" y1="356.4" x2="186.5" y2="362.9" stroke="#7f7f7f" stroke-width="2.2"/>
<line x1="255.1" y1="356.4" x2="255.1" y2="362.9" stroke="#7f7f7f" stroke-width="2.2"/>
<line x1="323.8" y1="356.4" x2="323.8" y2="362.9" stroke="#7f7f7f" stroke-width="2.2"/>
<line x1="392.5" y1="356.4" x2="392.5" y2="362.9" stroke="#7f7f7f" stroke-width="2.2"/>
<line x1="461.2" y1="356.4" x2="461.2" y2="362.9" stroke="#7f7f7f" stroke-width="2.2"/>
<line x1="529.8" y1="356.4" x2="529.8" y2="362.9" stroke="#7f7f7f" stroke-width="2.2"/>
<line x1="598.5" y1="356.4" x2="598.5" y2="362.9" stroke="#7f7f7f" stroke-width="2.2"/>
<line x1="152.1" y1="356.4" x2="152.1" y2="359.9" stroke="#7f7f7f" stroke-width="2.2"/>
<line x1="220.8" y1="356.4" x2="220.8" y2="359.9" stroke="#7f7f7f" stroke-width="2.2"/>
<line x1="289.5" y1="356.4" x2="289.5" y2="359.9" stroke="#7f7f7f" stroke-width="2.2"/>
<line x1="358.1" y1="356.4" x2="358.1" y2="359.9" stroke="#7f7f7f" stroke-width="2.2"/>
<line x1="426.8" y1="356.4" x2="426.8" y2="359.9" stroke="#7f7f7f" stroke-width="2.2"/>
<line x1="495.5" y1="356.4" x2="495.5" y2="359.9" stroke="#7f7f7f" stroke-width="2.2"/>
<line x1="564.2" y1="356.4" x2="564.2" y2="359.9" stroke="#7f7f7f" stroke-width="2.2"/>
<text x="117.8" y="392.5" font-size="31.0" text-anchor="middle" fill="#111" stroke="#111" stroke-width="0.30" >0</text>
<text x="186.5" y="392.5" font-size="31.0" text-anchor="middle" fill="#111" stroke="#111" stroke-width="0.30" >20</text>
<text x="255.1" y="392.5" font-size="31.0" text-anchor="middle" fill="#111" stroke="#111" stroke-width="0.30" >40</text>
<text x="323.8" y="392.5" font-size="31.0" text-anchor="middle" fill="#111" stroke="#111" stroke-width="0.30" >60</text>
<text x="392.5" y="392.5" font-size="31.0" text-anchor="middle" fill="#111" stroke="#111" stroke-width="0.30" >80</text>
<text x="461.2" y="392.5" font-size="31.0" text-anchor="middle" fill="#111" stroke="#111" stroke-width="0.30" >100</text>
<text x="529.8" y="392.5" font-size="31.0" text-anchor="middle" fill="#111" stroke="#111" stroke-width="0.30" >120</text>
<text x="598.5" y="392.5" font-size="31.0" text-anchor="middle" fill="#111" stroke="#111" stroke-width="0.30" >140</text>
<line x1="93.7" y1="314.9" x2="100.7" y2="314.9" stroke="#7f7f7f" stroke-width="2.2"/>
<line x1="93.7" y1="246.3" x2="100.7" y2="246.3" stroke="#7f7f7f" stroke-width="2.2"/>
<line x1="93.7" y1="177.7" x2="100.7" y2="177.7" stroke="#7f7f7f" stroke-width="2.2"/>
<line x1="93.7" y1="109.1" x2="100.7" y2="109.1" stroke="#7f7f7f" stroke-width="2.2"/>
<line x1="93.7" y1="40.5" x2="100.7" y2="40.5" stroke="#7f7f7f" stroke-width="2.2"/>
<line x1="96.9" y1="349.2" x2="100.7" y2="349.2" stroke="#7f7f7f" stroke-width="2.2"/>
<line x1="96.9" y1="280.6" x2="100.7" y2="280.6" stroke="#7f7f7f" stroke-width="2.2"/>
<line x1="96.9" y1="212.0" x2="100.7" y2="212.0" stroke="#7f7f7f" stroke-width="2.2"/>
<line x1="96.9" y1="143.4" x2="100.7" y2="143.4" stroke="#7f7f7f" stroke-width="2.2"/>
<line x1="96.9" y1="74.8" x2="100.7" y2="74.8" stroke="#7f7f7f" stroke-width="2.2"/>
<text x="89.0" y="324.1" font-size="31.0" text-anchor="end" fill="#111" stroke="#111" stroke-width="0.30" >2.5</text>
<text x="89.0" y="255.5" font-size="31.0" text-anchor="end" fill="#111" stroke="#111" stroke-width="0.30" >3.0</text>
<text x="89.0" y="186.9" font-size="31.0" text-anchor="end" fill="#111" stroke="#111" stroke-width="0.30" >3.5</text>
<text x="89.0" y="118.3" font-size="31.0" text-anchor="end" fill="#111" stroke="#111" stroke-width="0.30" >4.0</text>
<text x="89.0" y="49.7" font-size="31.0" text-anchor="end" fill="#111" stroke="#111" stroke-width="0.30" >4.5</text>
<line x1="789.2" y1="359.0" x2="789.2" y2="365.5" stroke="#7f7f7f" stroke-width="2.2"/>
<line x1="863.0" y1="359.0" x2="863.0" y2="365.5" stroke="#7f7f7f" stroke-width="2.2"/>
<line x1="936.8" y1="359.0" x2="936.8" y2="365.5" stroke="#7f7f7f" stroke-width="2.2"/>
<line x1="1010.6" y1="359.0" x2="1010.6" y2="365.5" stroke="#7f7f7f" stroke-width="2.2"/>
<line x1="1084.3" y1="359.0" x2="1084.3" y2="365.5" stroke="#7f7f7f" stroke-width="2.2"/>
<line x1="1158.1" y1="359.0" x2="1158.1" y2="365.5" stroke="#7f7f7f" stroke-width="2.2"/>
<line x1="1231.9" y1="359.0" x2="1231.9" y2="365.5" stroke="#7f7f7f" stroke-width="2.2"/>
<line x1="826.1" y1="359.0" x2="826.1" y2="362.5" stroke="#7f7f7f" stroke-width="2.2"/>
<line x1="899.9" y1="359.0" x2="899.9" y2="362.5" stroke="#7f7f7f" stroke-width="2.2"/>
<line x1="973.7" y1="359.0" x2="973.7" y2="362.5" stroke="#7f7f7f" stroke-width="2.2"/>
<line x1="1047.4" y1="359.0" x2="1047.4" y2="362.5" stroke="#7f7f7f" stroke-width="2.2"/>
<line x1="1121.2" y1="359.0" x2="1121.2" y2="362.5" stroke="#7f7f7f" stroke-width="2.2"/>
<line x1="1195.0" y1="359.0" x2="1195.0" y2="362.5" stroke="#7f7f7f" stroke-width="2.2"/>
<text x="789.2" y="395.0" font-size="31.0" text-anchor="middle" fill="#111" stroke="#111" stroke-width="0.30" >0</text>
<text x="863.0" y="395.0" font-size="31.0" text-anchor="middle" fill="#111" stroke="#111" stroke-width="0.30" >20</text>
<text x="936.8" y="395.0" font-size="31.0" text-anchor="middle" fill="#111" stroke="#111" stroke-width="0.30" >40</text>
<text x="1010.6" y="395.0" font-size="31.0" text-anchor="middle" fill="#111" stroke="#111" stroke-width="0.30" >60</text>
<text x="1084.3" y="395.0" font-size="31.0" text-anchor="middle" fill="#111" stroke="#111" stroke-width="0.30" >80</text>
<text x="1158.1" y="395.0" font-size="31.0" text-anchor="middle" fill="#111" stroke="#111" stroke-width="0.30" >100</text>
<text x="1231.9" y="395.0" font-size="31.0" text-anchor="middle" fill="#111" stroke="#111" stroke-width="0.30" >120</text>
<line x1="763.8" y1="317.0" x2="770.8" y2="317.0" stroke="#7f7f7f" stroke-width="2.2"/>
<line x1="763.8" y1="248.4" x2="770.8" y2="248.4" stroke="#7f7f7f" stroke-width="2.2"/>
<line x1="763.8" y1="179.9" x2="770.8" y2="179.9" stroke="#7f7f7f" stroke-width="2.2"/>
<line x1="763.8" y1="111.3" x2="770.8" y2="111.3" stroke="#7f7f7f" stroke-width="2.2"/>
<line x1="763.8" y1="42.8" x2="770.8" y2="42.8" stroke="#7f7f7f" stroke-width="2.2"/>
<line x1="767.0" y1="351.3" x2="770.8" y2="351.3" stroke="#7f7f7f" stroke-width="2.2"/>
<line x1="767.0" y1="282.7" x2="770.8" y2="282.7" stroke="#7f7f7f" stroke-width="2.2"/>
<line x1="767.0" y1="214.2" x2="770.8" y2="214.2" stroke="#7f7f7f" stroke-width="2.2"/>
<line x1="767.0" y1="145.6" x2="770.8" y2="145.6" stroke="#7f7f7f" stroke-width="2.2"/>
<line x1="767.0" y1="77.1" x2="770.8" y2="77.1" stroke="#7f7f7f" stroke-width="2.2"/>
<text x="759.0" y="326.2" font-size="31.0" text-anchor="end" fill="#111" stroke="#111" stroke-width="0.30" >2.5</text>
<text x="759.0" y="257.6" font-size="31.0" text-anchor="end" fill="#111" stroke="#111" stroke-width="0.30" >3.0</text>
<text x="759.0" y="189.1" font-size="31.0" text-anchor="end" fill="#111" stroke="#111" stroke-width="0.30" >3.5</text>
<text x="759.0" y="120.5" font-size="31.0" text-anchor="end" fill="#111" stroke="#111" stroke-width="0.30" >4.0</text>
<text x="759.0" y="52.0" font-size="31.0" text-anchor="end" fill="#111" stroke="#111" stroke-width="0.30" >4.5</text>
<line x1="128.8" y1="852.8" x2="128.8" y2="859.3" stroke="#7f7f7f" stroke-width="2.2"/>
<line x1="220.9" y1="852.8" x2="220.9" y2="859.3" stroke="#7f7f7f" stroke-width="2.2"/>
<line x1="313.1" y1="852.8" x2="313.1" y2="859.3" stroke="#7f7f7f" stroke-width="2.2"/>
<line x1="405.2" y1="852.8" x2="405.2" y2="859.3" stroke="#7f7f7f" stroke-width="2.2"/>
<line x1="497.4" y1="852.8" x2="497.4" y2="859.3" stroke="#7f7f7f" stroke-width="2.2"/>
<line x1="589.5" y1="852.8" x2="589.5" y2="859.3" stroke="#7f7f7f" stroke-width="2.2"/>
<line x1="174.9" y1="852.8" x2="174.9" y2="856.3" stroke="#7f7f7f" stroke-width="2.2"/>
<line x1="267.0" y1="852.8" x2="267.0" y2="856.3" stroke="#7f7f7f" stroke-width="2.2"/>
<line x1="359.1" y1="852.8" x2="359.1" y2="856.3" stroke="#7f7f7f" stroke-width="2.2"/>
<line x1="451.3" y1="852.8" x2="451.3" y2="856.3" stroke="#7f7f7f" stroke-width="2.2"/>
<line x1="543.4" y1="852.8" x2="543.4" y2="856.3" stroke="#7f7f7f" stroke-width="2.2"/>
<text x="128.8" y="889.0" font-size="31.0" text-anchor="middle" fill="#111" stroke="#111" stroke-width="0.30" >0</text>
<text x="220.9" y="889.0" font-size="31.0" text-anchor="middle" fill="#111" stroke="#111" stroke-width="0.30" >10</text>
<text x="313.1" y="889.0" font-size="31.0" text-anchor="middle" fill="#111" stroke="#111" stroke-width="0.30" >20</text>
<text x="405.2" y="889.0" font-size="31.0" text-anchor="middle" fill="#111" stroke="#111" stroke-width="0.30" >30</text>
<text x="497.4" y="889.0" font-size="31.0" text-anchor="middle" fill="#111" stroke="#111" stroke-width="0.30" >40</text>
<text x="589.5" y="889.0" font-size="31.0" text-anchor="middle" fill="#111" stroke="#111" stroke-width="0.30" >50</text>
<line x1="103.2" y1="852.8" x2="110.2" y2="852.8" stroke="#7f7f7f" stroke-width="2.2"/>
<line x1="103.2" y1="806.2" x2="110.2" y2="806.2" stroke="#7f7f7f" stroke-width="2.2"/>
<line x1="103.2" y1="759.5" x2="110.2" y2="759.5" stroke="#7f7f7f" stroke-width="2.2"/>
<line x1="103.2" y1="712.9" x2="110.2" y2="712.9" stroke="#7f7f7f" stroke-width="2.2"/>
<line x1="103.2" y1="666.3" x2="110.2" y2="666.3" stroke="#7f7f7f" stroke-width="2.2"/>
<line x1="103.2" y1="619.7" x2="110.2" y2="619.7" stroke="#7f7f7f" stroke-width="2.2"/>
<line x1="103.2" y1="573.0" x2="110.2" y2="573.0" stroke="#7f7f7f" stroke-width="2.2"/>
<line x1="103.2" y1="526.4" x2="110.2" y2="526.4" stroke="#7f7f7f" stroke-width="2.2"/>
<line x1="106.4" y1="829.5" x2="110.2" y2="829.5" stroke="#7f7f7f" stroke-width="2.2"/>
<line x1="106.4" y1="782.9" x2="110.2" y2="782.9" stroke="#7f7f7f" stroke-width="2.2"/>
<line x1="106.4" y1="736.2" x2="110.2" y2="736.2" stroke="#7f7f7f" stroke-width="2.2"/>
<line x1="106.4" y1="689.6" x2="110.2" y2="689.6" stroke="#7f7f7f" stroke-width="2.2"/>
<line x1="106.4" y1="643.0" x2="110.2" y2="643.0" stroke="#7f7f7f" stroke-width="2.2"/>
<line x1="106.4" y1="596.3" x2="110.2" y2="596.3" stroke="#7f7f7f" stroke-width="2.2"/>
<line x1="106.4" y1="549.7" x2="110.2" y2="549.7" stroke="#7f7f7f" stroke-width="2.2"/>
<text x="98.0" y="861.1" font-size="31.0" text-anchor="end" fill="#111" stroke="#111" stroke-width="0.30" >0</text>
<text x="98.0" y="814.5" font-size="31.0" text-anchor="end" fill="#111" stroke="#111" stroke-width="0.30" >20</text>
<text x="98.0" y="767.8" font-size="31.0" text-anchor="end" fill="#111" stroke="#111" stroke-width="0.30" >40</text>
<text x="98.0" y="721.2" font-size="31.0" text-anchor="end" fill="#111" stroke="#111" stroke-width="0.30" >60</text>
<text x="98.0" y="674.6" font-size="31.0" text-anchor="end" fill="#111" stroke="#111" stroke-width="0.30" >80</text>
<text x="98.0" y="628.0" font-size="31.0" text-anchor="end" fill="#111" stroke="#111" stroke-width="0.30" >100</text>
<text x="98.0" y="581.3" font-size="31.0" text-anchor="end" fill="#111" stroke="#111" stroke-width="0.30" >120</text>
<text x="98.0" y="534.7" font-size="31.0" text-anchor="end" fill="#111" stroke="#111" stroke-width="0.30" >140</text>
<line x1="796.5" y1="852.8" x2="796.5" y2="859.3" stroke="#7f7f7f" stroke-width="2.2"/>
<line x1="888.8" y1="852.8" x2="888.8" y2="859.3" stroke="#7f7f7f" stroke-width="2.2"/>
<line x1="981.2" y1="852.8" x2="981.2" y2="859.3" stroke="#7f7f7f" stroke-width="2.2"/>
<line x1="1073.5" y1="852.8" x2="1073.5" y2="859.3" stroke="#7f7f7f" stroke-width="2.2"/>
<line x1="1165.9" y1="852.8" x2="1165.9" y2="859.3" stroke="#7f7f7f" stroke-width="2.2"/>
<line x1="1258.2" y1="852.8" x2="1258.2" y2="859.3" stroke="#7f7f7f" stroke-width="2.2"/>
<line x1="842.7" y1="852.8" x2="842.7" y2="856.3" stroke="#7f7f7f" stroke-width="2.2"/>
<line x1="935.0" y1="852.8" x2="935.0" y2="856.3" stroke="#7f7f7f" stroke-width="2.2"/>
<line x1="1027.3" y1="852.8" x2="1027.3" y2="856.3" stroke="#7f7f7f" stroke-width="2.2"/>
<line x1="1119.7" y1="852.8" x2="1119.7" y2="856.3" stroke="#7f7f7f" stroke-width="2.2"/>
<line x1="1212.0" y1="852.8" x2="1212.0" y2="856.3" stroke="#7f7f7f" stroke-width="2.2"/>
<text x="796.5" y="889.0" font-size="31.0" text-anchor="middle" fill="#111" stroke="#111" stroke-width="0.30" >0</text>
<text x="888.8" y="889.0" font-size="31.0" text-anchor="middle" fill="#111" stroke="#111" stroke-width="0.30" >10</text>
<text x="981.2" y="889.0" font-size="31.0" text-anchor="middle" fill="#111" stroke="#111" stroke-width="0.30" >20</text>
<text x="1073.5" y="889.0" font-size="31.0" text-anchor="middle" fill="#111" stroke="#111" stroke-width="0.30" >30</text>
<text x="1165.9" y="889.0" font-size="31.0" text-anchor="middle" fill="#111" stroke="#111" stroke-width="0.30" >40</text>
<text x="1258.2" y="889.0" font-size="31.0" text-anchor="middle" fill="#111" stroke="#111" stroke-width="0.30" >50</text>
<line x1="771.5" y1="852.8" x2="778.5" y2="852.8" stroke="#7f7f7f" stroke-width="2.2"/>
<line x1="771.5" y1="809.1" x2="778.5" y2="809.1" stroke="#7f7f7f" stroke-width="2.2"/>
<line x1="771.5" y1="765.3" x2="778.5" y2="765.3" stroke="#7f7f7f" stroke-width="2.2"/>
<line x1="771.5" y1="721.6" x2="778.5" y2="721.6" stroke="#7f7f7f" stroke-width="2.2"/>
<line x1="771.5" y1="677.9" x2="778.5" y2="677.9" stroke="#7f7f7f" stroke-width="2.2"/>
<line x1="771.5" y1="634.2" x2="778.5" y2="634.2" stroke="#7f7f7f" stroke-width="2.2"/>
<line x1="771.5" y1="590.4" x2="778.5" y2="590.4" stroke="#7f7f7f" stroke-width="2.2"/>
<line x1="771.5" y1="546.7" x2="778.5" y2="546.7" stroke="#7f7f7f" stroke-width="2.2"/>
<line x1="771.5" y1="503.0" x2="778.5" y2="503.0" stroke="#7f7f7f" stroke-width="2.2"/>
<line x1="774.7" y1="830.9" x2="778.5" y2="830.9" stroke="#7f7f7f" stroke-width="2.2"/>
<line x1="774.7" y1="787.2" x2="778.5" y2="787.2" stroke="#7f7f7f" stroke-width="2.2"/>
<line x1="774.7" y1="743.5" x2="778.5" y2="743.5" stroke="#7f7f7f" stroke-width="2.2"/>
<line x1="774.7" y1="699.8" x2="778.5" y2="699.8" stroke="#7f7f7f" stroke-width="2.2"/>
<line x1="774.7" y1="656.0" x2="778.5" y2="656.0" stroke="#7f7f7f" stroke-width="2.2"/>
<line x1="774.7" y1="612.3" x2="778.5" y2="612.3" stroke="#7f7f7f" stroke-width="2.2"/>
<line x1="774.7" y1="568.6" x2="778.5" y2="568.6" stroke="#7f7f7f" stroke-width="2.2"/>
<line x1="774.7" y1="524.9" x2="778.5" y2="524.9" stroke="#7f7f7f" stroke-width="2.2"/>
<text x="766.0" y="862.0" font-size="31.0" text-anchor="end" fill="#111" stroke="#111" stroke-width="0.30" >3.0</text>
<text x="766.0" y="818.3" font-size="31.0" text-anchor="end" fill="#111" stroke="#111" stroke-width="0.30" >3.1</text>
<text x="766.0" y="774.5" font-size="31.0" text-anchor="end" fill="#111" stroke="#111" stroke-width="0.30" >3.2</text>
<text x="766.0" y="730.8" font-size="31.0" text-anchor="end" fill="#111" stroke="#111" stroke-width="0.30" >3.3</text>
<text x="766.0" y="687.1" font-size="31.0" text-anchor="end" fill="#111" stroke="#111" stroke-width="0.30" >3.4</text>
<text x="766.0" y="643.4" font-size="31.0" text-anchor="end" fill="#111" stroke="#111" stroke-width="0.30" >3.5</text>
<text x="766.0" y="599.6" font-size="31.0" text-anchor="end" fill="#111" stroke="#111" stroke-width="0.30" >3.6</text>
<text x="766.0" y="555.9" font-size="31.0" text-anchor="end" fill="#111" stroke="#111" stroke-width="0.30" >3.7</text>
<text x="766.0" y="512.2" font-size="31.0" text-anchor="end" fill="#111" stroke="#111" stroke-width="0.30" >3.8</text>
<text x="349.5" y="425.8" font-size="31.0" text-anchor="middle" fill="#111" stroke="#111" stroke-width="0.30" >Specific capacity (mAh/g)</text>
<text x="1019.0" y="425.8" font-size="31.0" text-anchor="middle" fill="#111" stroke="#111" stroke-width="0.30" >Specific capacity (mAh/g)</text>
<text x="359.5" y="924.5" font-size="31.0" text-anchor="middle" fill="#111" stroke="#111" stroke-width="0.30" >Cycle number</text>
<text x="1037.0" y="924.5" font-size="31.0" text-anchor="middle" fill="#111" stroke="#111" stroke-width="0.30" >Cycle number</text>
<text transform="translate(35.0 165.3) rotate(-90)" font-size="31.4" text-anchor="middle" fill="#111" stroke="#111" stroke-width="0.30">Voltage (V vs. Na<tspan font-size="19" dy="-12">+</tspan><tspan dy="12">/Na)</tspan></text>
<text transform="translate(705.0 184.0) rotate(-90)" font-size="31.4" text-anchor="middle" fill="#111" stroke="#111" stroke-width="0.30">Voltage (V vs. Na<tspan font-size="19" dy="-12">+</tspan><tspan dy="12">/Na)</tspan></text>
<text transform="translate(36.0 677.0) rotate(-90)" font-size="31.0" text-anchor="middle" fill="#111" stroke="#111" stroke-width="0.30">Discharge capacity (mAh/g)</text>
<text transform="translate(711.0 681.3) rotate(-90)" font-size="31.5" text-anchor="middle" fill="#111" stroke="#111" stroke-width="0.30">Average voltage (V vs Na<tspan font-size="19" dy="-12">+</tspan><tspan dy="12">/Na)</tspan></text>
<text x="288.0" y="41.5" font-size="31.0" text-anchor="start" fill="#111" stroke="#111" stroke-width="0.30" >Pristine</text>
<text x="815.0" y="40.5" font-size="31.0" text-anchor="start" fill="#111" stroke="#111" stroke-width="0.30" >Water-processed</text>
<text x="141.0" y="334.5" font-size="53.0" text-anchor="start" fill="#000" stroke="#000" stroke-width="0.30" >a</text>
<text x="799.5" y="333.5" font-size="53.0" text-anchor="start" fill="#000" stroke="#000" stroke-width="0.30" >b</text>
<text transform="translate(140.0 827.5) scale(1.085 1)" font-size="55" fill="#000" stroke="#000" stroke-width="0.3">c</text>
<text transform="translate(816.3 827.5) scale(1.07 1)" font-size="55" fill="#000" stroke="#000" stroke-width="0.3">d</text>
<text x="128.5" y="75.5" font-size="21.0" text-anchor="start" fill="#333" stroke="#333" stroke-width="0.30" >Voltage fade</text>
<g stroke="#1e1e90" stroke-width="2.4" fill="none">
<line x1="98" y1="48.5" x2="128" y2="48.5"/>
<line x1="98" y1="121.3" x2="128" y2="121.3"/>
</g>
<line x1="110.8" y1="48.5" x2="110.8" y2="112" stroke="#3c3cc8" stroke-width="1.6"/>
<path d="M107.6 108.5 L114.0 108.5 L110.8 118.5 Z" fill="#2424a8"/>
<line x1="437.3" y1="64" x2="437.3" y2="100" stroke="#2a2ad0" stroke-width="2.4"/>
<line x1="581.7" y1="61" x2="581.7" y2="96.5" stroke="#2a2ad0" stroke-width="2.4"/>
<line x1="437.3" y1="78.5" x2="573" y2="78.5" stroke="#6464e6" stroke-width="2"/>
<path d="M571 75.8 L581 78.5 L571 81.2 Z" fill="#2424b0"/>
<defs><radialGradient id="rg" cx="0.42" cy="0.38" r="0.62"><stop offset="0" stop-color="#ffd4d4"/><stop offset="0.45" stop-color="#f58a8a"/><stop offset="1" stop-color="#e25a5a"/></radialGradient></defs>
<rect x="133.3" y="595.1" width="9.5" height="9.5" fill="#e8f6e8" stroke="#2e9a3a" stroke-width="1.1"/>
<rect x="133.3" y="595.1" width="5.3" height="9.5" fill="#0a7d1a"/>
<rect x="142.5" y="578.3" width="9.5" height="9.5" fill="#e8f6e8" stroke="#2e9a3a" stroke-width="1.1"/>
<rect x="142.5" y="578.3" width="5.3" height="9.5" fill="#0a7d1a"/>
<rect x="151.7" y="589.3" width="9.5" height="9.5" fill="#e8f6e8" stroke="#2e9a3a" stroke-width="1.1"/>
<rect x="151.7" y="589.3" width="5.3" height="9.5" fill="#0a7d1a"/>
<rect x="160.9" y="595.1" width="9.5" height="9.5" fill="#e8f6e8" stroke="#2e9a3a" stroke-width="1.1"/>
<rect x="160.9" y="595.1" width="5.3" height="9.5" fill="#0a7d1a"/>
<rect x="170.1" y="605.6" width="9.5" height="9.5" fill="#e8f6e8" stroke="#2e9a3a" stroke-width="1.1"/>
<rect x="170.1" y="605.6" width="5.3" height="9.5" fill="#0a7d1a"/>
<rect x="179.3" y="610.2" width="9.5" height="9.5" fill="#e8f6e8" stroke="#2e9a3a" stroke-width="1.1"/>
<rect x="179.3" y="610.2" width="5.3" height="9.5" fill="#0a7d1a"/>
<rect x="188.5" y="610.9" width="9.5" height="9.5" fill="#e8f6e8" stroke="#2e9a3a" stroke-width="1.1"/>
<rect x="188.5" y="610.9" width="5.3" height="9.5" fill="#0a7d1a"/>
<rect x="197.8" y="605.6" width="9.5" height="9.5" fill="#e8f6e8" stroke="#2e9a3a" stroke-width="1.1"/>
<rect x="197.8" y="605.6" width="5.3" height="9.5" fill="#0a7d1a"/>
<rect x="207.0" y="606.7" width="9.5" height="9.5" fill="#e8f6e8" stroke="#2e9a3a" stroke-width="1.1"/>
<rect x="207.0" y="606.7" width="5.3" height="9.5" fill="#0a7d1a"/>
<rect x="216.2" y="607.9" width="9.5" height="9.5" fill="#e8f6e8" stroke="#2e9a3a" stroke-width="1.1"/>
<rect x="216.2" y="607.9" width="5.3" height="9.5" fill="#0a7d1a"/>
<rect x="225.4" y="609.1" width="9.5" height="9.5" fill="#e8f6e8" stroke="#2e9a3a" stroke-width="1.1"/>
<rect x="225.4" y="609.1" width="5.3" height="9.5" fill="#0a7d1a"/>
<rect x="234.6" y="610.2" width="9.5" height="9.5" fill="#e8f6e8" stroke="#2e9a3a" stroke-width="1.1"/>
<rect x="234.6" y="610.2" width="5.3" height="9.5" fill="#0a7d1a"/>
<rect x="243.8" y="614.9" width="9.5" height="9.5" fill="#e8f6e8" stroke="#2e9a3a" stroke-width="1.1"/>
<rect x="243.8" y="614.9" width="5.3" height="9.5" fill="#0a7d1a"/>
<rect x="253.0" y="614.9" width="9.5" height="9.5" fill="#e8f6e8" stroke="#2e9a3a" stroke-width="1.1"/>
<rect x="253.0" y="614.9" width="5.3" height="9.5" fill="#0a7d1a"/>
<rect x="262.3" y="614.9" width="9.5" height="9.5" fill="#e8f6e8" stroke="#2e9a3a" stroke-width="1.1"/>
<rect x="262.3" y="614.9" width="5.3" height="9.5" fill="#0a7d1a"/>
<rect x="271.5" y="616.5" width="9.5" height="9.5" fill="#e8f6e8" stroke="#2e9a3a" stroke-width="1.1"/>
<rect x="271.5" y="616.5" width="5.3" height="9.5" fill="#0a7d1a"/>
<rect x="280.7" y="619.6" width="9.5" height="9.5" fill="#e8f6e8" stroke="#2e9a3a" stroke-width="1.1"/>
<rect x="280.7" y="619.6" width="5.3" height="9.5" fill="#0a7d1a"/>
<rect x="289.9" y="619.6" width="9.5" height="9.5" fill="#e8f6e8" stroke="#2e9a3a" stroke-width="1.1"/>
<rect x="289.9" y="619.6" width="5.3" height="9.5" fill="#0a7d1a"/>
<rect x="299.1" y="619.6" width="9.5" height="9.5" fill="#e8f6e8" stroke="#2e9a3a" stroke-width="1.1"/>
<rect x="299.1" y="619.6" width="5.3" height="9.5" fill="#0a7d1a"/>
<rect x="308.3" y="619.6" width="9.5" height="9.5" fill="#e8f6e8" stroke="#2e9a3a" stroke-width="1.1"/>
<rect x="308.3" y="619.6" width="5.3" height="9.5" fill="#0a7d1a"/>
<rect x="317.5" y="620.7" width="9.5" height="9.5" fill="#e8f6e8" stroke="#2e9a3a" stroke-width="1.1"/>
<rect x="317.5" y="620.7" width="5.3" height="9.5" fill="#0a7d1a"/>
<rect x="326.8" y="621.9" width="9.5" height="9.5" fill="#e8f6e8" stroke="#2e9a3a" stroke-width="1.1"/>
<rect x="326.8" y="621.9" width="5.3" height="9.5" fill="#0a7d1a"/>
<rect x="336.0" y="621.9" width="9.5" height="9.5" fill="#e8f6e8" stroke="#2e9a3a" stroke-width="1.1"/>
<rect x="336.0" y="621.9" width="5.3" height="9.5" fill="#0a7d1a"/>
<rect x="345.2" y="622.6" width="9.5" height="9.5" fill="#e8f6e8" stroke="#2e9a3a" stroke-width="1.1"/>
<rect x="345.2" y="622.6" width="5.3" height="9.5" fill="#0a7d1a"/>
<rect x="354.4" y="623.1" width="9.5" height="9.5" fill="#e8f6e8" stroke="#2e9a3a" stroke-width="1.1"/>
<rect x="354.4" y="623.1" width="5.3" height="9.5" fill="#0a7d1a"/>
<rect x="363.6" y="623.1" width="9.5" height="9.5" fill="#e8f6e8" stroke="#2e9a3a" stroke-width="1.1"/>
<rect x="363.6" y="623.1" width="5.3" height="9.5" fill="#0a7d1a"/>
<rect x="372.8" y="623.8" width="9.5" height="9.5" fill="#e8f6e8" stroke="#2e9a3a" stroke-width="1.1"/>
<rect x="372.8" y="623.8" width="5.3" height="9.5" fill="#0a7d1a"/>
<rect x="382.0" y="623.1" width="9.5" height="9.5" fill="#e8f6e8" stroke="#2e9a3a" stroke-width="1.1"/>
<rect x="382.0" y="623.1" width="5.3" height="9.5" fill="#0a7d1a"/>
<rect x="391.3" y="623.8" width="9.5" height="9.5" fill="#e8f6e8" stroke="#2e9a3a" stroke-width="1.1"/>
<rect x="391.3" y="623.8" width="5.3" height="9.5" fill="#0a7d1a"/>
<rect x="400.5" y="623.8" width="9.5" height="9.5" fill="#e8f6e8" stroke="#2e9a3a" stroke-width="1.1"/>
<rect x="400.5" y="623.8" width="5.3" height="9.5" fill="#0a7d1a"/>
<rect x="409.7" y="624.7" width="9.5" height="9.5" fill="#e8f6e8" stroke="#2e9a3a" stroke-width="1.1"/>
<rect x="409.7" y="624.7" width="5.3" height="9.5" fill="#0a7d1a"/>
<rect x="418.9" y="622.4" width="9.5" height="9.5" fill="#e8f6e8" stroke="#2e9a3a" stroke-width="1.1"/>
<rect x="418.9" y="622.4" width="5.3" height="9.5" fill="#0a7d1a"/>
<rect x="428.1" y="623.1" width="9.5" height="9.5" fill="#e8f6e8" stroke="#2e9a3a" stroke-width="1.1"/>
<rect x="428.1" y="623.1" width="5.3" height="9.5" fill="#0a7d1a"/>
<rect x="437.3" y="622.4" width="9.5" height="9.5" fill="#e8f6e8" stroke="#2e9a3a" stroke-width="1.1"/>
<rect x="437.3" y="622.4" width="5.3" height="9.5" fill="#0a7d1a"/>
<rect x="446.5" y="623.1" width="9.5" height="9.5" fill="#e8f6e8" stroke="#2e9a3a" stroke-width="1.1"/>
<rect x="446.5" y="623.1" width="5.3" height="9.5" fill="#0a7d1a"/>
<rect x="455.8" y="621.4" width="9.5" height="9.5" fill="#e8f6e8" stroke="#2e9a3a" stroke-width="1.1"/>
<rect x="455.8" y="621.4" width="5.3" height="9.5" fill="#0a7d1a"/>
<rect x="465.0" y="615.8" width="9.5" height="9.5" fill="#e8f6e8" stroke="#2e9a3a" stroke-width="1.1"/>
<rect x="465.0" y="615.8" width="5.3" height="9.5" fill="#0a7d1a"/>
<rect x="474.2" y="613.7" width="9.5" height="9.5" fill="#e8f6e8" stroke="#2e9a3a" stroke-width="1.1"/>
<rect x="474.2" y="613.7" width="5.3" height="9.5" fill="#0a7d1a"/>
<rect x="483.4" y="616.8" width="9.5" height="9.5" fill="#e8f6e8" stroke="#2e9a3a" stroke-width="1.1"/>
<rect x="483.4" y="616.8" width="5.3" height="9.5" fill="#0a7d1a"/>
<rect x="492.6" y="619.6" width="9.5" height="9.5" fill="#e8f6e8" stroke="#2e9a3a" stroke-width="1.1"/>
<rect x="492.6" y="619.6" width="5.3" height="9.5" fill="#0a7d1a"/>
<rect x="501.8" y="620.7" width="9.5" height="9.5" fill="#e8f6e8" stroke="#2e9a3a" stroke-width="1.1"/>
<rect x="501.8" y="620.7" width="5.3" height="9.5" fill="#0a7d1a"/>
<rect x="511.0" y="621.9" width="9.5" height="9.5" fill="#e8f6e8" stroke="#2e9a3a" stroke-width="1.1"/>
<rect x="511.0" y="621.9" width="5.3" height="9.5" fill="#0a7d1a"/>
<rect x="520.3" y="621.9" width="9.5" height="9.5" fill="#e8f6e8" stroke="#2e9a3a" stroke-width="1.1"/>
<rect x="520.3" y="621.9" width="5.3" height="9.5" fill="#0a7d1a"/>
<rect x="529.5" y="618.2" width="9.5" height="9.5" fill="#e8f6e8" stroke="#2e9a3a" stroke-width="1.1"/>
<rect x="529.5" y="618.2" width="5.3" height="9.5" fill="#0a7d1a"/>
<rect x="538.7" y="618.4" width="9.5" height="9.5" fill="#e8f6e8" stroke="#2e9a3a" stroke-width="1.1"/>
<rect x="538.7" y="618.4" width="5.3" height="9.5" fill="#0a7d1a"/>
<rect x="547.9" y="619.1" width="9.5" height="9.5" fill="#e8f6e8" stroke="#2e9a3a" stroke-width="1.1"/>
<rect x="547.9" y="619.1" width="5.3" height="9.5" fill="#0a7d1a"/>
<rect x="557.1" y="618.4" width="9.5" height="9.5" fill="#e8f6e8" stroke="#2e9a3a" stroke-width="1.1"/>
<rect x="557.1" y="618.4" width="5.3" height="9.5" fill="#0a7d1a"/>
<rect x="566.3" y="618.9" width="9.5" height="9.5" fill="#e8f6e8" stroke="#2e9a3a" stroke-width="1.1"/>
<rect x="566.3" y="618.9" width="5.3" height="9.5" fill="#0a7d1a"/>
<rect x="575.5" y="619.1" width="9.5" height="9.5" fill="#e8f6e8" stroke="#2e9a3a" stroke-width="1.1"/>
<rect x="575.5" y="619.1" width="5.3" height="9.5" fill="#0a7d1a"/>
<rect x="584.8" y="619.6" width="9.5" height="9.5" fill="#e8f6e8" stroke="#2e9a3a" stroke-width="1.1"/>
<rect x="584.8" y="619.6" width="5.3" height="9.5" fill="#0a7d1a"/>
<circle cx="138.0" cy="594.0" r="4.4" fill="url(#rg)"/>
<circle cx="147.2" cy="597.5" r="4.4" fill="url(#rg)"/>
<circle cx="156.4" cy="600.5" r="4.4" fill="url(#rg)"/>
<circle cx="165.7" cy="603.8" r="4.4" fill="url(#rg)"/>
<circle cx="174.9" cy="605.7" r="4.4" fill="url(#rg)"/>
<circle cx="184.1" cy="607.5" r="4.4" fill="url(#rg)"/>
<circle cx="193.3" cy="609.4" r="4.4" fill="url(#rg)"/>
<circle cx="202.5" cy="611.3" r="4.4" fill="url(#rg)"/>
<circle cx="211.7" cy="612.4" r="4.4" fill="url(#rg)"/>
<circle cx="220.9" cy="613.1" r="4.4" fill="url(#rg)"/>
<circle cx="230.2" cy="612.9" r="4.4" fill="url(#rg)"/>
<circle cx="239.4" cy="615.9" r="4.4" fill="url(#rg)"/>
<circle cx="248.6" cy="616.2" r="4.4" fill="url(#rg)"/>
<circle cx="257.8" cy="610.6" r="4.4" fill="url(#rg)"/>
<circle cx="267.0" cy="618.3" r="4.4" fill="url(#rg)"/>
<circle cx="276.2" cy="618.7" r="4.4" fill="url(#rg)"/>
<circle cx="285.4" cy="619.2" r="4.4" fill="url(#rg)"/>
<circle cx="294.7" cy="619.4" r="4.4" fill="url(#rg)"/>
<circle cx="303.9" cy="619.7" r="4.4" fill="url(#rg)"/>
<circle cx="313.1" cy="619.9" r="4.4" fill="url(#rg)"/>
<circle cx="322.3" cy="620.1" r="4.4" fill="url(#rg)"/>
<circle cx="331.5" cy="620.4" r="4.4" fill="url(#rg)"/>
<circle cx="340.7" cy="620.6" r="4.4" fill="url(#rg)"/>
<circle cx="349.9" cy="620.8" r="4.4" fill="url(#rg)"/>
<circle cx="359.1" cy="621.1" r="4.4" fill="url(#rg)"/>
<circle cx="368.4" cy="621.3" r="4.4" fill="url(#rg)"/>
<circle cx="377.6" cy="621.5" r="4.4" fill="url(#rg)"/>
<circle cx="386.8" cy="621.8" r="4.4" fill="url(#rg)"/>
<circle cx="396.0" cy="622.0" r="4.4" fill="url(#rg)"/>
<circle cx="405.2" cy="622.2" r="4.4" fill="url(#rg)"/>
<circle cx="414.4" cy="622.5" r="4.4" fill="url(#rg)"/>
<circle cx="423.6" cy="622.7" r="4.4" fill="url(#rg)"/>
<circle cx="432.9" cy="622.9" r="4.4" fill="url(#rg)"/>
<circle cx="442.1" cy="623.2" r="4.4" fill="url(#rg)"/>
<circle cx="451.3" cy="623.4" r="4.4" fill="url(#rg)"/>
<circle cx="460.5" cy="623.6" r="4.4" fill="url(#rg)"/>
<circle cx="469.7" cy="623.9" r="4.4" fill="url(#rg)"/>
<circle cx="478.9" cy="623.9" r="4.4" fill="url(#rg)"/>
<circle cx="488.1" cy="624.3" r="4.4" fill="url(#rg)"/>
<circle cx="497.4" cy="624.8" r="4.4" fill="url(#rg)"/>
<circle cx="506.6" cy="625.3" r="4.4" fill="url(#rg)"/>
<circle cx="515.8" cy="625.5" r="4.4" fill="url(#rg)"/>
<circle cx="525.0" cy="625.7" r="4.4" fill="url(#rg)"/>
<circle cx="534.2" cy="626.0" r="4.4" fill="url(#rg)"/>
<circle cx="543.4" cy="626.2" r="4.4" fill="url(#rg)"/>
<circle cx="552.6" cy="626.4" r="4.4" fill="url(#rg)"/>
<circle cx="561.9" cy="626.7" r="4.4" fill="url(#rg)"/>
<circle cx="571.1" cy="627.1" r="4.4" fill="url(#rg)"/>
<circle cx="580.3" cy="627.4" r="4.4" fill="url(#rg)"/>
<circle cx="589.5" cy="627.8" r="4.4" fill="url(#rg)"/>
<rect x="801.7" y="573.3" width="8.0" height="8.0" fill="#e8f6e8" stroke="#2e9a3a" stroke-width="1.1"/>
<rect x="805.1" y="573.3" width="4.6" height="8.0" fill="#0a7d1a"/>
<rect x="811.0" y="599.1" width="8.0" height="8.0" fill="#e8f6e8" stroke="#2e9a3a" stroke-width="1.1"/>
<rect x="814.4" y="599.1" width="4.6" height="8.0" fill="#0a7d1a"/>
<rect x="820.2" y="602.2" width="8.0" height="8.0" fill="#e8f6e8" stroke="#2e9a3a" stroke-width="1.1"/>
<rect x="823.6" y="602.2" width="4.6" height="8.0" fill="#0a7d1a"/>
<rect x="829.4" y="610.1" width="8.0" height="8.0" fill="#e8f6e8" stroke="#2e9a3a" stroke-width="1.1"/>
<rect x="832.8" y="610.1" width="4.6" height="8.0" fill="#0a7d1a"/>
<rect x="838.7" y="616.2" width="8.0" height="8.0" fill="#e8f6e8" stroke="#2e9a3a" stroke-width="1.1"/>
<rect x="842.1" y="616.2" width="4.6" height="8.0" fill="#0a7d1a"/>
<rect x="847.9" y="624.9" width="8.0" height="8.0" fill="#e8f6e8" stroke="#2e9a3a" stroke-width="1.1"/>
<rect x="851.3" y="624.9" width="4.6" height="8.0" fill="#0a7d1a"/>
<rect x="857.1" y="632.8" width="8.0" height="8.0" fill="#e8f6e8" stroke="#2e9a3a" stroke-width="1.1"/>
<rect x="860.5" y="632.8" width="4.6" height="8.0" fill="#0a7d1a"/>
<rect x="866.4" y="633.2" width="8.0" height="8.0" fill="#e8f6e8" stroke="#2e9a3a" stroke-width="1.1"/>
<rect x="869.8" y="633.2" width="4.6" height="8.0" fill="#0a7d1a"/>
<rect x="875.6" y="636.3" width="8.0" height="8.0" fill="#e8f6e8" stroke="#2e9a3a" stroke-width="1.1"/>
<rect x="879.0" y="636.3" width="4.6" height="8.0" fill="#0a7d1a"/>
<rect x="884.8" y="640.2" width="8.0" height="8.0" fill="#e8f6e8" stroke="#2e9a3a" stroke-width="1.1"/>
<rect x="888.2" y="640.2" width="4.6" height="8.0" fill="#0a7d1a"/>
<rect x="894.1" y="644.2" width="8.0" height="8.0" fill="#e8f6e8" stroke="#2e9a3a" stroke-width="1.1"/>
<rect x="897.5" y="644.2" width="4.6" height="8.0" fill="#0a7d1a"/>
<rect x="903.3" y="652.0" width="8.0" height="8.0" fill="#e8f6e8" stroke="#2e9a3a" stroke-width="1.1"/>
<rect x="906.7" y="652.0" width="4.6" height="8.0" fill="#0a7d1a"/>
<rect x="912.5" y="659.9" width="8.0" height="8.0" fill="#e8f6e8" stroke="#2e9a3a" stroke-width="1.1"/>
<rect x="915.9" y="659.9" width="4.6" height="8.0" fill="#0a7d1a"/>
<rect x="921.8" y="659.9" width="8.0" height="8.0" fill="#e8f6e8" stroke="#2e9a3a" stroke-width="1.1"/>
<rect x="925.2" y="659.9" width="4.6" height="8.0" fill="#0a7d1a"/>
<rect x="931.0" y="668.7" width="8.0" height="8.0" fill="#e8f6e8" stroke="#2e9a3a" stroke-width="1.1"/>
<rect x="934.4" y="668.7" width="4.6" height="8.0" fill="#0a7d1a"/>
<rect x="940.2" y="672.6" width="8.0" height="8.0" fill="#e8f6e8" stroke="#2e9a3a" stroke-width="1.1"/>
<rect x="943.6" y="672.6" width="4.6" height="8.0" fill="#0a7d1a"/>
<rect x="949.5" y="663.8" width="8.0" height="8.0" fill="#e8f6e8" stroke="#2e9a3a" stroke-width="1.1"/>
<rect x="952.9" y="663.8" width="4.6" height="8.0" fill="#0a7d1a"/>
<rect x="958.7" y="680.9" width="8.0" height="8.0" fill="#e8f6e8" stroke="#2e9a3a" stroke-width="1.1"/>
<rect x="962.1" y="680.9" width="4.6" height="8.0" fill="#0a7d1a"/>
<rect x="967.9" y="677.4" width="8.0" height="8.0" fill="#e8f6e8" stroke="#2e9a3a" stroke-width="1.1"/>
<rect x="971.3" y="677.4" width="4.6" height="8.0" fill="#0a7d1a"/>
<rect x="977.2" y="672.2" width="8.0" height="8.0" fill="#e8f6e8" stroke="#2e9a3a" stroke-width="1.1"/>
<rect x="980.6" y="672.2" width="4.6" height="8.0" fill="#0a7d1a"/>
<rect x="986.4" y="680.9" width="8.0" height="8.0" fill="#e8f6e8" stroke="#2e9a3a" stroke-width="1.1"/>
<rect x="989.8" y="680.9" width="4.6" height="8.0" fill="#0a7d1a"/>
<rect x="995.6" y="680.9" width="8.0" height="8.0" fill="#e8f6e8" stroke="#2e9a3a" stroke-width="1.1"/>
<rect x="999.0" y="680.9" width="4.6" height="8.0" fill="#0a7d1a"/>
<rect x="1004.9" y="680.9" width="8.0" height="8.0" fill="#e8f6e8" stroke="#2e9a3a" stroke-width="1.1"/>
<rect x="1008.3" y="680.9" width="4.6" height="8.0" fill="#0a7d1a"/>
<rect x="1014.1" y="680.9" width="8.0" height="8.0" fill="#e8f6e8" stroke="#2e9a3a" stroke-width="1.1"/>
<rect x="1017.5" y="680.9" width="4.6" height="8.0" fill="#0a7d1a"/>
<rect x="1023.3" y="694.0" width="8.0" height="8.0" fill="#e8f6e8" stroke="#2e9a3a" stroke-width="1.1"/>
<rect x="1026.8" y="694.0" width="4.6" height="8.0" fill="#0a7d1a"/>
<rect x="1032.6" y="694.0" width="8.0" height="8.0" fill="#e8f6e8" stroke="#2e9a3a" stroke-width="1.1"/>
<rect x="1036.0" y="694.0" width="4.6" height="8.0" fill="#0a7d1a"/>
<rect x="1041.8" y="684.8" width="8.0" height="8.0" fill="#e8f6e8" stroke="#2e9a3a" stroke-width="1.1"/>
<rect x="1045.2" y="684.8" width="4.6" height="8.0" fill="#0a7d1a"/>
<rect x="1051.1" y="694.0" width="8.0" height="8.0" fill="#e8f6e8" stroke="#2e9a3a" stroke-width="1.1"/>
<rect x="1054.5" y="694.0" width="4.6" height="8.0" fill="#0a7d1a"/>
<rect x="1060.3" y="694.0" width="8.0" height="8.0" fill="#e8f6e8" stroke="#2e9a3a" stroke-width="1.1"/>
<rect x="1063.7" y="694.0" width="4.6" height="8.0" fill="#0a7d1a"/>
<rect x="1069.5" y="684.8" width="8.0" height="8.0" fill="#e8f6e8" stroke="#2e9a3a" stroke-width="1.1"/>
<rect x="1072.9" y="684.8" width="4.6" height="8.0" fill="#0a7d1a"/>
<rect x="1078.8" y="684.8" width="8.0" height="8.0" fill="#e8f6e8" stroke="#2e9a3a" stroke-width="1.1"/>
<rect x="1082.2" y="684.8" width="4.6" height="8.0" fill="#0a7d1a"/>
<rect x="1088.0" y="694.0" width="8.0" height="8.0" fill="#e8f6e8" stroke="#2e9a3a" stroke-width="1.1"/>
<rect x="1091.4" y="694.0" width="4.6" height="8.0" fill="#0a7d1a"/>
<rect x="1097.2" y="698.4" width="8.0" height="8.0" fill="#e8f6e8" stroke="#2e9a3a" stroke-width="1.1"/>
<rect x="1100.6" y="698.4" width="4.6" height="8.0" fill="#0a7d1a"/>
<rect x="1106.5" y="684.8" width="8.0" height="8.0" fill="#e8f6e8" stroke="#2e9a3a" stroke-width="1.1"/>
<rect x="1109.9" y="684.8" width="4.6" height="8.0" fill="#0a7d1a"/>
<rect x="1115.7" y="694.0" width="8.0" height="8.0" fill="#e8f6e8" stroke="#2e9a3a" stroke-width="1.1"/>
<rect x="1119.1" y="694.0" width="4.6" height="8.0" fill="#0a7d1a"/>
<rect x="1124.9" y="684.8" width="8.0" height="8.0" fill="#e8f6e8" stroke="#2e9a3a" stroke-width="1.1"/>
<rect x="1128.3" y="684.8" width="4.6" height="8.0" fill="#0a7d1a"/>
<rect x="1134.2" y="689.6" width="8.0" height="8.0" fill="#e8f6e8" stroke="#2e9a3a" stroke-width="1.1"/>
<rect x="1137.6" y="689.6" width="4.6" height="8.0" fill="#0a7d1a"/>
<rect x="1143.4" y="689.6" width="8.0" height="8.0" fill="#e8f6e8" stroke="#2e9a3a" stroke-width="1.1"/>
<rect x="1146.8" y="689.6" width="4.6" height="8.0" fill="#0a7d1a"/>
<rect x="1152.6" y="698.4" width="8.0" height="8.0" fill="#e8f6e8" stroke="#2e9a3a" stroke-width="1.1"/>
<rect x="1156.0" y="698.4" width="4.6" height="8.0" fill="#0a7d1a"/>
<rect x="1161.9" y="684.8" width="8.0" height="8.0" fill="#e8f6e8" stroke="#2e9a3a" stroke-width="1.1"/>
<rect x="1165.3" y="684.8" width="4.6" height="8.0" fill="#0a7d1a"/>
<rect x="1171.1" y="689.6" width="8.0" height="8.0" fill="#e8f6e8" stroke="#2e9a3a" stroke-width="1.1"/>
<rect x="1174.5" y="689.6" width="4.6" height="8.0" fill="#0a7d1a"/>
<rect x="1180.3" y="689.6" width="8.0" height="8.0" fill="#e8f6e8" stroke="#2e9a3a" stroke-width="1.1"/>
<rect x="1183.7" y="689.6" width="4.6" height="8.0" fill="#0a7d1a"/>
<rect x="1189.6" y="698.4" width="8.0" height="8.0" fill="#e8f6e8" stroke="#2e9a3a" stroke-width="1.1"/>
<rect x="1193.0" y="698.4" width="4.6" height="8.0" fill="#0a7d1a"/>
<rect x="1198.8" y="698.4" width="8.0" height="8.0" fill="#e8f6e8" stroke="#2e9a3a" stroke-width="1.1"/>
<rect x="1202.2" y="698.4" width="4.6" height="8.0" fill="#0a7d1a"/>
<rect x="1208.0" y="698.4" width="8.0" height="8.0" fill="#e8f6e8" stroke="#2e9a3a" stroke-width="1.1"/>
<rect x="1211.4" y="698.4" width="4.6" height="8.0" fill="#0a7d1a"/>
<rect x="1217.3" y="689.6" width="8.0" height="8.0" fill="#e8f6e8" stroke="#2e9a3a" stroke-width="1.1"/>
<rect x="1220.7" y="689.6" width="4.6" height="8.0" fill="#0a7d1a"/>
<rect x="1226.5" y="694.0" width="8.0" height="8.0" fill="#e8f6e8" stroke="#2e9a3a" stroke-width="1.1"/>
<rect x="1229.9" y="694.0" width="4.6" height="8.0" fill="#0a7d1a"/>
<rect x="1235.7" y="698.4" width="8.0" height="8.0" fill="#e8f6e8" stroke="#2e9a3a" stroke-width="1.1"/>
<rect x="1239.1" y="698.4" width="4.6" height="8.0" fill="#0a7d1a"/>
<rect x="1245.0" y="689.6" width="8.0" height="8.0" fill="#e8f6e8" stroke="#2e9a3a" stroke-width="1.1"/>
<rect x="1248.4" y="689.6" width="4.6" height="8.0" fill="#0a7d1a"/>
<rect x="1254.2" y="689.6" width="8.0" height="8.0" fill="#e8f6e8" stroke="#2e9a3a" stroke-width="1.1"/>
<rect x="1257.6" y="689.6" width="4.6" height="8.0" fill="#0a7d1a"/>
<circle cx="805.7" cy="609.7" r="4.3" fill="url(#rg)"/>
<circle cx="815.0" cy="616.2" r="4.3" fill="url(#rg)"/>
<circle cx="824.2" cy="618.0" r="4.3" fill="url(#rg)"/>
<circle cx="833.4" cy="621.1" r="4.3" fill="url(#rg)"/>
<circle cx="842.7" cy="622.4" r="4.3" fill="url(#rg)"/>
<circle cx="851.9" cy="625.0" r="4.3" fill="url(#rg)"/>
<circle cx="861.1" cy="628.1" r="4.3" fill="url(#rg)"/>
<circle cx="870.4" cy="628.1" r="4.3" fill="url(#rg)"/>
<circle cx="879.6" cy="630.2" r="4.3" fill="url(#rg)"/>
<circle cx="888.8" cy="630.2" r="4.3" fill="url(#rg)"/>
<circle cx="898.1" cy="628.9" r="4.3" fill="url(#rg)"/>
<circle cx="907.3" cy="632.9" r="4.3" fill="url(#rg)"/>
<circle cx="916.5" cy="632.4" r="4.3" fill="url(#rg)"/>
<circle cx="925.8" cy="628.1" r="4.3" fill="url(#rg)"/>
<circle cx="935.0" cy="633.3" r="4.3" fill="url(#rg)"/>
<circle cx="944.2" cy="633.3" r="4.3" fill="url(#rg)"/>
<circle cx="953.5" cy="633.3" r="4.3" fill="url(#rg)"/>
<circle cx="962.7" cy="633.3" r="4.3" fill="url(#rg)"/>
<circle cx="971.9" cy="633.7" r="4.3" fill="url(#rg)"/>
<circle cx="981.2" cy="633.7" r="4.3" fill="url(#rg)"/>
<circle cx="990.4" cy="633.7" r="4.3" fill="url(#rg)"/>
<circle cx="999.6" cy="633.7" r="4.3" fill="url(#rg)"/>
<circle cx="1008.9" cy="633.7" r="4.3" fill="url(#rg)"/>
<circle cx="1018.1" cy="633.7" r="4.3" fill="url(#rg)"/>
<circle cx="1027.3" cy="633.7" r="4.3" fill="url(#rg)"/>
<circle cx="1036.6" cy="634.2" r="4.3" fill="url(#rg)"/>
<circle cx="1045.8" cy="634.2" r="4.3" fill="url(#rg)"/>
<circle cx="1055.1" cy="634.2" r="4.3" fill="url(#rg)"/>
<circle cx="1064.3" cy="634.2" r="4.3" fill="url(#rg)"/>
<circle cx="1073.5" cy="634.6" r="4.3" fill="url(#rg)"/>
<circle cx="1082.8" cy="634.6" r="4.3" fill="url(#rg)"/>
<circle cx="1092.0" cy="635.0" r="4.3" fill="url(#rg)"/>
<circle cx="1101.2" cy="635.0" r="4.3" fill="url(#rg)"/>
<circle cx="1110.5" cy="635.5" r="4.3" fill="url(#rg)"/>
<circle cx="1119.7" cy="635.9" r="4.3" fill="url(#rg)"/>
<circle cx="1128.9" cy="636.4" r="4.3" fill="url(#rg)"/>
<circle cx="1138.2" cy="636.8" r="4.3" fill="url(#rg)"/>
<circle cx="1147.4" cy="637.2" r="4.3" fill="url(#rg)"/>
<circle cx="1156.6" cy="637.7" r="4.3" fill="url(#rg)"/>
<circle cx="1165.9" cy="638.1" r="4.3" fill="url(#rg)"/>
<circle cx="1175.1" cy="638.5" r="4.3" fill="url(#rg)"/>
<circle cx="1184.3" cy="639.0" r="4.3" fill="url(#rg)"/>
<circle cx="1193.6" cy="639.4" r="4.3" fill="url(#rg)"/>
<circle cx="1202.8" cy="639.9" r="4.3" fill="url(#rg)"/>
<circle cx="1212.0" cy="640.3" r="4.3" fill="url(#rg)"/>
<circle cx="1221.3" cy="640.7" r="4.3" fill="url(#rg)"/>
<circle cx="1230.5" cy="641.6" r="4.3" fill="url(#rg)"/>
<circle cx="1239.7" cy="642.5" r="4.3" fill="url(#rg)"/>
<circle cx="1249.0" cy="643.4" r="4.3" fill="url(#rg)"/>
<circle cx="1258.2" cy="644.2" r="4.3" fill="url(#rg)"/>
<rect x="348.0" y="787.4" width="10.0" height="10.0" fill="#e8f6e8" stroke="#2e9a3a" stroke-width="1.1"/>
<rect x="348.0" y="787.4" width="5.6" height="10.0" fill="#0a7d1a"/>
<circle cx="353.0" cy="825.8" r="4.0" fill="url(#rg)"/>
<text x="392.0" y="802.0" font-size="27.5" text-anchor="start" fill="#111" stroke="#111" stroke-width="0.30" >Pristine</text>
<text x="392.0" y="836.0" font-size="27.5" text-anchor="start" fill="#111" stroke="#111" stroke-width="0.30" >Water-processed</text>
<rect x="1017.1" y="787.1" width="8.6" height="8.6" fill="#e8f6e8" stroke="#2e9a3a" stroke-width="1.1"/>
<rect x="1020.8" y="787.1" width="4.9" height="8.6" fill="#0a7d1a"/>
<circle cx="1021.4" cy="824.7" r="4.0" fill="url(#rg)"/>
<text x="1060.0" y="801.0" font-size="27.5" text-anchor="start" fill="#111" stroke="#111" stroke-width="0.30" >Pristine</text>
<text x="1060.0" y="835.0" font-size="27.5" text-anchor="start" fill="#111" stroke="#111" stroke-width="0.30" >Water-processed</text>
</svg>
</body></html>
